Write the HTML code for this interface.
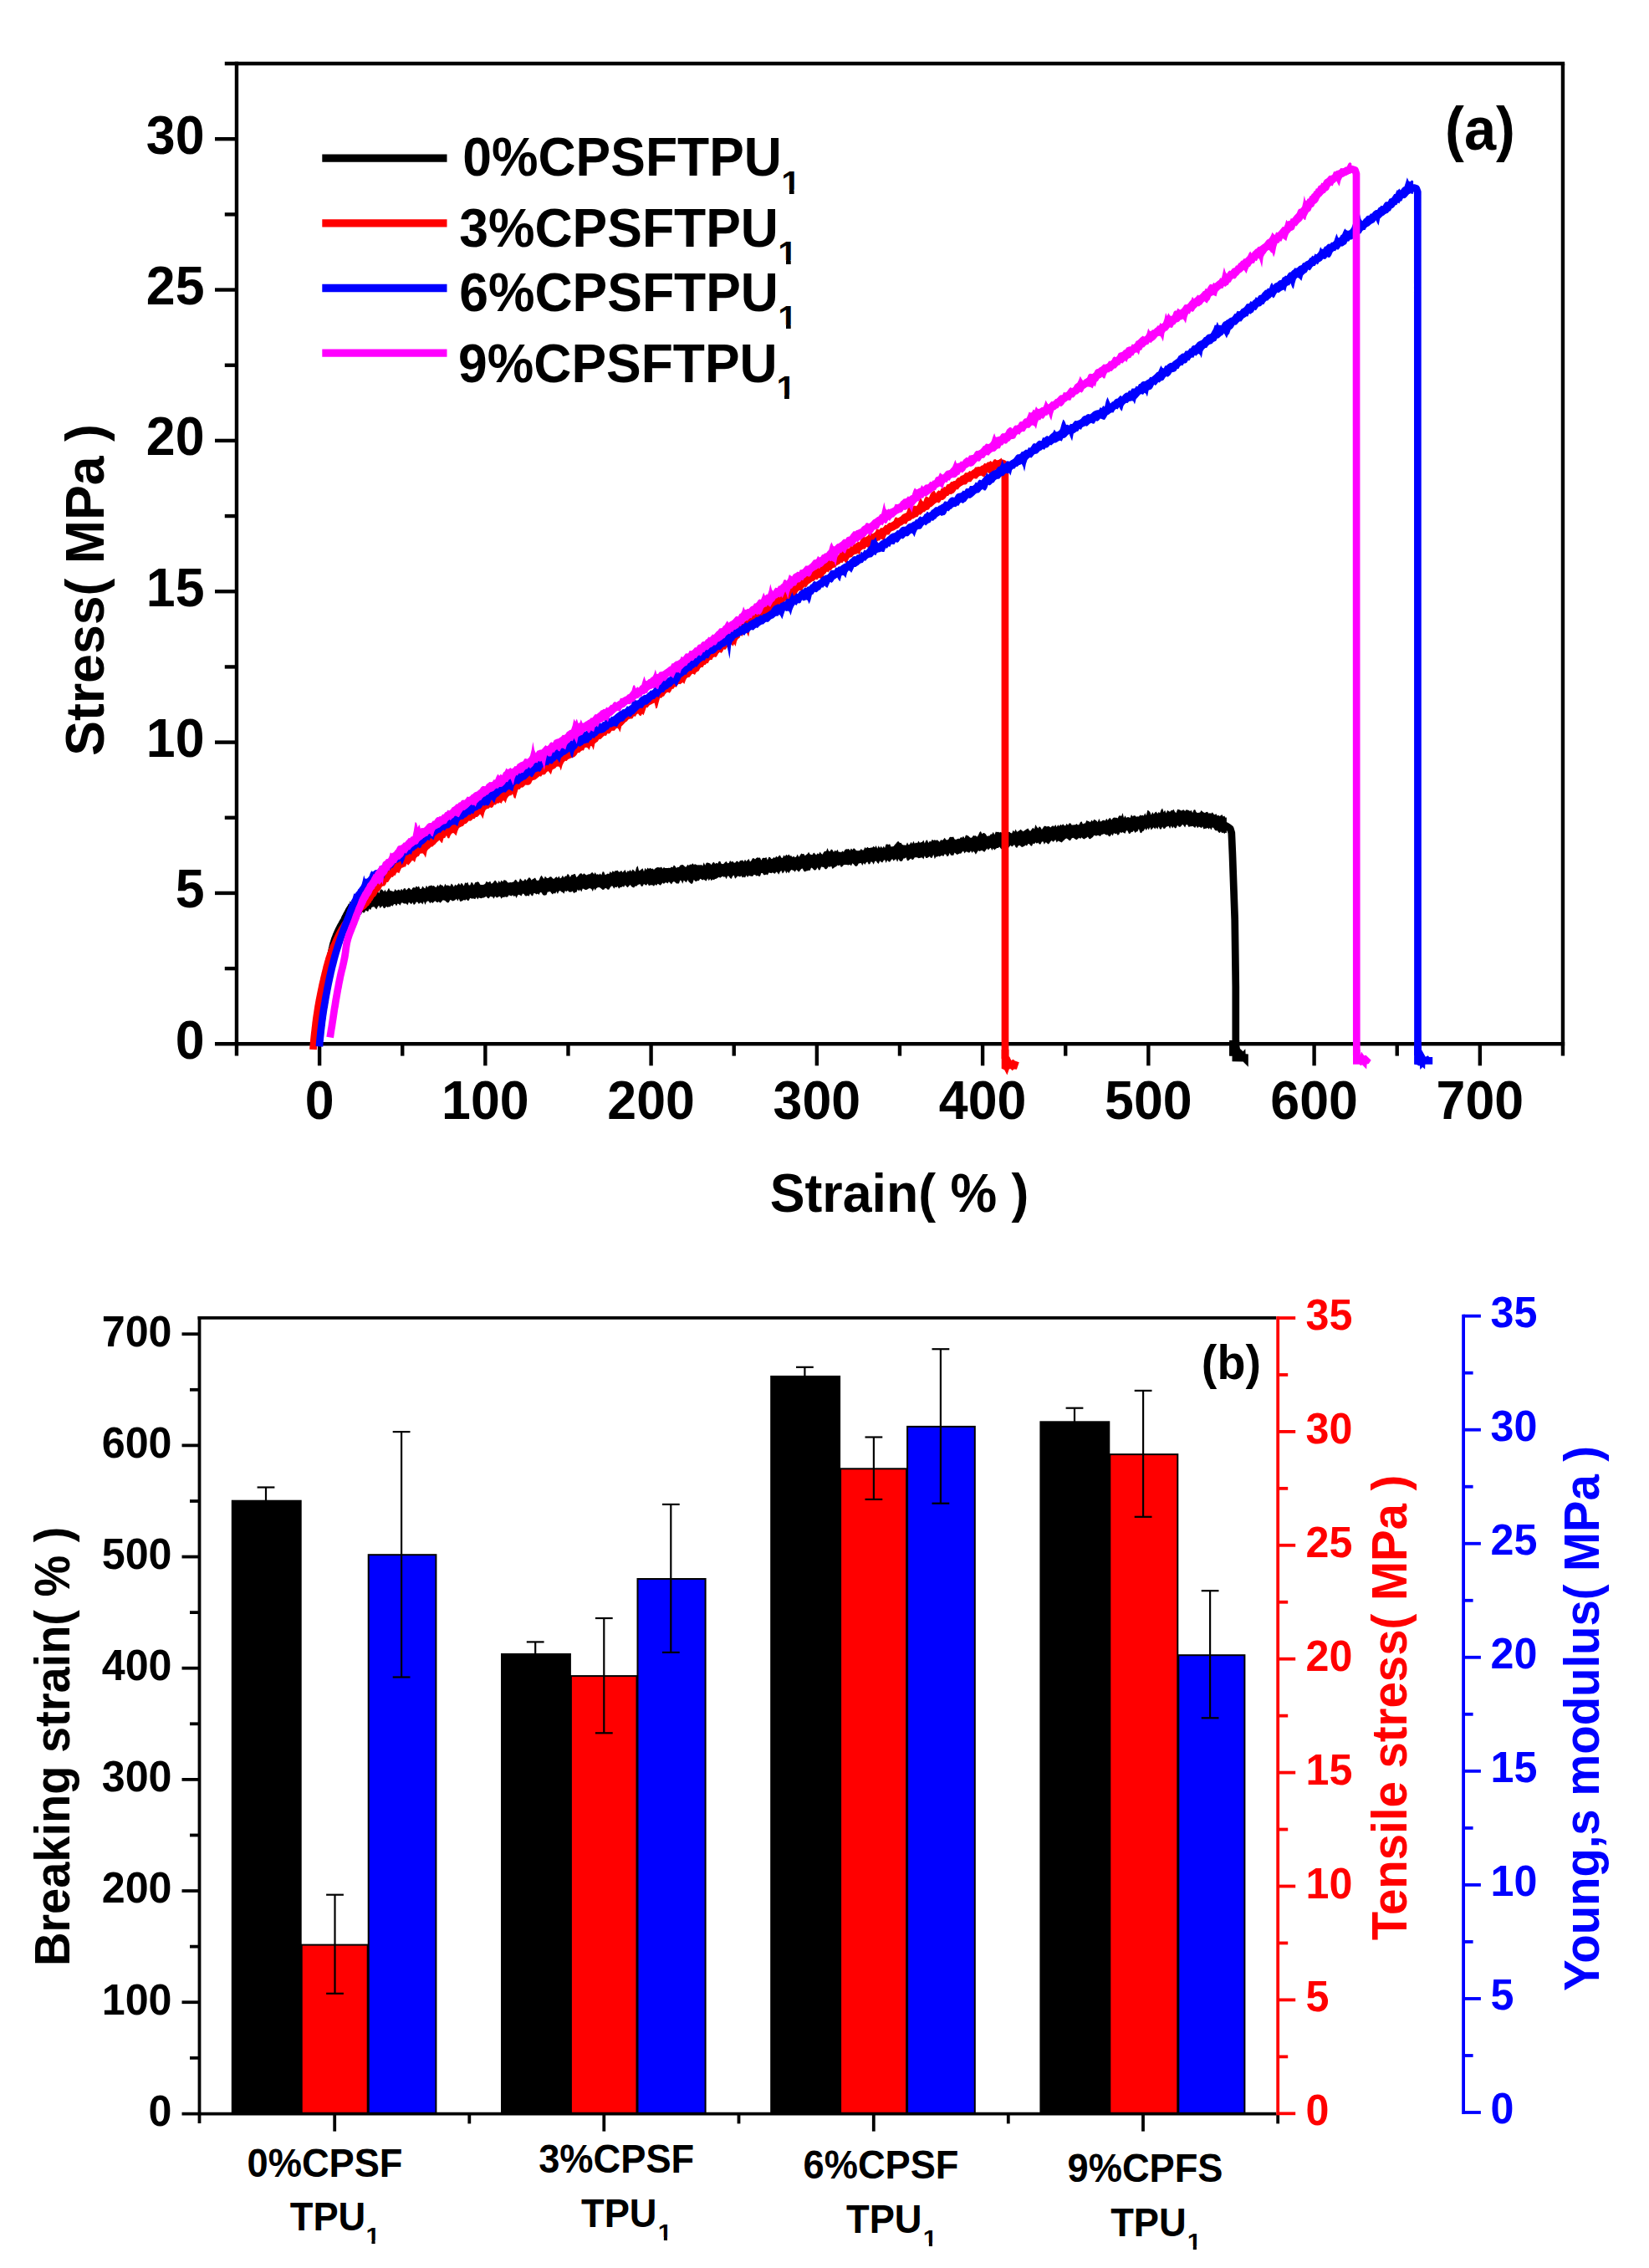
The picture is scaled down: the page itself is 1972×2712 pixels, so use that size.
<!DOCTYPE html>
<html lang="en"><head><meta charset="utf-8"><title>Mechanical properties of CPSF/TPU composites</title>
<style>html,body{margin:0;padding:0;background:#fff}svg{display:block}</style></head>
<body>
<svg width="1972" height="2712" viewBox="0 0 1972 2712" font-family="'Liberation Sans', Arial, Helvetica, sans-serif" font-weight="bold">
<rect width="1972" height="2712" fill="#fff"/>
<defs>
<clipPath id="c1"><path d="M-2,-39.20 L39.20,-39.20 L39.20,-4.90 L14.53,-4.90 L14.53,2 L9.15,2 L9.15,-4.90 L-2,-4.90 Z"/></clipPath>
<clipPath id="c2"><path d="M-2,-27.80 L27.80,-27.80 L27.80,-3.74 L10.30,-3.74 L10.30,2 L6.49,2 L6.49,-3.74 L-2,-3.74 Z"/></clipPath>
</defs>
<g id="axesA">
<line x1="282.98" y1="73.82" x2="282.98" y2="1262.60" stroke="#000" stroke-width="4.4" stroke-linecap="butt"/>
<line x1="256.98" y1="1248.30" x2="1871.17" y2="1248.30" stroke="#000" stroke-width="4.4" stroke-linecap="butt"/>
<line x1="268.78" y1="76.02" x2="1871.17" y2="76.02" stroke="#000" stroke-width="4.4" stroke-linecap="butt"/>
<line x1="1868.97" y1="76.02" x2="1868.97" y2="1262.60" stroke="#000" stroke-width="4.4" stroke-linecap="butt"/>
<line x1="256.98" y1="1067.95" x2="282.98" y2="1067.95" stroke="#000" stroke-width="4.4" stroke-linecap="butt"/>
<line x1="256.98" y1="887.60" x2="282.98" y2="887.60" stroke="#000" stroke-width="4.4" stroke-linecap="butt"/>
<line x1="256.98" y1="707.25" x2="282.98" y2="707.25" stroke="#000" stroke-width="4.4" stroke-linecap="butt"/>
<line x1="256.98" y1="526.90" x2="282.98" y2="526.90" stroke="#000" stroke-width="4.4" stroke-linecap="butt"/>
<line x1="256.98" y1="346.55" x2="282.98" y2="346.55" stroke="#000" stroke-width="4.4" stroke-linecap="butt"/>
<line x1="256.98" y1="166.20" x2="282.98" y2="166.20" stroke="#000" stroke-width="4.4" stroke-linecap="butt"/>
<line x1="268.78" y1="1158.12" x2="282.98" y2="1158.12" stroke="#000" stroke-width="4.4" stroke-linecap="butt"/>
<line x1="268.78" y1="977.77" x2="282.98" y2="977.77" stroke="#000" stroke-width="4.4" stroke-linecap="butt"/>
<line x1="268.78" y1="797.42" x2="282.98" y2="797.42" stroke="#000" stroke-width="4.4" stroke-linecap="butt"/>
<line x1="268.78" y1="617.07" x2="282.98" y2="617.07" stroke="#000" stroke-width="4.4" stroke-linecap="butt"/>
<line x1="268.78" y1="436.72" x2="282.98" y2="436.72" stroke="#000" stroke-width="4.4" stroke-linecap="butt"/>
<line x1="268.78" y1="256.38" x2="282.98" y2="256.38" stroke="#000" stroke-width="4.4" stroke-linecap="butt"/>
<line x1="382.10" y1="1248.30" x2="382.10" y2="1274.30" stroke="#000" stroke-width="4.4" stroke-linecap="butt"/>
<line x1="580.35" y1="1248.30" x2="580.35" y2="1274.30" stroke="#000" stroke-width="4.4" stroke-linecap="butt"/>
<line x1="778.60" y1="1248.30" x2="778.60" y2="1274.30" stroke="#000" stroke-width="4.4" stroke-linecap="butt"/>
<line x1="976.85" y1="1248.30" x2="976.85" y2="1274.30" stroke="#000" stroke-width="4.4" stroke-linecap="butt"/>
<line x1="1175.10" y1="1248.30" x2="1175.10" y2="1274.30" stroke="#000" stroke-width="4.4" stroke-linecap="butt"/>
<line x1="1373.35" y1="1248.30" x2="1373.35" y2="1274.30" stroke="#000" stroke-width="4.4" stroke-linecap="butt"/>
<line x1="1571.60" y1="1248.30" x2="1571.60" y2="1274.30" stroke="#000" stroke-width="4.4" stroke-linecap="butt"/>
<line x1="1769.85" y1="1248.30" x2="1769.85" y2="1274.30" stroke="#000" stroke-width="4.4" stroke-linecap="butt"/>
<line x1="481.23" y1="1248.30" x2="481.23" y2="1262.60" stroke="#000" stroke-width="4.4" stroke-linecap="butt"/>
<line x1="679.48" y1="1248.30" x2="679.48" y2="1262.60" stroke="#000" stroke-width="4.4" stroke-linecap="butt"/>
<line x1="877.73" y1="1248.30" x2="877.73" y2="1262.60" stroke="#000" stroke-width="4.4" stroke-linecap="butt"/>
<line x1="1075.97" y1="1248.30" x2="1075.97" y2="1262.60" stroke="#000" stroke-width="4.4" stroke-linecap="butt"/>
<line x1="1274.22" y1="1248.30" x2="1274.22" y2="1262.60" stroke="#000" stroke-width="4.4" stroke-linecap="butt"/>
<line x1="1472.47" y1="1248.30" x2="1472.47" y2="1262.60" stroke="#000" stroke-width="4.4" stroke-linecap="butt"/>
<line x1="1670.72" y1="1248.30" x2="1670.72" y2="1262.60" stroke="#000" stroke-width="4.4" stroke-linecap="butt"/>
</g>
<g id="curves">
<path d="M376.3,1250.0 L376.4,1248.5 L376.5,1247.0 L376.7,1245.5 L376.8,1244.0 L376.9,1242.5 L377.1,1241.0 L377.2,1239.5 L377.4,1238.0 L377.5,1236.5 L377.7,1235.1 L377.8,1233.6 L378.0,1232.1 L378.2,1230.6 L378.3,1229.1 L378.5,1227.6 L378.7,1226.1 L378.9,1224.6 L379.1,1223.1 L379.2,1221.6 L379.4,1220.2 L379.6,1218.7 L379.8,1217.2 L380.0,1215.7 L380.2,1214.2 L380.4,1212.7 L380.7,1211.3 L380.9,1209.8 L381.1,1208.3 L381.4,1206.8 L381.6,1205.3 L381.9,1203.8 L382.1,1202.4 L382.4,1200.9 L382.7,1199.4 L382.9,1197.9 L383.2,1196.5 L383.4,1195.0 L383.7,1193.5 L384.0,1192.0 L384.2,1190.6 L384.5,1189.1 L384.8,1187.6 L385.1,1186.1 L385.4,1184.7 L385.7,1183.2 L386.0,1181.7 L386.3,1180.2 L386.6,1178.8 L386.9,1177.3 L387.2,1175.8 L387.5,1174.4 L387.8,1172.9 L388.1,1171.4 L388.5,1170.0 L388.8,1168.5 L389.1,1167.1 L389.5,1165.6 L389.9,1164.2 L390.2,1162.7 L390.6,1161.2 L391.0,1159.8 L391.4,1158.3 L391.8,1156.9 L392.2,1155.4 L392.5,1154.0 L392.9,1152.5 L393.3,1151.1 L393.7,1149.6 L394.1,1148.2 L394.4,1146.7 L394.8,1145.3 L395.1,1143.8 L395.4,1142.3 L395.7,1140.9 L396.1,1139.4 L396.4,1137.9 L396.7,1136.5 L397.0,1135.0 L397.3,1133.5 L397.7,1132.1 L398.0,1130.6 L398.4,1129.2 L398.8,1127.7 L399.3,1126.3 L399.7,1124.9 L400.2,1123.5 L400.7,1122.0 L401.3,1120.6 L401.8,1119.2 L402.4,1117.8 L402.9,1116.5 L403.5,1115.1 L404.1,1113.7 L404.8,1112.4 L405.4,1111.0 L406.1,1109.7 L406.8,1108.4 L407.5,1107.0 L408.3,1105.7 L409.0,1104.4 L409.7,1103.1 L410.5,1101.8 L411.2,1100.5 L411.9,1099.1 L412.7,1097.8 L413.4,1096.5 L414.2,1095.3 L415.1,1094.0 L415.9,1092.8 L416.8,1091.6 L417.8,1090.3 L418.7,1089.1 L419.8,1087.9 L420.8,1086.9 L422.0,1086.1 L423.2,1085.4 L424.5,1084.9 L425.9,1084.3 L427.4,1083.9 L428.9,1083.4 L430.3,1083.0 L431.8,1082.5 L433.2,1082.0 L434.6,1081.4 L436.0,1080.9 L437.4,1080.3 L438.8,1079.8 L440.2,1079.3 L441.6,1078.8 L443.0,1078.3 L444.5,1077.8 L445.9,1077.3 L447.3,1076.9 L448.8,1076.5 L450.2,1076.0 L451.7,1075.7 L453.1,1075.3 L454.6,1075.1 L456.1,1074.8 L457.5,1074.6 L459.0,1074.4 L460.5,1074.3 L462.0,1074.1 L463.5,1074.0 L465.0,1073.8 L466.5,1073.7 L468.0,1073.5 L469.5,1073.4 L471.0,1073.3 L472.5,1073.1 L474.0,1073.0 L475.5,1072.8 L477.0,1072.7 L478.5,1072.6 L480.0,1072.4 L481.5,1072.3 L482.9,1072.2 L484.4,1072.0 L485.9,1071.9 L487.4,1071.8 L488.9,1071.7 L490.4,1071.5 L491.9,1071.4 L493.4,1071.3 L494.9,1071.2 L496.4,1071.0 L497.9,1070.9 L499.4,1070.8 L500.9,1070.7 L502.4,1070.6 L503.9,1070.4 L505.4,1070.3 L506.9,1070.2 L508.4,1070.1 L509.9,1070.0 L511.4,1069.9 L512.8,1069.7 L514.3,1069.6 L515.8,1069.5 L517.3,1069.4 L518.8,1069.3 L520.3,1069.2 L521.8,1069.1 L523.3,1069.0 L524.8,1068.8 L526.3,1068.7 L527.8,1068.6 L529.3,1068.5 L530.8,1068.4 L532.3,1068.3 L533.8,1068.2 L535.3,1068.1 L536.8,1068.0 L538.3,1067.9 L539.8,1067.8 L541.3,1067.6 L542.8,1067.5 L544.3,1067.4 L545.8,1067.3 L547.3,1067.2 L548.8,1067.1 L550.2,1067.0 L551.7,1066.9 L553.2,1066.8 L554.7,1066.7 L556.2,1066.6 L557.7,1066.4 L559.2,1066.3 L560.7,1066.2 L562.2,1066.1 L563.7,1066.0 L565.2,1065.9 L566.7,1065.8 L568.2,1065.7 L569.7,1065.6 L571.2,1065.5 L572.7,1065.3 L574.2,1065.2 L575.7,1065.1 L577.2,1065.0 L578.7,1064.9 L580.2,1064.8 L581.7,1064.7 L583.2,1064.6 L584.7,1064.4 L586.1,1064.3 L587.6,1064.2 L589.1,1064.1 L590.6,1064.0 L592.1,1063.9 L593.6,1063.8 L595.1,1063.7 L596.6,1063.5 L598.1,1063.4 L599.6,1063.3 L601.1,1063.2 L602.6,1063.1 L604.1,1063.0 L605.6,1062.9 L607.1,1062.7 L608.6,1062.6 L610.1,1062.5 L611.6,1062.4 L613.1,1062.3 L614.6,1062.2 L616.1,1062.0 L617.6,1061.9 L619.1,1061.8 L620.5,1061.7 L622.0,1061.6 L623.5,1061.5 L625.0,1061.3 L626.5,1061.2 L628.0,1061.1 L629.5,1061.0 L631.0,1060.9 L632.5,1060.8 L634.0,1060.6 L635.5,1060.5 L637.0,1060.4 L638.5,1060.3 L640.0,1060.2 L641.5,1060.0 L643.0,1059.9 L644.5,1059.8 L646.0,1059.7 L647.5,1059.6 L649.0,1059.4 L650.5,1059.3 L651.9,1059.2 L653.4,1059.1 L654.9,1059.0 L656.4,1058.8 L657.9,1058.7 L659.4,1058.6 L660.9,1058.5 L662.4,1058.4 L663.9,1058.2 L665.4,1058.1 L666.9,1058.0 L668.4,1057.9 L669.9,1057.8 L671.4,1057.6 L672.9,1057.5 L674.4,1057.4 L675.9,1057.3 L677.4,1057.1 L678.9,1057.0 L680.4,1056.9 L681.8,1056.8 L683.3,1056.7 L684.8,1056.5 L686.3,1056.4 L687.8,1056.3 L689.3,1056.2 L690.8,1056.0 L692.3,1055.9 L693.8,1055.8 L695.3,1055.7 L696.8,1055.5 L698.3,1055.4 L699.8,1055.3 L701.3,1055.2 L702.8,1055.0 L704.3,1054.9 L705.8,1054.8 L707.3,1054.7 L708.8,1054.5 L710.3,1054.4 L711.7,1054.3 L713.2,1054.2 L714.7,1054.0 L716.2,1053.9 L717.7,1053.8 L719.2,1053.7 L720.7,1053.5 L722.2,1053.4 L723.7,1053.3 L725.2,1053.1 L726.7,1053.0 L728.2,1052.9 L729.7,1052.8 L731.2,1052.6 L732.7,1052.5 L734.2,1052.4 L735.7,1052.2 L737.2,1052.1 L738.6,1052.0 L740.1,1051.9 L741.6,1051.7 L743.1,1051.6 L744.6,1051.5 L746.1,1051.3 L747.6,1051.2 L749.1,1051.1 L750.6,1051.0 L752.1,1050.8 L753.6,1050.7 L755.1,1050.6 L756.6,1050.4 L758.1,1050.3 L759.6,1050.2 L761.1,1050.0 L762.6,1049.9 L764.1,1049.8 L765.5,1049.7 L767.0,1049.5 L768.5,1049.4 L770.0,1049.3 L771.5,1049.1 L773.0,1049.0 L774.5,1048.9 L776.0,1048.7 L777.5,1048.6 L779.0,1048.5 L780.5,1048.3 L782.0,1048.2 L783.5,1048.1 L785.0,1047.9 L786.5,1047.8 L788.0,1047.7 L789.5,1047.5 L790.9,1047.4 L792.4,1047.3 L793.9,1047.1 L795.4,1047.0 L796.9,1046.9 L798.4,1046.7 L799.9,1046.6 L801.4,1046.5 L802.9,1046.3 L804.4,1046.2 L805.9,1046.1 L807.4,1045.9 L808.9,1045.8 L810.4,1045.7 L811.9,1045.5 L813.4,1045.4 L814.9,1045.2 L816.3,1045.1 L817.8,1045.0 L819.3,1044.8 L820.8,1044.7 L822.3,1044.6 L823.8,1044.4 L825.3,1044.3 L826.8,1044.2 L828.3,1044.0 L829.8,1043.9 L831.3,1043.7 L832.8,1043.6 L834.3,1043.5 L835.8,1043.3 L837.3,1043.2 L838.8,1043.1 L840.2,1042.9 L841.7,1042.8 L843.2,1042.6 L844.7,1042.5 L846.2,1042.4 L847.7,1042.2 L849.2,1042.1 L850.7,1041.9 L852.2,1041.8 L853.7,1041.7 L855.2,1041.5 L856.7,1041.4 L858.2,1041.2 L859.7,1041.1 L861.2,1041.0 L862.6,1040.8 L864.1,1040.7 L865.6,1040.5 L867.1,1040.4 L868.6,1040.3 L870.1,1040.1 L871.6,1040.0 L873.1,1039.8 L874.6,1039.7 L876.1,1039.5 L877.6,1039.4 L879.1,1039.3 L880.6,1039.1 L882.1,1039.0 L883.6,1038.8 L885.0,1038.7 L886.5,1038.5 L888.0,1038.4 L889.5,1038.3 L891.0,1038.1 L892.5,1038.0 L894.0,1037.8 L895.5,1037.7 L897.0,1037.5 L898.5,1037.4 L900.0,1037.3 L901.5,1037.1 L903.0,1037.0 L904.5,1036.8 L905.9,1036.7 L907.4,1036.5 L908.9,1036.4 L910.4,1036.2 L911.9,1036.1 L913.4,1035.9 L914.9,1035.8 L916.4,1035.7 L917.9,1035.5 L919.4,1035.4 L920.9,1035.2 L922.4,1035.1 L923.9,1034.9 L925.4,1034.8 L926.8,1034.6 L928.3,1034.5 L929.8,1034.3 L931.3,1034.2 L932.8,1034.0 L934.3,1033.9 L935.8,1033.7 L937.3,1033.6 L938.8,1033.4 L940.3,1033.3 L941.8,1033.1 L943.3,1033.0 L944.8,1032.8 L946.3,1032.7 L947.7,1032.5 L949.2,1032.4 L950.7,1032.2 L952.2,1032.1 L953.7,1031.9 L955.2,1031.8 L956.7,1031.6 L958.2,1031.5 L959.7,1031.3 L961.2,1031.2 L962.7,1031.0 L964.2,1030.9 L965.7,1030.7 L967.1,1030.6 L968.6,1030.4 L970.1,1030.3 L971.6,1030.1 L973.1,1030.0 L974.6,1029.8 L976.1,1029.7 L977.6,1029.5 L979.1,1029.4 L980.6,1029.2 L982.1,1029.1 L983.6,1028.9 L985.1,1028.7 L986.5,1028.6 L988.0,1028.4 L989.5,1028.3 L991.0,1028.1 L992.5,1028.0 L994.0,1027.8 L995.5,1027.7 L997.0,1027.5 L998.5,1027.4 L1000.0,1027.2 L1001.5,1027.0 L1003.0,1026.9 L1004.4,1026.7 L1005.9,1026.6 L1007.4,1026.4 L1008.9,1026.3 L1010.4,1026.1 L1011.9,1025.9 L1013.4,1025.8 L1014.9,1025.6 L1016.4,1025.5 L1017.9,1025.3 L1019.4,1025.2 L1020.9,1025.0 L1022.3,1024.8 L1023.8,1024.7 L1025.3,1024.5 L1026.8,1024.4 L1028.3,1024.2 L1029.8,1024.1 L1031.3,1023.9 L1032.8,1023.7 L1034.3,1023.6 L1035.8,1023.4 L1037.3,1023.3 L1038.8,1023.1 L1040.2,1022.9 L1041.7,1022.8 L1043.2,1022.6 L1044.7,1022.5 L1046.2,1022.3 L1047.7,1022.1 L1049.2,1022.0 L1050.7,1021.8 L1052.2,1021.6 L1053.7,1021.5 L1055.2,1021.3 L1056.7,1021.2 L1058.1,1021.0 L1059.6,1020.8 L1061.1,1020.7 L1062.6,1020.5 L1064.1,1020.3 L1065.6,1020.2 L1067.1,1020.0 L1068.6,1019.9 L1070.1,1019.7 L1071.6,1019.5 L1073.1,1019.4 L1074.5,1019.2 L1076.0,1019.0 L1077.5,1018.9 L1079.0,1018.7 L1080.5,1018.5 L1082.0,1018.4 L1083.5,1018.2 L1085.0,1018.0 L1086.5,1017.9 L1088.0,1017.7 L1089.5,1017.5 L1090.9,1017.4 L1092.4,1017.2 L1093.9,1017.1 L1095.4,1016.9 L1096.9,1016.7 L1098.4,1016.5 L1099.9,1016.4 L1101.4,1016.2 L1102.9,1016.0 L1104.4,1015.9 L1105.8,1015.7 L1107.3,1015.5 L1108.8,1015.4 L1110.3,1015.2 L1111.8,1015.0 L1113.3,1014.9 L1114.8,1014.7 L1116.3,1014.5 L1117.8,1014.4 L1119.3,1014.2 L1120.8,1014.0 L1122.2,1013.8 L1123.7,1013.7 L1125.2,1013.5 L1126.7,1013.3 L1128.2,1013.2 L1129.7,1013.0 L1131.2,1012.8 L1132.7,1012.7 L1134.2,1012.5 L1135.7,1012.3 L1137.1,1012.1 L1138.6,1012.0 L1140.1,1011.8 L1141.6,1011.6 L1143.1,1011.4 L1144.6,1011.3 L1146.1,1011.1 L1147.6,1010.9 L1149.1,1010.8 L1150.6,1010.6 L1152.0,1010.4 L1153.5,1010.2 L1155.0,1010.1 L1156.5,1009.9 L1158.0,1009.7 L1159.5,1009.5 L1161.0,1009.4 L1162.5,1009.2 L1164.0,1009.0 L1165.5,1008.8 L1166.9,1008.7 L1168.4,1008.5 L1169.9,1008.3 L1171.4,1008.1 L1172.9,1008.0 L1174.4,1007.8 L1175.9,1007.6 L1177.4,1007.4 L1178.9,1007.2 L1180.4,1007.1 L1181.8,1006.9 L1183.3,1006.7 L1184.8,1006.5 L1186.3,1006.4 L1187.8,1006.2 L1189.3,1006.0 L1190.8,1005.8 L1192.3,1005.6 L1193.8,1005.5 L1195.2,1005.3 L1196.7,1005.1 L1198.2,1004.9 L1199.7,1004.7 L1201.2,1004.6 L1202.7,1004.4 L1204.2,1004.2 L1205.7,1004.0 L1207.2,1003.8 L1208.6,1003.7 L1210.1,1003.5 L1211.6,1003.3 L1213.1,1003.1 L1214.6,1002.9 L1216.1,1002.8 L1217.6,1002.6 L1219.1,1002.4 L1220.6,1002.2 L1222.0,1002.0 L1223.5,1001.8 L1225.0,1001.7 L1226.5,1001.5 L1228.0,1001.3 L1229.5,1001.1 L1231.0,1000.9 L1232.5,1000.7 L1234.0,1000.6 L1235.4,1000.4 L1236.9,1000.2 L1238.4,1000.0 L1239.9,999.8 L1241.4,999.6 L1242.9,999.4 L1244.4,999.3 L1245.9,999.1 L1247.4,998.9 L1248.8,998.7 L1250.3,998.5 L1251.8,998.3 L1253.3,998.1 L1254.8,997.9 L1256.3,997.8 L1257.8,997.6 L1259.3,997.4 L1260.7,997.2 L1262.2,997.0 L1263.7,996.8 L1265.2,996.6 L1266.7,996.4 L1268.2,996.3 L1269.7,996.1 L1271.2,995.9 L1272.7,995.7 L1274.1,995.5 L1275.6,995.3 L1277.1,995.1 L1278.6,994.9 L1280.1,994.7 L1281.6,994.5 L1283.1,994.3 L1284.6,994.2 L1286.0,994.0 L1287.5,993.8 L1289.0,993.6 L1290.5,993.4 L1292.0,993.2 L1293.5,993.0 L1295.0,992.8 L1296.5,992.6 L1297.9,992.4 L1299.4,992.2 L1300.9,992.0 L1302.4,991.8 L1303.9,991.7 L1305.4,991.5 L1306.9,991.3 L1308.4,991.1 L1309.8,990.9 L1311.3,990.7 L1312.8,990.5 L1314.3,990.3 L1315.8,990.1 L1317.3,989.9 L1318.8,989.7 L1320.3,989.5 L1321.7,989.3 L1323.2,989.1 L1324.7,988.9 L1326.2,988.7 L1327.7,988.5 L1329.2,988.3 L1330.7,988.1 L1332.1,987.9 L1333.6,987.7 L1335.1,987.5 L1336.6,987.3 L1338.1,987.1 L1339.6,986.9 L1341.1,986.7 L1342.6,986.5 L1344.0,986.3 L1345.5,986.1 L1347.0,985.9 L1348.5,985.7 L1350.0,985.5 L1351.5,985.3 L1353.0,985.1 L1354.4,984.9 L1355.9,984.7 L1357.4,984.5 L1358.9,984.3 L1360.4,984.1 L1361.9,983.9 L1363.4,983.7 L1364.9,983.5 L1366.3,983.3 L1367.8,983.1 L1369.3,982.9 L1370.8,982.7 L1372.3,982.5 L1373.8,982.3 L1375.2,982.0 L1376.7,981.8 L1378.2,981.5 L1379.7,981.3 L1381.2,981.1 L1382.7,980.9 L1384.2,980.7 L1385.6,980.5 L1387.1,980.3 L1388.6,980.2 L1390.1,980.0 L1391.6,979.9 L1393.1,979.9 L1394.6,979.8 L1396.1,979.7 L1397.6,979.6 L1399.1,979.5 L1400.6,979.4 L1402.1,979.3 L1403.6,979.2 L1405.1,979.2 L1406.6,979.1 L1408.1,979.0 L1409.6,979.0 L1411.1,978.9 L1412.6,978.9 L1414.1,978.9 L1415.6,978.8 L1417.1,978.8 L1418.6,978.8 L1420.1,978.8 L1421.6,978.8 L1423.1,978.9 L1424.6,978.9 L1426.1,979.0 L1427.6,979.1 L1429.1,979.2 L1430.6,979.3 L1432.1,979.5 L1433.6,979.6 L1435.1,979.8 L1436.6,980.0 L1438.1,980.1 L1439.5,980.3 L1441.0,980.5 L1442.5,980.7 L1444.0,980.9 L1445.5,981.2 L1446.9,981.5 L1448.4,981.8 L1449.9,982.1 L1451.4,982.5 L1452.8,982.8 L1454.3,983.2 L1455.7,983.6 L1457.2,984.1 L1458.6,984.5 L1460.0,984.9 L1461.4,985.4 L1462.8,986.0 L1464.2,986.6 L1465.5,987.2 L1466.9,987.9 L1468.0,988.5 L1471.3,991.0 L1472.8,996.0 L1473.9,1021.0 L1476.7,1100.0 L1477.8,1180.0 L1477.8,1250.0" fill="none" stroke="#000" stroke-width="8.7" stroke-linejoin="round" stroke-linecap="butt"/>
<path d="M408.3,1096.7 L409.0,1095.1 L409.7,1093.8 L410.5,1092.1 L411.2,1090.7 L411.9,1089.4 L412.7,1088.0 L413.4,1086.6 L414.2,1085.3 L415.1,1083.8 L415.9,1082.8 L416.8,1080.5 L417.8,1080.7 L418.7,1077.2 L419.8,1079.4 L420.8,1076.0 L422.0,1076.4 L423.2,1075.4 L424.5,1076.9 L425.9,1075.6 L427.4,1071.5 L428.9,1071.5 L430.3,1074.4 L431.8,1072.1 L433.2,1069.7 L434.6,1067.7 L436.0,1072.6 L437.4,1072.9 L438.8,1071.7 L440.2,1068.0 L441.6,1071.1 L443.0,1069.2 L444.5,1066.2 L445.9,1067.7 L447.3,1066.6 L448.8,1067.9 L450.2,1065.8 L451.7,1064.8 L453.1,1068.2 L454.6,1064.6 L456.1,1063.3 L457.5,1064.2 L459.0,1066.2 L460.5,1063.7 L462.0,1066.7 L463.5,1064.5 L465.0,1061.8 L466.5,1065.1 L468.0,1065.3 L469.5,1065.8 L471.0,1066.2 L472.5,1063.0 L474.0,1065.0 L475.5,1064.6 L477.0,1063.5 L478.5,1065.3 L480.0,1062.8 L481.5,1064.7 L482.9,1062.5 L484.4,1061.9 L485.9,1064.5 L487.4,1062.9 L488.9,1061.5 L490.4,1062.7 L491.9,1064.2 L493.4,1061.8 L494.9,1061.1 L496.4,1061.7 L497.9,1059.6 L499.4,1061.1 L500.9,1059.6 L502.4,1063.0 L503.9,1062.8 L505.4,1059.6 L506.9,1061.4 L508.4,1062.4 L509.9,1058.7 L511.4,1061.3 L512.8,1059.3 L514.3,1059.3 L515.8,1058.5 L517.3,1059.6 L518.8,1058.9 L520.3,1060.6 L521.8,1060.9 L523.3,1057.9 L524.8,1059.9 L526.3,1057.3 L527.8,1058.6 L529.3,1058.7 L530.8,1060.8 L532.3,1056.8 L533.8,1059.1 L535.3,1058.5 L536.8,1059.1 L538.3,1059.8 L539.8,1056.6 L541.3,1058.0 L542.8,1060.6 L544.3,1057.6 L545.8,1058.9 L547.3,1057.8 L548.8,1056.1 L550.2,1058.4 L551.7,1055.7 L553.2,1056.9 L554.7,1059.6 L556.2,1055.3 L557.7,1056.3 L559.2,1054.8 L560.7,1058.5 L562.2,1058.5 L563.7,1054.8 L565.2,1055.7 L566.7,1058.5 L568.2,1055.2 L569.7,1055.1 L571.2,1054.2 L572.7,1055.1 L574.2,1057.7 L575.7,1058.1 L577.2,1057.9 L578.7,1057.8 L580.2,1056.7 L581.7,1053.8 L583.2,1055.1 L584.7,1054.9 L586.1,1053.5 L587.6,1056.7 L589.1,1055.9 L590.6,1054.3 L592.1,1052.5 L593.6,1054.2 L595.1,1056.6 L596.6,1052.9 L598.1,1055.4 L599.6,1052.6 L601.1,1054.5 L602.6,1052.2 L604.1,1052.6 L605.6,1053.3 L607.1,1055.2 L608.6,1055.4 L610.1,1055.0 L611.6,1055.2 L613.1,1054.8 L614.6,1054.2 L616.1,1051.8 L617.6,1052.4 L619.1,1054.8 L620.5,1054.4 L622.0,1050.2 L623.5,1051.9 L625.0,1053.4 L626.5,1053.1 L628.0,1050.7 L629.5,1053.1 L631.0,1051.2 L632.5,1049.3 L634.0,1049.8 L635.5,1052.5 L637.0,1051.2 L638.5,1050.5 L640.0,1049.4 L641.5,1052.4 L643.0,1052.9 L644.5,1052.5 L646.0,1049.1 L647.5,1046.7 L649.0,1049.1 L650.5,1050.9 L651.9,1047.7 L653.4,1049.5 L654.9,1050.3 L656.4,1049.4 L657.9,1048.3 L659.4,1048.6 L660.9,1050.3 L662.4,1051.1 L663.9,1049.6 L665.4,1048.3 L666.9,1050.1 L668.4,1047.5 L669.9,1050.5 L671.4,1049.5 L672.9,1046.8 L674.4,1049.5 L675.9,1047.4 L677.4,1047.8 L678.9,1044.7 L680.4,1046.2 L681.8,1048.9 L683.3,1046.3 L684.8,1046.0 L686.3,1045.3 L687.8,1045.0 L689.3,1049.1 L690.8,1048.0 L692.3,1046.1 L693.8,1044.5 L695.3,1044.3 L696.8,1046.0 L698.3,1044.2 L699.8,1045.4 L701.3,1046.4 L702.8,1045.8 L704.3,1045.2 L705.8,1045.3 L707.3,1043.4 L708.8,1043.3 L710.3,1045.6 L711.7,1042.9 L713.2,1045.8 L714.7,1045.2 L716.2,1046.0 L717.7,1044.5 L719.2,1046.6 L720.7,1042.2 L722.2,1042.6 L723.7,1046.2 L725.2,1045.4 L726.7,1044.5 L728.2,1045.3 L729.7,1042.1 L731.2,1044.1 L732.7,1041.2 L734.2,1042.7 L735.7,1041.2 L737.2,1041.2 L738.6,1040.7 L740.1,1042.7 L741.6,1042.3 L743.1,1041.0 L744.6,1043.2 L746.1,1041.5 L747.6,1040.1 L749.1,1043.7 L750.6,1041.3 L752.1,1041.9 L753.6,1040.0 L755.1,1042.2 L756.6,1039.4 L758.1,1040.7 L759.6,1042.4 L761.1,1037.2 L762.6,1035.2 L764.1,1041.3 L765.5,1040.8 L767.0,1039.4 L768.5,1038.2 L770.0,1042.3 L771.5,1037.7 L773.0,1040.3 L774.5,1037.4 L776.0,1039.0 L777.5,1037.8 L779.0,1038.9 L780.5,1038.5 L782.0,1039.9 L783.5,1038.4 L785.0,1037.5 L786.5,1036.9 L788.0,1037.2 L789.5,1037.4 L790.9,1036.5 L792.4,1038.8 L793.9,1037.1 L795.4,1038.0 L796.9,1038.1 L798.4,1037.9 L799.9,1037.8 L801.4,1038.0 L802.9,1036.5 L804.4,1037.2 L805.9,1034.6 L807.4,1035.8 L808.9,1037.9 L810.4,1036.7 L811.9,1037.0 L813.4,1034.7 L814.9,1034.2 L816.3,1034.0 L817.8,1035.0 L819.3,1036.6 L820.8,1036.6 L822.3,1033.7 L823.8,1035.0 L825.3,1033.6 L826.8,1033.9 L828.3,1032.2 L829.8,1034.1 L831.3,1033.2 L832.8,1034.0 L834.3,1034.4 L835.8,1034.2 L837.3,1034.6 L838.8,1034.0 L840.2,1035.6 L841.7,1031.3 L843.2,1034.8 L844.7,1031.8 L846.2,1031.4 L847.7,1032.1 L849.2,1032.5 L850.7,1034.2 L852.2,1031.7 L853.7,1030.8 L855.2,1033.0 L856.7,1031.7 L858.2,1032.8 L859.7,1029.9 L861.2,1029.8 L862.6,1032.7 L864.1,1033.2 L865.6,1032.7 L867.1,1031.1 L868.6,1029.9 L870.1,1032.2 L871.6,1031.9 L873.1,1028.9 L874.6,1030.8 L876.1,1029.7 L877.6,1031.4 L879.1,1031.8 L880.6,1029.8 L882.1,1029.8 L883.6,1031.2 L885.0,1028.9 L886.5,1029.1 L888.0,1028.4 L889.5,1030.6 L891.0,1027.7 L892.5,1030.0 L894.0,1028.5 L895.5,1027.1 L897.0,1030.5 L898.5,1028.9 L900.0,1026.3 L901.5,1026.3 L903.0,1027.5 L904.5,1025.9 L905.9,1025.3 L907.4,1025.8 L908.9,1025.5 L910.4,1028.8 L911.9,1026.1 L913.4,1025.7 L914.9,1026.0 L916.4,1025.0 L917.9,1028.4 L919.4,1024.8 L920.9,1024.9 L922.4,1026.9 L923.9,1026.8 L925.4,1024.9 L926.8,1026.1 L928.3,1023.8 L929.8,1025.3 L931.3,1023.6 L932.8,1022.5 L934.3,1025.5 L935.8,1026.1 L937.3,1022.5 L938.8,1024.0 L940.3,1021.8 L941.8,1023.2 L943.3,1021.4 L944.8,1023.4 L946.3,1023.3 L947.7,1024.9 L949.2,1023.8 L950.7,1025.2 L952.2,1024.4 L953.7,1021.5 L955.2,1024.7 L956.7,1023.0 L958.2,1020.6 L959.7,1021.2 L961.2,1021.0 L962.7,1023.2 L964.2,1021.9 L965.7,1021.1 L967.1,1018.7 L968.6,1021.6 L970.1,1021.9 L971.6,1021.9 L973.1,1019.6 L974.6,1020.7 L976.1,1022.4 L977.6,1020.2 L979.1,1021.4 L980.6,1018.6 L982.1,1020.7 L983.6,1021.8 L985.1,1019.0 L986.5,1017.7 L988.0,1017.9 L989.5,1013.9 L991.0,1017.8 L992.5,1018.1 L994.0,1015.5 L995.5,1016.2 L997.0,1019.1 L998.5,1016.8 L1000.0,1018.1 L1001.5,1015.7 L1003.0,1018.9 L1004.4,1018.5 L1005.9,1019.2 L1007.4,1017.5 L1008.9,1018.8 L1010.4,1016.2 L1011.9,1015.3 L1013.4,1015.6 L1014.9,1015.1 L1016.4,1016.9 L1017.9,1014.5 L1019.4,1016.2 L1020.9,1014.2 L1022.3,1015.0 L1023.8,1017.1 L1025.3,1017.2 L1026.8,1017.3 L1028.3,1016.9 L1029.8,1015.0 L1031.3,1016.4 L1032.8,1016.6 L1034.3,1013.1 L1035.8,1014.6 L1037.3,1012.8 L1038.8,1014.0 L1040.2,1013.9 L1041.7,1013.6 L1043.2,1013.5 L1044.7,1011.8 L1046.2,1013.5 L1047.7,1011.0 L1049.2,1014.8 L1050.7,1011.3 L1052.2,1014.1 L1053.7,1011.7 L1055.2,1014.3 L1056.7,1011.7 L1058.1,1014.0 L1059.6,1009.5 L1061.1,1009.5 L1062.6,1009.9 L1064.1,1009.2 L1065.6,1012.5 L1067.1,1012.3 L1068.6,1012.0 L1070.1,1009.9 L1071.6,1008.4 L1073.1,1006.6 L1074.5,1006.1 L1076.0,1008.0 L1077.5,1007.7 L1079.0,1009.9 L1080.5,1010.4 L1082.0,1010.6 L1083.5,1010.7 L1085.0,1007.3 L1086.5,1010.2 L1088.0,1009.5 L1089.5,1006.8 L1090.9,1009.0 L1092.4,1005.7 L1093.9,1008.8 L1095.4,1007.5 L1096.9,1008.3 L1098.4,1005.4 L1099.9,1007.7 L1101.4,1007.2 L1102.9,1006.7 L1104.4,1004.6 L1105.8,1008.6 L1107.3,1005.3 L1108.8,1004.3 L1110.3,1008.1 L1111.8,1005.7 L1113.3,1006.4 L1114.8,1003.8 L1116.3,1005.0 L1117.8,1004.2 L1119.3,1005.1 L1120.8,1004.2 L1122.2,1005.5 L1123.7,1006.7 L1125.2,1003.9 L1126.7,1004.9 L1128.2,1003.8 L1129.7,1001.8 L1131.2,1003.9 L1132.7,1004.5 L1134.2,1003.8 L1135.7,1001.0 L1137.1,1000.8 L1138.6,1001.1 L1140.1,1000.6 L1141.6,1003.6 L1143.1,1004.1 L1144.6,1003.3 L1146.1,1002.7 L1147.6,1003.1 L1149.1,1001.0 L1150.6,1001.7 L1152.0,999.7 L1153.5,1002.4 L1155.0,998.6 L1156.5,999.1 L1158.0,999.4 L1159.5,1001.0 L1161.0,1002.1 L1162.5,1001.2 L1164.0,999.0 L1165.5,999.6 L1166.9,999.3 L1168.4,1000.7 L1169.9,998.7 L1171.4,995.2 L1172.9,994.1 L1174.4,997.3 L1175.9,996.1 L1177.4,996.3 L1178.9,997.5 L1180.4,999.9 L1181.8,999.5 L1183.3,999.4 L1184.8,997.5 L1186.3,997.6 L1187.8,994.7 L1189.3,998.2 L1190.8,994.4 L1192.3,995.1 L1193.8,994.7 L1195.2,995.4 L1196.7,995.0 L1198.2,995.7 L1199.7,997.7 L1201.2,996.0 L1202.7,995.1 L1204.2,993.9 L1205.7,994.9 L1207.2,994.8 L1208.6,996.0 L1210.1,996.4 L1211.6,992.8 L1213.1,994.7 L1214.6,991.4 L1216.1,994.8 L1217.6,994.0 L1219.1,993.0 L1220.6,991.7 L1222.0,992.9 L1223.5,994.3 L1225.0,993.2 L1226.5,992.2 L1228.0,991.2 L1229.5,990.6 L1231.0,993.3 L1232.5,993.6 L1234.0,991.2 L1235.4,989.7 L1236.9,991.4 L1238.4,986.1 L1239.9,988.7 L1241.4,990.6 L1242.9,988.2 L1244.4,989.3 L1245.9,992.1 L1247.4,989.7 L1248.8,987.8 L1250.3,987.7 L1251.8,988.4 L1253.3,988.1 L1254.8,988.3 L1256.3,989.5 L1257.8,988.0 L1259.3,987.3 L1260.7,988.6 L1262.2,986.1 L1263.7,988.9 L1265.2,986.2 L1266.7,988.1 L1268.2,985.7 L1269.7,987.1 L1271.2,985.2 L1272.7,987.1 L1274.1,987.5 L1275.6,984.8 L1277.1,986.7 L1278.6,984.6 L1280.1,984.3 L1281.6,986.5 L1283.1,986.4 L1284.6,986.3 L1286.0,986.3 L1287.5,985.1 L1289.0,986.5 L1290.5,985.9 L1292.0,983.1 L1293.5,982.3 L1295.0,985.5 L1296.5,984.6 L1297.9,984.5 L1299.4,981.0 L1300.9,981.8 L1302.4,982.3 L1303.9,983.3 L1305.4,980.6 L1306.9,982.3 L1308.4,979.8 L1309.8,980.6 L1311.3,981.5 L1312.8,982.9 L1314.3,978.8 L1315.8,982.4 L1317.3,982.0 L1318.8,980.7 L1320.3,980.7 L1321.7,981.6 L1323.2,978.8 L1324.7,981.1 L1326.2,978.8 L1327.7,978.1 L1329.2,980.4 L1330.7,978.4 L1332.1,977.5 L1333.6,977.8 L1335.1,977.8 L1336.6,978.4 L1338.1,975.4 L1339.6,975.2 L1341.1,976.0 L1342.6,971.9 L1344.0,978.1 L1345.5,975.3 L1347.0,978.1 L1348.5,976.9 L1350.0,977.2 L1351.5,978.0 L1353.0,974.0 L1354.4,976.2 L1355.9,975.3 L1357.4,975.3 L1358.9,976.7 L1360.4,976.2 L1361.9,976.6 L1363.4,974.4 L1364.9,975.3 L1366.3,974.7 L1367.8,975.6 L1369.3,972.3 L1370.8,975.2 L1372.3,968.7 L1373.8,969.4 L1375.2,971.1 L1376.7,974.6 L1378.2,970.9 L1379.7,973.4 L1381.2,971.6 L1382.7,970.5 L1384.2,973.0 L1385.6,971.0 L1387.1,972.3 L1388.6,968.2 L1390.1,966.4 L1391.6,971.3 L1393.1,968.8 L1394.6,972.4 L1396.1,968.7 L1397.6,970.0 L1399.1,970.7 L1400.6,969.0 L1402.1,969.1 L1403.6,967.7 L1405.1,970.9 L1406.6,972.1 L1408.1,967.8 L1409.6,968.1 L1411.1,968.6 L1412.6,969.6 L1414.1,968.7 L1415.6,968.3 L1417.1,970.1 L1418.6,968.3 L1420.1,968.4 L1421.6,969.0 L1423.1,970.1 L1424.6,968.8 L1426.1,972.0 L1427.6,968.6 L1429.1,968.1 L1430.6,971.3 L1432.1,972.0 L1433.6,971.7 L1435.1,971.4 L1436.6,968.9 L1438.1,970.4 L1439.5,971.4 L1441.0,972.1 L1442.5,971.0 L1444.0,970.8 L1445.5,972.7 L1446.9,972.3 L1448.4,972.7 L1449.9,971.3 L1451.4,973.4 L1452.8,974.2 L1454.3,973.0 L1455.7,975.5 L1457.2,974.8 L1458.6,975.9 L1460.0,974.9 L1461.4,974.1 L1462.8,976.6 L1464.2,975.6 L1465.5,977.7 L1466.9,977.4 L1466.9,995.9 L1465.5,995.7 L1464.2,997.0 L1462.8,995.6 L1461.4,996.2 L1460.0,994.3 L1458.6,996.1 L1457.2,995.2 L1455.7,993.0 L1454.3,993.6 L1452.8,992.5 L1451.4,990.3 L1449.9,989.2 L1448.4,992.6 L1446.9,989.7 L1445.5,991.6 L1444.0,989.8 L1442.5,990.8 L1441.0,990.7 L1439.5,991.5 L1438.1,988.3 L1436.6,990.3 L1435.1,989.1 L1433.6,988.5 L1432.1,990.3 L1430.6,987.6 L1429.1,990.1 L1427.6,988.8 L1426.1,987.7 L1424.6,988.2 L1423.1,988.2 L1421.6,989.0 L1420.1,986.2 L1418.6,986.0 L1417.1,989.6 L1415.6,987.3 L1414.1,985.8 L1412.6,987.7 L1411.1,989.0 L1409.6,988.6 L1408.1,986.7 L1406.6,989.9 L1405.1,990.4 L1403.6,988.2 L1402.1,990.5 L1400.6,987.5 L1399.1,991.0 L1397.6,987.8 L1396.1,988.3 L1394.6,988.7 L1393.1,990.7 L1391.6,990.9 L1390.1,988.4 L1388.6,991.6 L1387.1,991.6 L1385.6,988.3 L1384.2,991.7 L1382.7,989.3 L1381.2,991.4 L1379.7,989.2 L1378.2,990.8 L1376.7,992.4 L1375.2,989.0 L1373.8,992.5 L1372.3,989.9 L1370.8,993.0 L1369.3,990.6 L1367.8,993.5 L1366.3,994.0 L1364.9,996.2 L1363.4,995.6 L1361.9,991.0 L1360.4,994.2 L1358.9,994.4 L1357.4,995.9 L1355.9,993.0 L1354.4,994.9 L1353.0,994.7 L1351.5,996.7 L1350.0,997.0 L1348.5,993.6 L1347.0,993.1 L1345.5,996.8 L1344.0,996.0 L1342.6,995.1 L1341.1,996.1 L1339.6,994.9 L1338.1,998.0 L1336.6,998.8 L1335.1,996.6 L1333.6,997.2 L1332.1,995.9 L1330.7,999.6 L1329.2,997.3 L1327.7,1000.0 L1326.2,1000.3 L1324.7,998.2 L1323.2,998.4 L1321.7,997.7 L1320.3,997.0 L1318.8,997.8 L1317.3,997.9 L1315.8,999.9 L1314.3,999.3 L1312.8,998.8 L1311.3,999.4 L1309.8,999.3 L1308.4,998.7 L1306.9,1000.9 L1305.4,1002.0 L1303.9,1003.2 L1302.4,1002.9 L1300.9,1000.4 L1299.4,1001.8 L1297.9,1002.4 L1296.5,1003.5 L1295.0,1002.8 L1293.5,1001.2 L1292.0,1003.1 L1290.5,1001.7 L1289.0,1003.0 L1287.5,1004.2 L1286.0,1003.5 L1284.6,1002.5 L1283.1,1001.7 L1281.6,1002.5 L1280.1,1004.9 L1278.6,1004.9 L1277.1,1003.6 L1275.6,1002.6 L1274.1,1003.0 L1272.7,1004.4 L1271.2,1005.8 L1269.7,1007.4 L1268.2,1006.7 L1266.7,1006.1 L1265.2,1005.4 L1263.7,1007.4 L1262.2,1004.1 L1260.7,1005.7 L1259.3,1006.8 L1257.8,1005.0 L1256.3,1006.2 L1254.8,1008.4 L1253.3,1009.5 L1251.8,1007.8 L1250.3,1007.3 L1248.8,1009.8 L1247.4,1006.2 L1245.9,1006.6 L1244.4,1009.5 L1242.9,1009.4 L1241.4,1007.6 L1239.9,1008.8 L1238.4,1007.2 L1236.9,1009.2 L1235.4,1008.5 L1234.0,1011.8 L1232.5,1011.3 L1231.0,1009.2 L1229.5,1009.1 L1228.0,1011.4 L1226.5,1010.4 L1225.0,1011.8 L1223.5,1012.5 L1222.0,1012.9 L1220.6,1011.7 L1219.1,1010.8 L1217.6,1011.4 L1216.1,1014.1 L1214.6,1013.1 L1213.1,1010.1 L1211.6,1011.3 L1210.1,1012.4 L1208.6,1010.8 L1207.2,1012.3 L1205.7,1014.2 L1204.2,1014.2 L1202.7,1013.8 L1201.2,1012.0 L1199.7,1012.1 L1198.2,1015.7 L1196.7,1014.5 L1195.2,1012.5 L1193.8,1013.9 L1192.3,1014.1 L1190.8,1015.0 L1189.3,1016.6 L1187.8,1014.4 L1186.3,1017.0 L1184.8,1013.7 L1183.3,1014.8 L1181.8,1016.5 L1180.4,1014.5 L1178.9,1016.4 L1177.4,1018.7 L1175.9,1017.9 L1174.4,1016.8 L1172.9,1017.2 L1171.4,1018.0 L1169.9,1017.1 L1168.4,1019.2 L1166.9,1021.8 L1165.5,1019.3 L1164.0,1017.7 L1162.5,1020.0 L1161.0,1017.3 L1159.5,1019.5 L1158.0,1019.5 L1156.5,1018.6 L1155.0,1018.5 L1153.5,1020.6 L1152.0,1017.5 L1150.6,1018.7 L1149.1,1020.7 L1147.6,1020.6 L1146.1,1021.2 L1144.6,1022.1 L1143.1,1020.7 L1141.6,1019.6 L1140.1,1023.0 L1138.6,1022.7 L1137.1,1022.8 L1135.7,1020.0 L1134.2,1023.5 L1132.7,1024.2 L1131.2,1021.8 L1129.7,1021.3 L1128.2,1024.0 L1126.7,1023.1 L1125.2,1023.3 L1123.7,1024.5 L1122.2,1023.5 L1120.8,1024.5 L1119.3,1024.6 L1117.8,1027.3 L1116.3,1021.7 L1114.8,1025.5 L1113.3,1026.0 L1111.8,1024.1 L1110.3,1024.9 L1108.8,1026.0 L1107.3,1026.0 L1105.8,1023.3 L1104.4,1027.4 L1102.9,1025.4 L1101.4,1025.5 L1099.9,1025.9 L1098.4,1026.2 L1096.9,1025.3 L1095.4,1025.2 L1093.9,1025.2 L1092.4,1027.6 L1090.9,1028.2 L1089.5,1026.4 L1088.0,1027.4 L1086.5,1028.9 L1085.0,1029.3 L1083.5,1025.3 L1082.0,1026.4 L1080.5,1026.4 L1079.0,1029.6 L1077.5,1029.9 L1076.0,1029.4 L1074.5,1026.9 L1073.1,1030.8 L1071.6,1027.2 L1070.1,1028.1 L1068.6,1029.5 L1067.1,1027.0 L1065.6,1028.5 L1064.1,1030.7 L1062.6,1030.3 L1061.1,1028.5 L1059.6,1031.9 L1058.1,1028.0 L1056.7,1028.9 L1055.2,1031.4 L1053.7,1030.8 L1052.2,1029.2 L1050.7,1033.1 L1049.2,1031.7 L1047.7,1029.5 L1046.2,1030.0 L1044.7,1033.8 L1043.2,1031.1 L1041.7,1030.2 L1040.2,1033.3 L1038.8,1033.4 L1037.3,1030.4 L1035.8,1031.6 L1034.3,1034.0 L1032.8,1031.8 L1031.3,1034.9 L1029.8,1031.9 L1028.3,1032.3 L1026.8,1032.5 L1025.3,1035.2 L1023.8,1036.0 L1022.3,1035.2 L1020.9,1033.5 L1019.4,1032.3 L1017.9,1035.4 L1016.4,1033.8 L1014.9,1034.4 L1013.4,1034.2 L1011.9,1034.1 L1010.4,1034.1 L1008.9,1034.3 L1007.4,1035.9 L1005.9,1037.1 L1004.4,1034.3 L1003.0,1035.3 L1001.5,1034.5 L1000.0,1036.3 L998.5,1036.7 L997.0,1038.0 L995.5,1038.9 L994.0,1035.4 L992.5,1036.9 L991.0,1036.0 L989.5,1037.9 L988.0,1039.4 L986.5,1039.0 L985.1,1037.0 L983.6,1036.8 L982.1,1036.4 L980.6,1040.3 L979.1,1040.6 L977.6,1037.3 L976.1,1039.7 L974.6,1040.8 L973.1,1040.1 L971.6,1038.3 L970.1,1037.4 L968.6,1041.1 L967.1,1040.7 L965.7,1041.2 L964.2,1041.5 L962.7,1042.5 L961.2,1041.4 L959.7,1038.4 L958.2,1038.9 L956.7,1041.1 L955.2,1042.8 L953.7,1040.9 L952.2,1039.9 L950.7,1042.7 L949.2,1041.0 L947.7,1040.6 L946.3,1040.0 L944.8,1041.7 L943.3,1044.2 L941.8,1042.0 L940.3,1044.4 L938.8,1040.7 L937.3,1042.9 L935.8,1044.5 L934.3,1041.0 L932.8,1042.5 L931.3,1045.7 L929.8,1043.5 L928.3,1042.5 L926.8,1044.7 L925.4,1044.3 L923.9,1043.3 L922.4,1044.3 L920.9,1043.7 L919.4,1043.5 L917.9,1046.5 L916.4,1045.4 L914.9,1046.2 L913.4,1046.2 L911.9,1044.1 L910.4,1044.0 L908.9,1047.9 L907.4,1047.8 L905.9,1046.9 L904.5,1047.5 L903.0,1046.0 L901.5,1045.9 L900.0,1047.9 L898.5,1047.8 L897.0,1047.5 L895.5,1046.9 L894.0,1049.1 L892.5,1046.6 L891.0,1049.5 L889.5,1048.6 L888.0,1049.4 L886.5,1047.2 L885.0,1048.4 L883.6,1048.0 L882.1,1047.4 L880.6,1049.2 L879.1,1050.7 L877.6,1046.5 L876.1,1047.7 L874.6,1050.9 L873.1,1050.0 L871.6,1047.8 L870.1,1047.5 L868.6,1051.3 L867.1,1048.2 L865.6,1048.8 L864.1,1047.8 L862.6,1048.8 L861.2,1049.7 L859.7,1048.7 L858.2,1049.7 L856.7,1050.8 L855.2,1050.9 L853.7,1052.3 L852.2,1051.6 L850.7,1053.2 L849.2,1050.8 L847.7,1053.3 L846.2,1050.2 L844.7,1053.4 L843.2,1052.7 L841.7,1051.6 L840.2,1052.6 L838.8,1051.4 L837.3,1050.7 L835.8,1053.2 L834.3,1053.0 L832.8,1054.0 L831.3,1053.7 L829.8,1051.7 L828.3,1056.3 L826.8,1057.1 L825.3,1055.8 L823.8,1054.4 L822.3,1052.1 L820.8,1055.3 L819.3,1054.1 L817.8,1052.5 L816.3,1056.7 L814.9,1053.4 L813.4,1052.4 L811.9,1056.5 L810.4,1056.6 L808.9,1056.6 L807.4,1055.0 L805.9,1053.9 L804.4,1054.9 L802.9,1057.6 L801.4,1055.7 L799.9,1054.3 L798.4,1056.5 L796.9,1055.3 L795.4,1055.6 L793.9,1057.0 L792.4,1055.6 L790.9,1057.4 L789.5,1058.8 L788.0,1057.6 L786.5,1056.7 L785.0,1058.9 L783.5,1057.6 L782.0,1059.7 L780.5,1058.5 L779.0,1058.3 L777.5,1058.4 L776.0,1059.3 L774.5,1056.4 L773.0,1058.7 L771.5,1058.0 L770.0,1057.1 L768.5,1059.7 L767.0,1059.9 L765.5,1057.2 L764.1,1057.4 L762.6,1058.2 L761.1,1059.7 L759.6,1059.4 L758.1,1061.6 L756.6,1061.0 L755.1,1059.9 L753.6,1058.1 L752.1,1059.5 L750.6,1061.2 L749.1,1060.1 L747.6,1058.2 L746.1,1060.7 L744.6,1059.8 L743.1,1061.0 L741.6,1061.0 L740.1,1062.7 L738.6,1059.8 L737.2,1061.3 L735.7,1060.5 L734.2,1062.7 L732.7,1059.7 L731.2,1059.6 L729.7,1061.2 L728.2,1063.7 L726.7,1063.7 L725.2,1062.3 L723.7,1061.9 L722.2,1063.7 L720.7,1064.0 L719.2,1062.7 L717.7,1061.4 L716.2,1060.9 L714.7,1061.2 L713.2,1062.3 L711.7,1064.7 L710.3,1062.3 L708.8,1065.9 L707.3,1063.1 L705.8,1062.3 L704.3,1062.3 L702.8,1063.3 L701.3,1064.0 L699.8,1064.0 L698.3,1062.9 L696.8,1062.6 L695.3,1066.6 L693.8,1063.7 L692.3,1065.5 L690.8,1063.6 L689.3,1067.1 L687.8,1067.1 L686.3,1068.3 L684.8,1065.4 L683.3,1066.4 L681.8,1066.8 L680.4,1066.4 L678.9,1064.7 L677.4,1066.3 L675.9,1065.1 L674.4,1068.8 L672.9,1067.0 L671.4,1066.5 L669.9,1065.0 L668.4,1065.7 L666.9,1068.9 L665.4,1066.0 L663.9,1068.8 L662.4,1067.8 L660.9,1069.5 L659.4,1068.1 L657.9,1066.0 L656.4,1066.5 L654.9,1066.5 L653.4,1070.2 L651.9,1070.4 L650.5,1070.8 L649.0,1069.7 L647.5,1067.3 L646.0,1066.9 L644.5,1069.9 L643.0,1068.5 L641.5,1069.5 L640.0,1068.3 L638.5,1067.9 L637.0,1071.6 L635.5,1070.7 L634.0,1068.4 L632.5,1071.8 L631.0,1070.7 L629.5,1071.4 L628.0,1071.3 L626.5,1069.0 L625.0,1068.6 L623.5,1071.6 L622.0,1070.4 L620.5,1069.7 L619.1,1070.6 L617.6,1074.0 L616.1,1070.9 L614.6,1071.9 L613.1,1070.3 L611.6,1071.5 L610.1,1071.0 L608.6,1070.3 L607.1,1072.5 L605.6,1072.8 L604.1,1072.2 L602.6,1073.1 L601.1,1072.7 L599.6,1074.7 L598.1,1072.0 L596.6,1072.1 L595.1,1073.2 L593.6,1073.3 L592.1,1071.6 L590.6,1074.8 L589.1,1072.4 L587.6,1072.2 L586.1,1072.0 L584.7,1074.2 L583.2,1074.1 L581.7,1072.0 L580.2,1072.6 L578.7,1073.6 L577.2,1073.6 L575.7,1074.2 L574.2,1074.1 L572.7,1073.2 L571.2,1075.5 L569.7,1072.7 L568.2,1075.2 L566.7,1074.4 L565.2,1074.4 L563.7,1074.4 L562.2,1073.8 L560.7,1076.8 L559.2,1077.0 L557.7,1075.2 L556.2,1076.7 L554.7,1075.9 L553.2,1077.0 L551.7,1077.8 L550.2,1077.9 L548.8,1074.5 L547.3,1077.4 L545.8,1074.7 L544.3,1076.2 L542.8,1077.0 L541.3,1077.4 L539.8,1076.6 L538.3,1076.0 L536.8,1078.9 L535.3,1079.4 L533.8,1078.6 L532.3,1077.0 L530.8,1076.4 L529.3,1076.6 L527.8,1078.6 L526.3,1079.7 L524.8,1077.9 L523.3,1079.3 L521.8,1078.4 L520.3,1077.3 L518.8,1078.6 L517.3,1080.1 L515.8,1078.6 L514.3,1080.3 L512.8,1077.7 L511.4,1077.6 L509.9,1078.6 L508.4,1082.1 L506.9,1077.8 L505.4,1081.4 L503.9,1079.6 L502.4,1079.4 L500.9,1081.1 L499.4,1078.7 L497.9,1078.4 L496.4,1081.0 L494.9,1082.1 L493.4,1078.9 L491.9,1081.3 L490.4,1080.1 L488.9,1078.8 L487.4,1082.5 L485.9,1080.5 L484.4,1080.6 L482.9,1080.5 L481.5,1079.4 L480.0,1079.5 L478.5,1082.7 L477.0,1080.9 L475.5,1080.5 L474.0,1083.4 L472.5,1081.0 L471.0,1081.2 L469.5,1083.8 L468.0,1082.4 L466.5,1084.5 L465.0,1084.3 L463.5,1085.0 L462.0,1083.7 L460.5,1085.7 L459.0,1086.2 L457.5,1083.2 L456.1,1084.2 L454.6,1086.0 L453.1,1082.7 L451.7,1084.6 L450.2,1087.4 L448.8,1085.8 L447.3,1084.3 L445.9,1084.6 L444.5,1085.1 L443.0,1088.3 L441.6,1086.4 L440.2,1090.1 L438.8,1089.4 L437.4,1088.5 L436.0,1091.2 L434.6,1091.6 L433.2,1090.5 L431.8,1094.0 L430.3,1092.2 L428.9,1092.4 L427.4,1091.2 L425.9,1093.3 L424.5,1094.9 L423.2,1097.4 L422.0,1093.9 L420.8,1096.1 L419.8,1096.8 L418.7,1099.3 L417.8,1100.1 L416.8,1100.9 L415.9,1103.4 L415.1,1103.1 L414.2,1105.5 L413.4,1106.2 L412.7,1107.4 L411.9,1108.9 L411.2,1110.7 L410.5,1111.6 L409.7,1112.5 L409.0,1113.7 L408.3,1114.8 Z" fill="#000" stroke="none"/>
<path d="M1470.1,1244.0 L1470.1,1262.6 L1473.5,1262.6 L1473.5,1269.3 L1486.6,1269.6 L1492.8,1275.8 L1492.8,1260.4 L1489.6,1260.2 L1489.3,1254.2 L1486.5,1257.3 L1483.0,1254.0 L1482.2,1250.0 L1482.2,1244.0 Z" fill="#000"/>
<path d="M374.5,1255.0 L374.6,1253.0 L374.8,1251.0 L375.0,1249.0 L375.1,1247.0 L375.3,1245.0 L375.5,1243.0 L375.7,1241.0 L375.9,1239.0 L376.1,1237.1 L376.3,1235.1 L376.6,1233.1 L376.8,1231.1 L377.0,1229.1 L377.3,1227.1 L377.5,1225.1 L377.7,1223.2 L378.0,1221.2 L378.2,1219.2 L378.5,1217.2 L378.8,1215.2 L379.1,1213.3 L379.4,1211.3 L379.7,1209.3 L380.0,1207.3 L380.3,1205.3 L380.6,1203.4 L381.0,1201.4 L381.3,1199.4 L381.7,1197.5 L382.0,1195.5 L382.4,1193.5 L382.8,1191.6 L383.2,1189.6 L383.6,1187.6 L384.0,1185.7 L384.4,1183.7 L384.8,1181.8 L385.2,1179.8 L385.6,1177.9 L386.1,1175.9 L386.5,1174.0 L387.0,1172.0 L387.4,1170.1 L387.9,1168.1 L388.4,1166.2 L388.8,1164.2 L389.3,1162.3 L389.8,1160.3 L390.3,1158.4 L390.7,1156.4 L391.3,1154.5 L391.8,1152.6 L392.3,1150.6 L392.9,1148.7 L393.4,1146.8 L394.0,1144.9 L394.7,1143.0 L395.3,1141.1 L396.0,1139.3 L396.7,1137.4 L397.5,1135.5 L398.3,1133.7 L399.0,1131.8 L399.9,1130.0 L400.7,1128.2 L401.5,1126.4 L402.3,1124.5 L403.2,1122.7 L404.0,1120.9 L404.9,1119.1 L405.8,1117.3 L406.7,1115.5 L407.7,1113.7 L408.7,1112.0 L409.7,1110.3 L410.7,1108.6 L411.7,1106.9 L412.8,1105.2 L414.0,1103.6 L415.2,1102.1 L416.5,1100.5 L417.8,1098.9 L419.1,1097.4 L420.4,1095.9 L421.8,1094.4 L423.1,1092.9 L424.5,1091.5 L425.9,1090.1 L427.3,1088.7 L428.8,1087.3 L430.3,1086.0 L431.8,1084.6 L433.3,1083.3 L434.7,1081.9 L436.1,1080.5 L437.5,1079.0 L438.7,1077.5 L439.9,1075.9 L441.1,1074.3 L442.2,1072.6 L443.3,1070.9 L444.4,1069.2 L445.5,1067.5 L446.6,1065.8 L447.7,1064.2 L448.9,1062.6 L450.1,1061.0 L451.4,1059.5 L452.7,1058.0 L454.0,1056.5 L455.4,1055.0 L456.8,1053.6 L458.2,1052.2 L459.6,1050.8 L461.1,1049.4 L462.5,1048.0 L464.0,1046.6 L465.4,1045.2 L466.8,1043.8 L468.3,1042.4 L469.8,1041.1 L471.2,1039.7 L472.7,1038.4 L474.2,1037.1 L475.7,1035.8 L477.3,1034.4 L478.8,1033.1 L480.3,1031.9 L481.8,1030.6 L483.4,1029.3 L485.0,1028.1 L486.5,1026.8 L488.1,1025.6 L489.7,1024.4 L491.3,1023.1 L492.8,1021.9 L494.4,1020.7 L496.0,1019.5 L497.7,1018.3 L499.3,1017.2 L500.9,1016.0 L502.5,1014.8 L504.1,1013.7 L505.8,1012.5 L507.4,1011.3 L509.0,1010.2 L510.7,1009.1 L512.3,1007.9 L514.0,1006.8 L515.6,1005.7 L517.3,1004.5 L518.9,1003.4 L520.6,1002.3 L522.2,1001.2 L523.9,1000.0 L525.6,998.9 L527.2,997.8 L528.9,996.7 L530.5,995.6 L532.2,994.5 L533.9,993.3 L535.5,992.2 L537.2,991.1 L538.9,990.0 L540.5,988.9 L542.2,987.8 L543.9,986.7 L545.5,985.6 L547.2,984.5 L548.9,983.4 L550.6,982.3 L552.2,981.2 L553.9,980.2 L555.6,979.1 L557.3,978.0 L559.0,976.9 L560.6,975.8 L562.3,974.7 L564.0,973.6 L565.7,972.6 L567.4,971.5 L569.0,970.4 L570.7,969.3 L572.4,968.2 L574.1,967.2 L575.8,966.1 L577.5,965.0 L579.2,964.0 L580.9,962.9 L582.5,961.8 L584.2,960.7 L585.9,959.7 L587.6,958.6 L589.3,957.5 L591.0,956.5 L592.7,955.4 L594.4,954.3 L596.1,953.3 L597.8,952.2 L599.5,951.2 L601.2,950.1 L602.9,949.0 L604.6,948.0 L606.3,946.9 L608.0,945.9 L609.7,944.8 L611.3,943.7 L613.0,942.7 L614.7,941.6 L616.4,940.6 L618.1,939.5 L619.8,938.5 L621.5,937.4 L623.2,936.4 L624.9,935.3 L626.6,934.2 L628.3,933.2 L630.0,932.1 L631.7,931.1 L633.4,930.0 L635.1,929.0 L636.8,927.9 L638.5,926.9 L640.2,925.8 L641.9,924.8 L643.6,923.7 L645.3,922.7 L647.0,921.6 L648.7,920.5 L650.4,919.5 L652.1,918.4 L653.8,917.4 L655.5,916.3 L657.2,915.3 L658.9,914.2 L660.6,913.2 L662.3,912.1 L664.0,911.0 L665.7,910.0 L667.4,908.9 L669.1,907.9 L670.8,906.8 L672.5,905.7 L674.2,904.7 L675.9,903.6 L677.6,902.6 L679.3,901.5 L681.0,900.4 L682.7,899.4 L684.4,898.3 L686.1,897.2 L687.8,896.2 L689.4,895.1 L691.1,894.0 L692.8,893.0 L694.5,891.9 L696.2,890.8 L697.9,889.8 L699.6,888.7 L701.3,887.6 L703.0,886.5 L704.6,885.5 L706.3,884.4 L708.0,883.3 L709.7,882.2 L711.4,881.1 L713.1,880.1 L714.7,879.0 L716.4,877.9 L718.1,876.8 L719.8,875.7 L721.4,874.6 L723.1,873.5 L724.8,872.4 L726.5,871.3 L728.1,870.2 L729.8,869.2 L731.5,868.1 L733.2,867.0 L734.8,865.8 L736.5,864.7 L738.2,863.6 L739.8,862.5 L741.5,861.4 L743.2,860.3 L744.8,859.2 L746.5,858.1 L748.1,857.0 L749.8,855.9 L751.5,854.7 L753.1,853.6 L754.8,852.5 L756.4,851.4 L758.1,850.3 L759.7,849.1 L761.4,848.0 L763.0,846.9 L764.7,845.7 L766.3,844.6 L768.0,843.5 L769.6,842.3 L771.3,841.2 L772.9,840.0 L774.5,838.9 L776.2,837.7 L777.8,836.6 L779.5,835.4 L781.1,834.3 L782.7,833.1 L784.4,832.0 L786.0,830.8 L787.6,829.7 L789.2,828.5 L790.9,827.3 L792.5,826.2 L794.1,825.0 L795.7,823.8 L797.4,822.7 L799.0,821.5 L800.6,820.3 L802.2,819.1 L803.8,817.9 L805.4,816.8 L807.0,815.6 L808.7,814.4 L810.3,813.2 L811.9,812.0 L813.5,810.8 L815.1,809.6 L816.7,808.4 L818.3,807.2 L819.9,806.0 L821.5,804.8 L823.1,803.6 L824.6,802.4 L826.2,801.2 L827.8,800.0 L829.4,798.7 L831.0,797.5 L832.6,796.3 L834.2,795.1 L835.7,793.8 L837.3,792.6 L838.9,791.4 L840.5,790.2 L842.1,788.9 L843.6,787.7 L845.2,786.5 L846.8,785.2 L848.3,784.0 L849.9,782.7 L851.5,781.5 L853.0,780.2 L854.6,779.0 L856.2,777.8 L857.7,776.5 L859.3,775.3 L860.9,774.0 L862.4,772.8 L864.0,771.5 L865.5,770.3 L867.1,769.0 L868.7,767.8 L870.2,766.5 L871.8,765.3 L873.3,764.0 L874.9,762.8 L876.5,761.5 L878.0,760.3 L879.6,759.0 L881.1,757.7 L882.7,756.5 L884.3,755.2 L885.8,754.0 L887.4,752.7 L888.9,751.5 L890.5,750.2 L892.1,749.0 L893.6,747.7 L895.2,746.5 L896.8,745.3 L898.3,744.0 L899.9,742.8 L901.5,741.5 L903.0,740.3 L904.6,739.0 L906.2,737.8 L907.7,736.6 L909.3,735.3 L910.9,734.1 L912.5,732.9 L914.0,731.6 L915.6,730.4 L917.2,729.2 L918.8,727.9 L920.3,726.7 L921.9,725.5 L923.5,724.3 L925.1,723.1 L926.7,721.9 L928.3,720.6 L929.9,719.4 L931.5,718.2 L933.1,717.0 L934.7,715.8 L936.3,714.6 L937.9,713.4 L939.5,712.2 L941.1,711.0 L942.7,709.9 L944.3,708.7 L945.9,707.5 L947.6,706.3 L949.2,705.2 L950.8,704.0 L952.4,702.8 L954.1,701.7 L955.7,700.5 L957.3,699.4 L959.0,698.2 L960.6,697.1 L962.3,695.9 L963.9,694.8 L965.6,693.7 L967.2,692.5 L968.9,691.4 L970.5,690.3 L972.2,689.2 L973.8,688.1 L975.5,687.0 L977.2,685.8 L978.8,684.7 L980.5,683.6 L982.2,682.5 L983.8,681.4 L985.5,680.3 L987.2,679.2 L988.9,678.2 L990.5,677.1 L992.2,676.0 L993.9,674.9 L995.6,673.8 L997.3,672.7 L999.0,671.7 L1000.6,670.6 L1002.3,669.5 L1004.0,668.5 L1005.7,667.4 L1007.4,666.3 L1009.1,665.3 L1010.8,664.2 L1012.5,663.1 L1014.2,662.1 L1015.9,661.0 L1017.6,660.0 L1019.3,658.9 L1021.0,657.9 L1022.7,656.8 L1024.4,655.8 L1026.1,654.7 L1027.8,653.7 L1029.5,652.6 L1031.2,651.6 L1032.9,650.5 L1034.6,649.5 L1036.3,648.4 L1038.0,647.4 L1039.7,646.3 L1041.4,645.3 L1043.1,644.3 L1044.8,643.2 L1046.5,642.2 L1048.3,641.1 L1050.0,640.1 L1051.7,639.0 L1053.4,638.0 L1055.1,636.9 L1056.8,635.9 L1058.5,634.9 L1060.2,633.8 L1061.9,632.8 L1063.6,631.7 L1065.3,630.7 L1067.0,629.6 L1068.7,628.6 L1070.4,627.5 L1072.1,626.4 L1073.8,625.4 L1075.5,624.3 L1077.2,623.3 L1078.9,622.2 L1080.6,621.2 L1082.3,620.1 L1084.0,619.0 L1085.7,618.0 L1087.4,616.9 L1089.0,615.8 L1090.7,614.7 L1092.4,613.7 L1094.1,612.6 L1095.8,611.5 L1097.5,610.4 L1099.1,609.3 L1100.8,608.3 L1102.5,607.2 L1104.2,606.1 L1105.8,605.0 L1107.5,603.9 L1109.2,602.8 L1110.9,601.7 L1112.5,600.6 L1114.2,599.5 L1115.8,598.3 L1117.5,597.2 L1119.2,596.1 L1120.8,595.0 L1122.5,593.9 L1124.1,592.7 L1125.8,591.6 L1127.4,590.5 L1129.1,589.3 L1130.7,588.2 L1132.4,587.1 L1134.0,585.9 L1135.7,584.8 L1137.3,583.7 L1139.0,582.6 L1140.7,581.5 L1142.3,580.4 L1144.0,579.3 L1145.7,578.2 L1147.4,577.1 L1149.0,576.0 L1150.7,575.0 L1152.4,573.9 L1154.2,572.9 L1155.9,571.8 L1157.6,570.8 L1159.3,569.8 L1161.1,568.8 L1162.8,567.9 L1164.6,567.0 L1166.4,566.1 L1168.2,565.2 L1170.0,564.3 L1171.8,563.5 L1173.6,562.6 L1175.5,561.8 L1177.3,561.1 L1179.1,560.3 L1181.0,559.6 L1182.8,558.8 L1184.7,558.1 L1186.6,557.4 L1188.5,556.7 L1190.3,556.0 L1192.2,555.4 L1194.1,554.7 L1196.0,554.1 L1198.0,553.5 L1198.0,553.5 L1200.6,554.5 L1201.9,558.5 L1202.0,1266.0" fill="none" stroke="#f00" stroke-width="8.7" stroke-linejoin="round" stroke-linecap="butt"/>
<path d="M428.8,1081.4 L430.3,1080.1 L431.8,1078.5 L433.3,1077.1 L434.7,1075.5 L436.1,1073.9 L437.5,1072.2 L438.7,1069.8 L439.9,1068.2 L441.1,1066.3 L442.2,1063.8 L443.3,1062.0 L444.4,1060.9 L445.5,1058.6 L446.6,1057.7 L447.7,1055.0 L448.9,1053.4 L450.1,1053.0 L451.4,1050.7 L452.7,1048.8 L454.0,1043.0 L455.4,1047.2 L456.8,1046.3 L458.2,1045.9 L459.6,1043.0 L461.1,1038.6 L462.5,1040.6 L464.0,1040.3 L465.4,1038.6 L466.8,1036.9 L468.3,1035.3 L469.8,1034.7 L471.2,1032.2 L472.7,1031.3 L474.2,1030.0 L475.7,1029.0 L477.3,1026.6 L478.8,1025.9 L480.3,1025.8 L481.8,1023.1 L483.4,1021.1 L485.0,1021.2 L486.5,1017.8 L488.1,1016.7 L489.7,1016.7 L491.3,1016.6 L492.8,1015.3 L494.4,1013.2 L496.0,1012.7 L497.7,1010.4 L499.3,1010.4 L500.9,1010.5 L502.5,1008.5 L504.1,1005.3 L505.8,1004.4 L507.4,1005.6 L509.0,1004.3 L510.7,999.9 L512.3,991.6 L514.0,996.8 L515.6,998.2 L517.3,997.7 L518.9,996.1 L520.6,996.6 L522.2,995.2 L523.9,993.4 L525.6,992.8 L527.2,992.5 L528.9,988.8 L530.5,988.1 L532.2,985.4 L533.9,986.7 L535.5,986.4 L537.2,984.9 L538.9,982.6 L540.5,981.7 L542.2,981.7 L543.9,981.6 L545.5,978.3 L547.2,978.7 L548.9,976.7 L550.6,974.6 L552.2,968.6 L553.9,972.6 L555.6,972.6 L557.3,971.7 L559.0,970.8 L560.6,969.2 L562.3,966.9 L564.0,968.3 L565.7,966.6 L567.4,966.3 L569.0,963.3 L570.7,962.4 L572.4,962.6 L574.1,960.9 L575.8,959.2 L577.5,958.1 L579.2,958.4 L580.9,955.4 L582.5,954.6 L584.2,955.3 L585.9,952.2 L587.6,951.5 L589.3,950.3 L591.0,949.9 L592.7,949.8 L594.4,946.7 L596.1,944.0 L597.8,940.6 L599.5,943.6 L601.2,941.6 L602.9,942.6 L604.6,941.4 L606.3,940.2 L608.0,938.5 L609.7,938.0 L611.3,938.2 L613.0,936.0 L614.7,935.2 L616.4,934.0 L618.1,932.5 L619.8,932.8 L621.5,931.9 L623.2,931.0 L624.9,929.5 L626.6,929.2 L628.3,926.4 L630.0,926.3 L631.7,925.5 L633.4,924.7 L635.1,923.2 L636.8,922.3 L638.5,921.0 L640.2,919.1 L641.9,917.4 L643.6,916.1 L645.3,914.9 L647.0,916.4 L648.7,914.9 L650.4,912.7 L652.1,913.0 L653.8,909.9 L655.5,910.7 L657.2,908.2 L658.9,907.4 L660.6,905.9 L662.3,907.0 L664.0,905.4 L665.7,903.0 L667.4,900.9 L669.1,896.7 L670.8,899.3 L672.5,899.1 L674.2,899.5 L675.9,898.4 L677.6,897.4 L679.3,895.4 L681.0,893.5 L682.7,893.2 L684.4,889.4 L686.1,890.6 L687.8,889.4 L689.4,889.3 L691.1,887.3 L692.8,885.3 L694.5,885.6 L696.2,885.2 L697.9,883.5 L699.6,882.4 L701.3,881.1 L703.0,880.0 L704.6,880.3 L706.3,878.9 L708.0,877.0 L709.7,875.2 L711.4,873.9 L713.1,872.8 L714.7,872.5 L716.4,870.1 L718.1,870.8 L719.8,869.3 L721.4,867.4 L723.1,866.0 L724.8,866.2 L726.5,863.9 L728.1,863.9 L729.8,862.0 L731.5,862.9 L733.2,861.8 L734.8,858.1 L736.5,859.3 L738.2,856.7 L739.8,856.6 L741.5,855.7 L743.2,854.1 L744.8,851.5 L746.5,851.4 L748.1,849.3 L749.8,848.7 L751.5,848.2 L753.1,847.1 L754.8,846.7 L756.4,846.2 L758.1,843.9 L759.7,842.4 L761.4,840.4 L763.0,839.8 L764.7,838.2 L766.3,836.8 L768.0,835.6 L769.6,834.8 L771.3,835.6 L772.9,833.9 L774.5,833.1 L776.2,830.1 L777.8,829.2 L779.5,829.3 L781.1,827.5 L782.7,825.7 L784.4,824.4 L786.0,825.0 L787.6,822.4 L789.2,821.0 L790.9,822.0 L792.5,820.6 L794.1,818.5 L795.7,816.5 L797.4,811.2 L799.0,812.1 L800.6,812.7 L802.2,811.7 L803.8,810.9 L805.4,809.0 L807.0,808.1 L808.7,806.1 L810.3,801.2 L811.9,803.9 L813.5,804.4 L815.1,801.9 L816.7,802.0 L818.3,801.4 L819.9,798.5 L821.5,798.1 L823.1,797.5 L824.6,795.1 L826.2,793.1 L827.8,793.9 L829.4,791.0 L831.0,789.8 L832.6,790.5 L834.2,787.3 L835.7,787.1 L837.3,786.9 L838.9,784.5 L840.5,782.0 L842.1,778.9 L843.6,780.9 L845.2,780.3 L846.8,778.5 L848.3,776.7 L849.9,777.0 L851.5,774.0 L853.0,774.5 L854.6,773.1 L856.2,770.3 L857.7,768.6 L859.3,767.0 L860.9,766.7 L862.4,766.0 L864.0,765.8 L865.5,763.2 L867.1,763.0 L868.7,760.8 L870.2,759.3 L871.8,757.5 L873.3,757.6 L874.9,754.5 L876.5,753.2 L878.0,752.5 L879.6,751.6 L881.1,750.2 L882.7,748.6 L884.3,747.1 L885.8,746.1 L887.4,745.5 L888.9,745.8 L890.5,743.0 L892.1,742.1 L893.6,740.9 L895.2,736.9 L896.8,734.0 L898.3,735.3 L899.9,735.8 L901.5,734.7 L903.0,734.1 L904.6,732.5 L906.2,731.1 L907.7,731.1 L909.3,727.4 L910.9,728.6 L912.5,726.4 L914.0,725.9 L915.6,724.4 L917.2,721.1 L918.8,721.5 L920.3,719.3 L921.9,719.8 L923.5,718.2 L925.1,715.2 L926.7,714.0 L928.3,714.5 L929.9,711.4 L931.5,711.0 L933.1,710.3 L934.7,709.4 L936.3,708.3 L937.9,705.4 L939.5,705.0 L941.1,704.3 L942.7,704.5 L944.3,702.7 L945.9,699.6 L947.6,697.5 L949.2,694.4 L950.8,697.6 L952.4,696.9 L954.1,695.7 L955.7,694.8 L957.3,693.2 L959.0,692.5 L960.6,691.7 L962.3,690.5 L963.9,688.2 L965.6,688.3 L967.2,684.8 L968.9,685.7 L970.5,683.8 L972.2,682.8 L973.8,682.1 L975.5,680.9 L977.2,680.1 L978.8,678.8 L980.5,676.2 L982.2,671.1 L983.8,673.4 L985.5,674.4 L987.2,671.7 L988.9,672.0 L990.5,670.3 L992.2,669.4 L993.9,667.5 L995.6,663.1 L997.3,664.5 L999.0,664.3 L1000.6,662.9 L1002.3,664.5 L1004.0,662.0 L1005.7,656.1 L1007.4,652.9 L1009.1,657.5 L1010.8,657.8 L1012.5,656.2 L1014.2,656.1 L1015.9,655.2 L1017.6,652.8 L1019.3,653.8 L1021.0,650.7 L1022.7,650.6 L1024.4,649.0 L1026.1,647.7 L1027.8,648.4 L1029.5,645.1 L1031.2,642.8 L1032.9,641.3 L1034.6,642.4 L1036.3,641.6 L1038.0,640.2 L1039.7,637.3 L1041.4,637.5 L1043.1,638.3 L1044.8,637.6 L1046.5,636.3 L1048.3,632.7 L1050.0,633.1 L1051.7,633.2 L1053.4,631.0 L1055.1,631.6 L1056.8,630.1 L1058.5,627.6 L1060.2,628.0 L1061.9,626.1 L1063.6,625.1 L1065.3,624.9 L1067.0,623.9 L1068.7,622.7 L1070.4,618.8 L1072.1,618.6 L1073.8,619.4 L1075.5,618.4 L1077.2,617.6 L1078.9,615.6 L1080.6,614.6 L1082.3,613.7 L1084.0,613.1 L1085.7,608.1 L1087.4,602.0 L1089.0,606.6 L1090.7,608.2 L1092.4,605.1 L1094.1,604.6 L1095.8,605.3 L1097.5,603.3 L1099.1,599.0 L1100.8,593.1 L1102.5,598.2 L1104.2,599.9 L1105.8,595.5 L1107.5,593.6 L1109.2,594.3 L1110.9,594.9 L1112.5,590.9 L1114.2,588.5 L1115.8,587.6 L1117.5,586.5 L1119.2,589.9 L1120.8,587.8 L1122.5,586.3 L1124.1,587.3 L1125.8,583.7 L1127.4,583.7 L1129.1,582.1 L1130.7,582.4 L1132.4,579.3 L1134.0,579.0 L1135.7,578.2 L1137.3,575.9 L1139.0,575.9 L1140.7,574.9 L1142.3,575.1 L1144.0,572.6 L1145.7,571.0 L1147.4,571.0 L1149.0,569.1 L1150.7,568.4 L1152.4,567.8 L1154.2,565.2 L1155.9,565.3 L1157.6,564.9 L1159.3,563.1 L1161.1,563.8 L1162.8,562.0 L1164.6,561.0 L1166.4,558.6 L1168.2,558.5 L1170.0,557.9 L1171.8,558.3 L1173.6,556.8 L1175.5,556.2 L1177.3,553.8 L1179.1,554.4 L1181.0,552.6 L1182.8,552.4 L1184.7,551.1 L1186.6,552.8 L1188.5,549.6 L1190.3,548.9 L1192.2,550.4 L1194.1,550.1 L1196.0,548.8 L1198.0,547.4 L1198.0,559.0 L1196.0,558.8 L1194.1,559.5 L1192.2,560.7 L1190.3,562.0 L1188.5,563.5 L1186.6,564.1 L1184.7,566.4 L1182.8,566.2 L1181.0,564.8 L1179.1,567.4 L1177.3,570.4 L1175.5,570.0 L1173.6,568.7 L1171.8,569.1 L1170.0,570.2 L1168.2,572.5 L1166.4,572.4 L1164.6,571.9 L1162.8,574.0 L1161.1,576.2 L1159.3,576.3 L1157.6,576.5 L1155.9,579.1 L1154.2,579.5 L1152.4,579.6 L1150.7,580.4 L1149.0,581.4 L1147.4,582.8 L1145.7,585.5 L1144.0,585.0 L1142.3,587.6 L1140.7,589.4 L1139.0,590.3 L1137.3,591.3 L1135.7,590.7 L1134.0,593.0 L1132.4,592.9 L1130.7,595.5 L1129.1,597.1 L1127.4,598.1 L1125.8,597.7 L1124.1,600.4 L1122.5,601.5 L1120.8,600.4 L1119.2,601.5 L1117.5,602.7 L1115.8,604.6 L1114.2,605.9 L1112.5,606.6 L1110.9,609.2 L1109.2,609.8 L1107.5,610.2 L1105.8,612.3 L1104.2,612.3 L1102.5,614.1 L1100.8,615.8 L1099.1,615.2 L1097.5,617.9 L1095.8,618.3 L1094.1,618.9 L1092.4,620.2 L1090.7,620.6 L1089.0,622.5 L1087.4,622.7 L1085.7,623.4 L1084.0,626.7 L1082.3,626.2 L1080.6,626.5 L1078.9,628.2 L1077.2,628.6 L1075.5,630.5 L1073.8,631.7 L1072.1,632.6 L1070.4,633.4 L1068.7,634.5 L1067.0,634.8 L1065.3,635.7 L1063.6,639.3 L1061.9,639.5 L1060.2,639.6 L1058.5,643.3 L1056.8,647.3 L1055.1,645.3 L1053.4,644.4 L1051.7,646.6 L1050.0,646.6 L1048.3,648.6 L1046.5,648.1 L1044.8,649.0 L1043.1,650.3 L1041.4,652.1 L1039.7,653.9 L1038.0,654.9 L1036.3,653.7 L1034.6,656.4 L1032.9,656.4 L1031.2,657.0 L1029.5,658.4 L1027.8,663.9 L1026.1,661.6 L1024.4,662.4 L1022.7,662.8 L1021.0,663.4 L1019.3,665.8 L1017.6,666.4 L1015.9,666.8 L1014.2,669.8 L1012.5,674.3 L1010.8,672.6 L1009.1,670.6 L1007.4,673.3 L1005.7,672.5 L1004.0,674.5 L1002.3,675.2 L1000.6,676.3 L999.0,678.5 L997.3,678.7 L995.6,679.4 L993.9,682.0 L992.2,682.0 L990.5,684.4 L988.9,683.3 L987.2,685.9 L985.5,687.3 L983.8,693.3 L982.2,692.8 L980.5,691.2 L978.8,691.2 L977.2,693.6 L975.5,692.5 L973.8,694.4 L972.2,695.0 L970.5,695.6 L968.9,697.3 L967.2,697.7 L965.6,700.1 L963.9,702.4 L962.3,701.4 L960.6,703.2 L959.0,706.5 L957.3,706.2 L955.7,706.0 L954.1,707.5 L952.4,710.9 L950.8,713.4 L949.2,712.8 L947.6,713.7 L945.9,716.3 L944.3,719.7 L942.7,717.8 L941.1,718.1 L939.5,717.9 L937.9,719.5 L936.3,720.6 L934.7,724.7 L933.1,731.6 L931.5,728.8 L929.9,726.3 L928.3,727.3 L926.7,727.7 L925.1,731.1 L923.5,730.7 L921.9,733.5 L920.3,733.1 L918.8,735.2 L917.2,735.5 L915.6,737.0 L914.0,740.1 L912.5,739.4 L910.9,740.5 L909.3,741.7 L907.7,742.4 L906.2,744.7 L904.6,745.1 L903.0,748.8 L901.5,753.0 L899.9,753.1 L898.3,750.3 L896.8,752.7 L895.2,761.5 L893.6,758.2 L892.1,754.9 L890.5,757.0 L888.9,758.4 L887.4,760.9 L885.8,759.6 L884.3,763.0 L882.7,763.8 L881.1,766.6 L879.6,772.9 L878.0,769.9 L876.5,772.8 L874.9,770.8 L873.3,769.9 L871.8,771.4 L870.2,773.1 L868.7,775.3 L867.1,776.9 L865.5,776.2 L864.0,779.6 L862.4,780.9 L860.9,779.7 L859.3,781.0 L857.7,783.9 L856.2,785.9 L854.6,785.5 L853.0,785.8 L851.5,789.1 L849.9,789.1 L848.3,789.4 L846.8,793.3 L845.2,793.0 L843.6,795.0 L842.1,795.0 L840.5,798.0 L838.9,797.8 L837.3,799.0 L835.7,802.2 L834.2,803.0 L832.6,804.1 L831.0,807.0 L829.4,806.1 L827.8,805.6 L826.2,807.8 L824.6,809.7 L823.1,810.1 L821.5,810.6 L819.9,813.6 L818.3,818.1 L816.7,816.0 L815.1,817.0 L813.5,818.3 L811.9,817.8 L810.3,818.8 L808.7,822.0 L807.0,821.0 L805.4,823.7 L803.8,823.7 L802.2,827.0 L800.6,828.7 L799.0,827.8 L797.4,828.0 L795.7,829.7 L794.1,832.6 L792.5,833.0 L790.9,834.7 L789.2,834.6 L787.6,839.9 L786.0,846.2 L784.4,847.4 L782.7,840.5 L781.1,840.9 L779.5,841.9 L777.8,842.7 L776.2,843.7 L774.5,846.3 L772.9,845.7 L771.3,850.4 L769.6,855.2 L768.0,853.4 L766.3,856.3 L764.7,855.5 L763.0,853.3 L761.4,854.2 L759.7,857.1 L758.1,856.3 L756.4,859.3 L754.8,859.6 L753.1,859.5 L751.5,860.2 L749.8,862.6 L748.1,863.6 L746.5,865.2 L744.8,867.0 L743.2,868.6 L741.5,875.8 L739.8,872.1 L738.2,870.4 L736.5,871.6 L734.8,873.8 L733.2,873.8 L731.5,873.7 L729.8,876.4 L728.1,877.6 L726.5,877.0 L724.8,880.1 L723.1,879.4 L721.4,880.8 L719.8,882.5 L718.1,884.0 L716.4,884.0 L714.7,886.7 L713.1,887.8 L711.4,889.3 L709.7,897.0 L708.0,892.6 L706.3,892.0 L704.6,897.0 L703.0,894.6 L701.3,893.8 L699.6,893.8 L697.9,897.4 L696.2,897.2 L694.5,898.4 L692.8,900.3 L691.1,900.1 L689.4,902.8 L687.8,904.4 L686.1,905.4 L684.4,906.1 L682.7,906.5 L681.0,907.2 L679.3,907.9 L677.6,909.9 L675.9,909.7 L674.2,911.8 L672.5,915.3 L670.8,921.5 L669.1,917.0 L667.4,916.5 L665.7,916.8 L664.0,918.8 L662.3,919.5 L660.6,920.4 L658.9,926.2 L657.2,924.0 L655.5,921.9 L653.8,923.2 L652.1,925.8 L650.4,926.4 L648.7,926.3 L647.0,928.8 L645.3,928.1 L643.6,929.6 L641.9,931.0 L640.2,932.2 L638.5,932.8 L636.8,933.1 L635.1,936.7 L633.4,938.2 L631.7,938.7 L630.0,938.8 L628.3,938.6 L626.6,940.6 L624.9,941.8 L623.2,941.4 L621.5,943.9 L619.8,943.5 L618.1,948.8 L616.4,954.9 L614.7,953.9 L613.0,949.3 L611.3,951.2 L609.7,951.3 L608.0,952.5 L606.3,954.9 L604.6,960.5 L602.9,957.6 L601.2,957.5 L599.5,961.0 L597.8,959.5 L596.1,960.7 L594.4,960.4 L592.7,962.5 L591.0,962.3 L589.3,965.3 L587.6,966.0 L585.9,965.2 L584.2,966.9 L582.5,966.9 L580.9,968.1 L579.2,972.0 L577.5,979.3 L575.8,975.7 L574.1,973.4 L572.4,975.4 L570.7,976.9 L569.0,977.0 L567.4,979.2 L565.7,978.9 L564.0,981.1 L562.3,981.7 L560.6,981.4 L559.0,983.6 L557.3,985.0 L555.6,985.2 L553.9,987.8 L552.2,988.2 L550.6,988.9 L548.9,989.9 L547.2,993.8 L545.5,999.5 L543.9,997.5 L542.2,995.9 L540.5,996.6 L538.9,998.4 L537.2,1002.4 L535.5,1002.3 L533.9,998.9 L532.2,1002.0 L530.5,1002.3 L528.9,1008.2 L527.2,1006.9 L525.6,1004.5 L523.9,1006.1 L522.2,1007.6 L520.6,1009.6 L518.9,1010.8 L517.3,1012.5 L515.6,1012.6 L514.0,1014.3 L512.3,1015.5 L510.7,1017.4 L509.0,1025.8 L507.4,1022.5 L505.8,1020.5 L504.1,1020.4 L502.5,1020.7 L500.9,1023.7 L499.3,1024.3 L497.7,1025.8 L496.0,1031.2 L494.4,1029.2 L492.8,1029.1 L491.3,1030.9 L489.7,1033.1 L488.1,1034.7 L486.5,1032.7 L485.0,1036.5 L483.4,1036.4 L481.8,1037.6 L480.3,1037.5 L478.8,1040.8 L477.3,1044.3 L475.7,1043.2 L474.2,1043.5 L472.7,1046.9 L471.2,1046.7 L469.8,1049.0 L468.3,1048.4 L466.8,1050.5 L465.4,1052.8 L464.0,1054.9 L462.5,1054.8 L461.1,1058.1 L459.6,1059.4 L458.2,1059.5 L456.8,1060.1 L455.4,1063.2 L454.0,1065.0 L452.7,1066.3 L451.4,1067.6 L450.1,1070.2 L448.9,1072.0 L447.7,1072.5 L446.6,1074.2 L445.5,1076.6 L444.4,1077.4 L443.3,1080.1 L442.2,1080.6 L441.1,1083.0 L439.9,1083.3 L438.7,1084.9 L437.5,1086.3 L436.1,1087.3 L434.7,1088.1 L433.3,1089.7 L431.8,1090.8 L430.3,1091.9 L428.8,1093.2 Z" fill="#f00" stroke="none"/>
<path d="M1197.7,1255.0 L1197.7,1277.7 L1201.1,1279.2 L1204.4,1285.5 L1206.9,1278.2 L1208.8,1278.2 L1210.5,1280.2 L1212.7,1278.5 L1215.9,1278.7 L1218.8,1270.2 L1213.7,1268.5 L1211.7,1266.8 L1209.3,1268.0 L1207.4,1263.7 L1206.4,1263.2 L1206.4,1255.0 Z" fill="#f00"/>
<path d="M381.9,1251.4 L382.1,1249.4 L382.2,1247.4 L382.4,1245.4 L382.6,1243.4 L382.8,1241.4 L383.0,1239.4 L383.2,1237.5 L383.4,1235.5 L383.6,1233.5 L383.8,1231.5 L384.1,1229.5 L384.3,1227.5 L384.6,1225.5 L384.8,1223.5 L385.0,1221.6 L385.3,1219.6 L385.6,1217.6 L385.8,1215.6 L386.1,1213.6 L386.4,1211.7 L386.7,1209.7 L387.0,1207.7 L387.3,1205.7 L387.7,1203.8 L388.0,1201.8 L388.3,1199.8 L388.7,1197.8 L389.0,1195.9 L389.3,1193.9 L389.7,1191.9 L390.0,1190.0 L390.4,1188.0 L390.8,1186.0 L391.1,1184.1 L391.5,1182.1 L391.9,1180.1 L392.3,1178.2 L392.7,1176.2 L393.1,1174.2 L393.5,1172.3 L393.9,1170.3 L394.3,1168.4 L394.8,1166.4 L395.2,1164.5 L395.6,1162.5 L396.1,1160.6 L396.5,1158.6 L397.0,1156.7 L397.5,1154.7 L398.0,1152.8 L398.5,1150.9 L399.0,1148.9 L399.5,1147.0 L400.0,1145.1 L400.5,1143.1 L401.1,1141.2 L401.6,1139.3 L402.2,1137.4 L402.8,1135.5 L403.4,1133.5 L404.0,1131.6 L404.6,1129.7 L405.2,1127.8 L405.9,1125.9 L406.5,1124.0 L407.1,1122.2 L407.8,1120.3 L408.5,1118.4 L409.1,1116.5 L409.8,1114.6 L410.5,1112.7 L411.2,1110.9 L411.9,1109.0 L412.6,1107.1 L413.3,1105.2 L414.1,1103.4 L414.8,1101.5 L415.5,1099.7 L416.3,1097.8 L417.0,1095.9 L417.7,1094.0 L418.5,1092.2 L419.2,1090.3 L420.0,1088.4 L420.8,1086.6 L421.6,1084.8 L422.4,1083.0 L423.3,1081.2 L424.2,1079.4 L425.1,1077.7 L426.1,1076.0 L427.1,1074.3 L428.2,1072.6 L429.3,1070.9 L430.4,1069.2 L431.5,1067.5 L432.7,1065.9 L433.9,1064.3 L435.2,1062.6 L436.4,1061.1 L437.7,1059.5 L439.0,1058.0 L440.3,1056.5 L441.6,1055.0 L442.9,1053.5 L444.3,1052.1 L445.8,1050.8 L447.3,1049.5 L448.8,1048.2 L450.4,1046.9 L451.9,1045.6 L453.4,1044.3 L454.9,1042.9 L456.4,1041.6 L457.9,1040.2 L459.4,1038.9 L460.8,1037.5 L462.3,1036.1 L463.8,1034.8 L465.2,1033.4 L466.7,1032.1 L468.2,1030.8 L469.7,1029.5 L471.2,1028.2 L472.8,1026.9 L474.3,1025.6 L475.9,1024.3 L477.4,1023.1 L479.0,1021.8 L480.6,1020.6 L482.1,1019.4 L483.7,1018.2 L485.3,1016.9 L486.9,1015.7 L488.5,1014.6 L490.1,1013.4 L491.8,1012.2 L493.4,1011.0 L495.0,1009.9 L496.7,1008.7 L498.3,1007.6 L499.9,1006.5 L501.6,1005.3 L503.3,1004.2 L504.9,1003.1 L506.6,1002.0 L508.3,1000.9 L509.9,999.8 L511.6,998.7 L513.3,997.6 L515.0,996.5 L516.7,995.5 L518.4,994.4 L520.0,993.3 L521.7,992.3 L523.4,991.2 L525.1,990.2 L526.8,989.1 L528.5,988.0 L530.2,987.0 L531.9,985.9 L533.6,984.9 L535.3,983.8 L537.0,982.8 L538.7,981.7 L540.4,980.7 L542.1,979.6 L543.8,978.6 L545.5,977.5 L547.2,976.5 L548.9,975.4 L550.6,974.3 L552.3,973.3 L554.0,972.2 L555.7,971.2 L557.4,970.1 L559.1,969.0 L560.8,968.0 L562.5,966.9 L564.2,965.8 L565.9,964.7 L567.5,963.7 L569.2,962.6 L570.9,961.5 L572.6,960.5 L574.3,959.4 L576.0,958.3 L577.7,957.2 L579.4,956.2 L581.0,955.1 L582.7,954.0 L584.4,952.9 L586.1,951.9 L587.8,950.8 L589.5,949.7 L591.2,948.6 L592.9,947.6 L594.5,946.5 L596.2,945.4 L597.9,944.3 L599.6,943.3 L601.3,942.2 L603.0,941.1 L604.7,940.0 L606.3,939.0 L608.0,937.9 L609.7,936.8 L611.4,935.7 L613.1,934.7 L614.8,933.6 L616.5,932.5 L618.2,931.5 L619.8,930.4 L621.5,929.3 L623.2,928.2 L624.9,927.2 L626.6,926.1 L628.3,925.0 L630.0,924.0 L631.7,922.9 L633.4,921.8 L635.1,920.8 L636.8,919.7 L638.5,918.7 L640.2,917.6 L641.9,916.5 L643.6,915.5 L645.3,914.4 L647.0,913.4 L648.7,912.3 L650.4,911.3 L652.1,910.2 L653.8,909.2 L655.5,908.1 L657.2,907.1 L658.9,906.0 L660.6,905.0 L662.3,904.0 L664.0,902.9 L665.7,901.9 L667.4,900.9 L669.1,899.8 L670.9,898.8 L672.6,897.8 L674.3,896.7 L676.0,895.7 L677.7,894.7 L679.4,893.7 L681.2,892.7 L682.9,891.6 L684.6,890.6 L686.3,889.6 L688.1,888.6 L689.8,887.6 L691.5,886.6 L693.3,885.6 L695.0,884.6 L696.7,883.6 L698.4,882.6 L700.2,881.6 L701.9,880.6 L703.6,879.6 L705.4,878.5 L707.1,877.5 L708.8,876.5 L710.5,875.5 L712.3,874.5 L714.0,873.5 L715.7,872.5 L717.4,871.5 L719.2,870.5 L720.9,869.4 L722.6,868.4 L724.3,867.4 L726.0,866.4 L727.7,865.3 L729.5,864.3 L731.2,863.3 L732.9,862.2 L734.6,861.2 L736.3,860.1 L738.0,859.1 L739.7,858.0 L741.4,857.0 L743.1,855.9 L744.8,854.9 L746.5,853.8 L748.2,852.7 L749.8,851.6 L751.5,850.6 L753.2,849.5 L754.9,848.4 L756.6,847.3 L758.2,846.2 L759.9,845.1 L761.5,844.0 L763.2,842.8 L764.9,841.7 L766.5,840.6 L768.2,839.4 L769.8,838.3 L771.4,837.2 L773.1,836.0 L774.7,834.8 L776.3,833.7 L778.0,832.5 L779.6,831.3 L781.2,830.2 L782.8,829.0 L784.4,827.8 L786.0,826.6 L787.6,825.4 L789.2,824.1 L790.8,822.9 L792.4,821.7 L793.9,820.5 L795.5,819.3 L797.1,818.0 L798.7,816.8 L800.2,815.6 L801.8,814.3 L803.4,813.1 L805.0,811.9 L806.5,810.6 L808.1,809.4 L809.7,808.1 L811.2,806.9 L812.8,805.6 L814.4,804.4 L815.9,803.2 L817.5,801.9 L819.1,800.7 L820.6,799.4 L822.2,798.2 L823.8,796.9 L825.3,795.7 L826.9,794.5 L828.5,793.2 L830.1,792.0 L831.6,790.8 L833.2,789.6 L834.8,788.3 L836.4,787.1 L838.0,785.9 L839.6,784.7 L841.2,783.5 L842.8,782.3 L844.4,781.1 L846.0,779.9 L847.6,778.7 L849.2,777.6 L850.8,776.4 L852.5,775.2 L854.1,774.1 L855.7,772.9 L857.4,771.8 L859.0,770.6 L860.7,769.5 L862.4,768.4 L864.0,767.3 L865.7,766.2 L867.4,765.2 L869.1,764.1 L870.8,763.1 L872.5,762.0 L874.2,761.0 L875.9,760.0 L877.7,759.0 L879.4,758.1 L881.2,757.1 L883.0,756.2 L884.7,755.2 L886.5,754.3 L888.3,753.4 L890.1,752.4 L891.8,751.5 L893.6,750.6 L895.4,749.7 L897.2,748.8 L899.0,747.9 L900.7,747.0 L902.5,746.0 L904.3,745.1 L906.0,744.1 L907.8,743.2 L909.5,742.2 L911.3,741.2 L913.0,740.2 L914.8,739.3 L916.5,738.3 L918.2,737.3 L920.0,736.3 L921.7,735.3 L923.4,734.2 L925.1,733.2 L926.9,732.2 L928.6,731.2 L930.3,730.2 L932.0,729.1 L933.7,728.1 L935.4,727.0 L937.1,726.0 L938.8,724.9 L940.5,723.9 L942.2,722.8 L943.9,721.8 L945.6,720.7 L947.3,719.7 L949.0,718.6 L950.7,717.5 L952.4,716.5 L954.1,715.4 L955.8,714.3 L957.4,713.2 L959.1,712.2 L960.8,711.1 L962.5,710.0 L964.2,708.9 L965.9,707.8 L967.5,706.8 L969.2,705.7 L970.9,704.6 L972.6,703.5 L974.3,702.4 L976.0,701.3 L977.6,700.3 L979.3,699.2 L981.0,698.1 L982.7,697.0 L984.4,695.9 L986.0,694.8 L987.7,693.8 L989.4,692.7 L991.1,691.6 L992.8,690.5 L994.5,689.4 L996.1,688.4 L997.8,687.3 L999.5,686.2 L1001.2,685.1 L1002.9,684.1 L1004.6,683.0 L1006.3,681.9 L1008.0,680.9 L1009.7,679.8 L1011.4,678.7 L1013.1,677.7 L1014.7,676.6 L1016.4,675.6 L1018.1,674.5 L1019.8,673.5 L1021.5,672.4 L1023.3,671.4 L1025.0,670.3 L1026.7,669.3 L1028.4,668.2 L1030.1,667.2 L1031.8,666.1 L1033.5,665.1 L1035.2,664.0 L1036.9,663.0 L1038.6,662.0 L1040.3,660.9 L1042.0,659.9 L1043.7,658.9 L1045.4,657.8 L1047.2,656.8 L1048.9,655.8 L1050.6,654.7 L1052.3,653.7 L1054.0,652.7 L1055.7,651.6 L1057.4,650.6 L1059.2,649.6 L1060.9,648.5 L1062.6,647.5 L1064.3,646.5 L1066.0,645.5 L1067.7,644.4 L1069.5,643.4 L1071.2,642.4 L1072.9,641.4 L1074.6,640.3 L1076.3,639.3 L1078.0,638.3 L1079.8,637.3 L1081.5,636.2 L1083.2,635.2 L1084.9,634.2 L1086.6,633.1 L1088.3,632.1 L1090.1,631.1 L1091.8,630.1 L1093.5,629.0 L1095.2,628.0 L1096.9,627.0 L1098.6,626.0 L1100.4,624.9 L1102.1,623.9 L1103.8,622.9 L1105.5,621.8 L1107.2,620.8 L1108.9,619.8 L1110.6,618.8 L1112.4,617.7 L1114.1,616.7 L1115.8,615.7 L1117.5,614.6 L1119.2,613.6 L1120.9,612.6 L1122.6,611.5 L1124.3,610.5 L1126.0,609.4 L1127.7,608.4 L1129.5,607.4 L1131.2,606.3 L1132.9,605.3 L1134.6,604.2 L1136.3,603.2 L1138.0,602.1 L1139.7,601.1 L1141.4,600.0 L1143.1,599.0 L1144.8,597.9 L1146.5,596.9 L1148.2,595.8 L1149.9,594.7 L1151.6,593.7 L1153.3,592.6 L1155.0,591.6 L1156.7,590.5 L1158.3,589.4 L1160.0,588.4 L1161.7,587.3 L1163.4,586.2 L1165.1,585.1 L1166.8,584.1 L1168.5,583.0 L1170.1,581.9 L1171.8,580.8 L1173.5,579.7 L1175.2,578.7 L1176.9,577.6 L1178.5,576.5 L1180.2,575.4 L1181.9,574.3 L1183.6,573.2 L1185.2,572.1 L1186.9,571.0 L1188.6,569.9 L1190.2,568.8 L1191.9,567.7 L1193.6,566.5 L1195.2,565.4 L1196.9,564.3 L1198.5,563.2 L1200.2,562.1 L1201.9,561.0 L1203.5,559.9 L1205.2,558.7 L1206.8,557.6 L1208.5,556.5 L1210.2,555.4 L1211.8,554.3 L1213.5,553.2 L1215.1,552.1 L1216.8,550.9 L1218.5,549.8 L1220.1,548.7 L1221.8,547.6 L1223.5,546.5 L1225.1,545.4 L1226.8,544.3 L1228.5,543.2 L1230.2,542.1 L1231.8,541.0 L1233.5,540.0 L1235.2,538.9 L1236.9,537.8 L1238.6,536.7 L1240.3,535.7 L1242.0,534.6 L1243.7,533.6 L1245.4,532.5 L1247.1,531.5 L1248.8,530.4 L1250.5,529.4 L1252.2,528.4 L1254.0,527.4 L1255.7,526.4 L1257.4,525.4 L1259.2,524.4 L1260.9,523.4 L1262.7,522.4 L1264.4,521.5 L1266.2,520.5 L1267.9,519.5 L1269.7,518.6 L1271.4,517.7 L1273.2,516.7 L1275.0,515.8 L1276.7,514.9 L1278.5,513.9 L1280.3,513.0 L1282.1,512.1 L1283.8,511.2 L1285.6,510.3 L1287.4,509.4 L1289.2,508.4 L1291.0,507.5 L1292.8,506.6 L1294.5,505.7 L1296.3,504.8 L1298.1,503.9 L1299.9,503.0 L1301.6,502.0 L1303.4,501.1 L1305.2,500.2 L1307.0,499.3 L1308.7,498.3 L1310.5,497.4 L1312.3,496.5 L1314.0,495.5 L1315.8,494.6 L1317.5,493.6 L1319.3,492.6 L1321.0,491.7 L1322.8,490.7 L1324.5,489.7 L1326.3,488.7 L1328.0,487.7 L1329.7,486.7 L1331.4,485.7 L1333.2,484.7 L1334.9,483.6 L1336.6,482.6 L1338.3,481.6 L1340.0,480.6 L1341.7,479.5 L1343.4,478.5 L1345.1,477.4 L1346.8,476.3 L1348.5,475.3 L1350.2,474.2 L1351.9,473.1 L1353.6,472.1 L1355.3,471.0 L1357.0,469.9 L1358.6,468.8 L1360.3,467.7 L1362.0,466.6 L1363.7,465.5 L1365.3,464.4 L1367.0,463.3 L1368.6,462.2 L1370.3,461.1 L1372.0,460.0 L1373.6,458.8 L1375.3,457.7 L1376.9,456.6 L1378.6,455.4 L1380.2,454.3 L1381.9,453.2 L1383.5,452.0 L1385.1,450.9 L1386.8,449.7 L1388.4,448.6 L1390.0,447.4 L1391.7,446.3 L1393.3,445.1 L1394.9,444.0 L1396.6,442.8 L1398.2,441.6 L1399.8,440.5 L1401.4,439.3 L1403.0,438.1 L1404.7,436.9 L1406.3,435.8 L1407.9,434.6 L1409.5,433.4 L1411.1,432.2 L1412.7,431.0 L1414.3,429.8 L1415.9,428.6 L1417.6,427.5 L1419.2,426.3 L1420.8,425.1 L1422.4,423.9 L1424.0,422.7 L1425.6,421.5 L1427.2,420.3 L1428.8,419.1 L1430.4,417.9 L1432.0,416.7 L1433.6,415.5 L1435.2,414.3 L1436.8,413.1 L1438.3,411.8 L1439.9,410.6 L1441.5,409.4 L1443.1,408.2 L1444.7,407.0 L1446.3,405.8 L1447.9,404.6 L1449.5,403.4 L1451.1,402.1 L1452.7,400.9 L1454.2,399.7 L1455.8,398.5 L1457.4,397.3 L1459.0,396.1 L1460.6,394.8 L1462.2,393.6 L1463.8,392.4 L1465.4,391.2 L1466.9,390.0 L1468.5,388.8 L1470.1,387.5 L1471.7,386.3 L1473.3,385.1 L1474.9,383.9 L1476.5,382.7 L1478.0,381.4 L1479.6,380.2 L1481.2,379.0 L1482.8,377.8 L1484.4,376.6 L1486.0,375.4 L1487.6,374.1 L1489.1,372.9 L1490.7,371.7 L1492.3,370.5 L1493.9,369.3 L1495.5,368.1 L1497.1,366.8 L1498.7,365.6 L1500.3,364.4 L1501.9,363.2 L1503.5,362.0 L1505.1,360.8 L1506.7,359.6 L1508.2,358.4 L1509.8,357.2 L1511.4,356.0 L1513.0,354.8 L1514.6,353.6 L1516.2,352.4 L1517.8,351.2 L1519.4,350.0 L1521.0,348.8 L1522.6,347.6 L1524.2,346.4 L1525.8,345.2 L1527.5,344.0 L1529.1,342.8 L1530.7,341.6 L1532.3,340.4 L1533.9,339.2 L1535.5,338.0 L1537.1,336.9 L1538.7,335.7 L1540.3,334.5 L1541.9,333.3 L1543.5,332.1 L1545.2,330.9 L1546.8,329.7 L1548.4,328.6 L1550.0,327.4 L1551.6,326.2 L1553.2,325.0 L1554.8,323.8 L1556.4,322.7 L1558.1,321.5 L1559.7,320.3 L1561.3,319.1 L1562.9,317.9 L1564.5,316.8 L1566.1,315.6 L1567.8,314.4 L1569.4,313.2 L1571.0,312.1 L1572.6,310.9 L1574.2,309.7 L1575.9,308.5 L1577.5,307.4 L1579.1,306.2 L1580.7,305.0 L1582.3,303.8 L1584.0,302.7 L1585.6,301.5 L1587.2,300.3 L1588.8,299.1 L1590.4,298.0 L1592.1,296.8 L1593.7,295.6 L1595.3,294.5 L1596.9,293.3 L1598.5,292.1 L1600.1,290.9 L1601.8,289.8 L1603.4,288.6 L1605.0,287.4 L1606.6,286.2 L1608.2,285.1 L1609.9,283.9 L1611.5,282.7 L1613.1,281.5 L1614.7,280.4 L1616.3,279.2 L1618.0,278.0 L1619.6,276.8 L1621.2,275.7 L1622.8,274.5 L1624.4,273.3 L1626.0,272.1 L1627.6,270.9 L1629.3,269.8 L1630.9,268.6 L1632.5,267.4 L1634.1,266.2 L1635.7,265.0 L1637.3,263.8 L1638.9,262.7 L1640.5,261.5 L1642.2,260.3 L1643.8,259.1 L1645.4,257.9 L1647.0,256.7 L1648.6,255.6 L1650.2,254.4 L1651.8,253.2 L1653.5,252.0 L1655.1,250.8 L1656.7,249.6 L1658.2,248.4 L1659.8,247.2 L1661.3,245.9 L1662.9,244.5 L1664.4,243.2 L1665.8,241.8 L1667.3,240.4 L1668.8,239.0 L1670.3,237.6 L1671.8,236.3 L1673.3,234.9 L1674.8,233.6 L1676.3,232.4 L1677.9,231.2 L1679.5,230.0 L1681.1,229.0 L1682.8,228.0 L1684.6,227.1 L1686.4,226.2 L1688.3,225.4 L1690.1,224.7 L1690.6,224.5 L1693.8,225.5 L1695.3,229.5 L1695.5,1262.0" fill="none" stroke="#00f" stroke-width="8.7" stroke-linejoin="round" stroke-linecap="butt"/>
<path d="M414.1,1091.5 L414.8,1089.4 L415.5,1087.5 L416.3,1085.6 L417.0,1083.2 L417.7,1080.7 L418.5,1080.1 L419.2,1078.7 L420.0,1077.3 L420.8,1075.4 L421.6,1074.3 L422.4,1071.4 L423.3,1068.2 L424.2,1069.1 L425.1,1067.9 L426.1,1066.6 L427.1,1065.9 L428.2,1063.6 L429.3,1062.5 L430.4,1060.8 L431.5,1059.5 L432.7,1057.1 L433.9,1052.4 L435.2,1046.4 L436.4,1050.5 L437.7,1050.7 L439.0,1050.5 L440.3,1049.3 L441.6,1047.5 L442.9,1043.7 L444.3,1041.2 L445.8,1042.6 L447.3,1041.3 L448.8,1040.2 L450.4,1040.2 L451.9,1039.7 L453.4,1036.8 L454.9,1035.6 L456.4,1034.8 L457.9,1033.8 L459.4,1031.9 L460.8,1030.3 L462.3,1029.5 L463.8,1028.1 L465.2,1026.4 L466.7,1023.9 L468.2,1023.4 L469.7,1023.0 L471.2,1021.8 L472.8,1020.0 L474.3,1019.5 L475.9,1018.3 L477.4,1016.2 L479.0,1016.1 L480.6,1013.8 L482.1,1013.0 L483.7,1010.8 L485.3,1009.5 L486.9,1008.5 L488.5,1007.3 L490.1,1007.0 L491.8,1005.1 L493.4,1004.8 L495.0,1003.1 L496.7,1002.6 L498.3,1000.0 L499.9,998.5 L501.6,998.8 L503.3,996.4 L504.9,997.3 L506.6,994.9 L508.3,993.3 L509.9,991.2 L511.6,991.9 L513.3,990.9 L515.0,991.3 L516.7,990.2 L518.4,988.8 L520.0,987.9 L521.7,983.4 L523.4,976.9 L525.1,979.5 L526.8,983.0 L528.5,980.4 L530.2,980.1 L531.9,979.4 L533.6,977.9 L535.3,978.1 L537.0,975.2 L538.7,974.4 L540.4,973.6 L542.1,973.3 L543.8,971.2 L545.5,970.4 L547.2,969.6 L548.9,967.8 L550.6,967.5 L552.3,967.2 L554.0,965.6 L555.7,965.6 L557.4,964.5 L559.1,961.9 L560.8,960.7 L562.5,959.1 L564.2,958.4 L565.9,958.2 L567.5,958.4 L569.2,956.2 L570.9,953.9 L572.6,953.2 L574.3,953.0 L576.0,952.0 L577.7,951.6 L579.4,950.6 L581.0,949.8 L582.7,946.5 L584.4,946.1 L586.1,946.4 L587.8,944.6 L589.5,944.5 L591.2,943.0 L592.9,940.5 L594.5,939.6 L596.2,939.0 L597.9,938.5 L599.6,936.4 L601.3,934.5 L603.0,934.8 L604.7,934.8 L606.3,933.7 L608.0,932.6 L609.7,929.1 L611.4,929.2 L613.1,927.3 L614.8,928.1 L616.5,926.7 L618.2,924.5 L619.8,922.8 L621.5,923.3 L623.2,923.0 L624.9,917.6 L626.6,915.5 L628.3,916.7 L630.0,918.5 L631.7,915.9 L633.4,914.5 L635.1,912.0 L636.8,909.9 L638.5,910.6 L640.2,912.2 L641.9,910.6 L643.6,909.3 L645.3,907.0 L647.0,907.9 L648.7,904.8 L650.4,904.0 L652.1,902.5 L653.8,903.1 L655.5,902.2 L657.2,900.7 L658.9,898.6 L660.6,897.3 L662.3,897.0 L664.0,896.6 L665.7,896.1 L667.4,893.5 L669.1,892.4 L670.9,893.6 L672.6,892.2 L674.3,889.4 L676.0,888.4 L677.7,888.9 L679.4,887.9 L681.2,886.5 L682.9,885.2 L684.6,885.4 L686.3,882.3 L688.1,882.2 L689.8,880.5 L691.5,881.0 L693.3,877.9 L695.0,877.5 L696.7,877.7 L698.4,875.0 L700.2,874.7 L701.9,873.3 L703.6,874.5 L705.4,873.5 L707.1,870.5 L708.8,870.7 L710.5,869.1 L712.3,869.1 L714.0,865.8 L715.7,866.1 L717.4,864.2 L719.2,865.3 L720.9,863.1 L722.6,863.3 L724.3,856.5 L726.0,852.5 L727.7,858.2 L729.5,859.1 L731.2,856.8 L732.9,857.0 L734.6,855.7 L736.3,853.9 L738.0,852.7 L739.7,851.4 L741.4,850.2 L743.1,849.8 L744.8,848.1 L746.5,848.3 L748.2,846.9 L749.8,844.3 L751.5,845.0 L753.2,843.8 L754.9,842.6 L756.6,836.0 L758.2,830.4 L759.9,837.2 L761.5,837.5 L763.2,837.2 L764.9,834.6 L766.5,833.2 L768.2,832.6 L769.8,831.2 L771.4,830.9 L773.1,830.6 L774.7,828.4 L776.3,827.4 L778.0,825.6 L779.6,825.7 L781.2,824.2 L782.8,821.4 L784.4,821.4 L786.0,819.4 L787.6,815.9 L789.2,815.0 L790.8,816.4 L792.4,814.4 L793.9,813.5 L795.5,812.1 L797.1,812.5 L798.7,810.2 L800.2,810.1 L801.8,808.2 L803.4,805.7 L805.0,806.2 L806.5,804.4 L808.1,801.2 L809.7,800.0 L811.2,800.1 L812.8,798.1 L814.4,797.2 L815.9,796.4 L817.5,792.8 L819.1,792.0 L820.6,791.0 L822.2,792.6 L823.8,789.1 L825.3,788.4 L826.9,787.8 L828.5,785.9 L830.1,785.3 L831.6,783.2 L833.2,782.5 L834.8,778.6 L836.4,778.6 L838.0,777.9 L839.6,778.7 L841.2,777.4 L842.8,774.4 L844.4,774.8 L846.0,774.5 L847.6,771.4 L849.2,771.1 L850.8,769.1 L852.5,768.6 L854.1,767.4 L855.7,766.5 L857.4,765.8 L859.0,763.0 L860.7,762.5 L862.4,761.1 L864.0,759.7 L865.7,760.5 L867.4,757.5 L869.1,756.7 L870.8,756.6 L872.5,755.5 L874.2,755.7 L875.9,753.0 L877.7,752.2 L879.4,748.5 L881.2,751.1 L883.0,751.1 L884.7,748.7 L886.5,748.1 L888.3,746.7 L890.1,745.4 L891.8,744.0 L893.6,745.6 L895.4,743.2 L897.2,742.4 L899.0,741.3 L900.7,740.6 L902.5,739.6 L904.3,737.8 L906.0,738.0 L907.8,736.8 L909.5,735.4 L911.3,736.1 L913.0,734.1 L914.8,734.1 L916.5,733.0 L918.2,732.3 L920.0,730.8 L921.7,729.7 L923.4,727.1 L925.1,725.0 L926.9,723.8 L928.6,723.2 L930.3,722.3 L932.0,723.0 L933.7,721.0 L935.4,720.5 L937.1,719.2 L938.8,719.2 L940.5,716.3 L942.2,715.7 L943.9,716.3 L945.6,712.4 L947.3,707.9 L949.0,712.4 L950.7,711.6 L952.4,709.3 L954.1,710.2 L955.8,707.2 L957.4,706.6 L959.1,705.1 L960.8,704.5 L962.5,702.3 L964.2,702.9 L965.9,701.2 L967.5,701.5 L969.2,699.1 L970.9,698.3 L972.6,695.7 L974.3,694.7 L976.0,695.9 L977.6,695.1 L979.3,693.8 L981.0,692.5 L982.7,689.9 L984.4,689.3 L986.0,688.3 L987.7,687.4 L989.4,687.6 L991.1,685.4 L992.8,682.6 L994.5,682.1 L996.1,681.7 L997.8,681.7 L999.5,678.6 L1001.2,678.9 L1002.9,677.3 L1004.6,677.4 L1006.3,676.0 L1008.0,674.9 L1009.7,673.7 L1011.4,673.7 L1013.1,670.8 L1014.7,671.1 L1016.4,668.9 L1018.1,667.8 L1019.8,665.8 L1021.5,665.0 L1023.3,665.2 L1025.0,663.2 L1026.7,663.2 L1028.4,662.8 L1030.1,659.6 L1031.8,661.1 L1033.5,657.6 L1035.2,658.2 L1036.9,656.8 L1038.6,653.9 L1040.3,652.6 L1042.0,645.6 L1043.7,645.5 L1045.4,645.3 L1047.2,642.0 L1048.9,647.5 L1050.6,649.5 L1052.3,647.7 L1054.0,646.3 L1055.7,645.9 L1057.4,644.1 L1059.2,644.0 L1060.9,642.2 L1062.6,640.9 L1064.3,639.3 L1066.0,638.3 L1067.7,637.4 L1069.5,637.3 L1071.2,636.1 L1072.9,633.9 L1074.6,634.3 L1076.3,632.3 L1078.0,630.5 L1079.8,629.7 L1081.5,629.7 L1083.2,629.4 L1084.9,627.5 L1086.6,626.3 L1088.3,625.7 L1090.1,625.2 L1091.8,623.8 L1093.5,623.4 L1095.2,621.1 L1096.9,621.3 L1098.6,619.1 L1100.4,617.3 L1102.1,618.5 L1103.8,617.8 L1105.5,614.8 L1107.2,614.0 L1108.9,611.5 L1110.6,613.1 L1112.4,612.2 L1114.1,609.8 L1115.8,609.0 L1117.5,607.2 L1119.2,605.9 L1120.9,606.6 L1122.6,604.8 L1124.3,604.2 L1126.0,603.0 L1127.7,602.3 L1129.5,599.6 L1131.2,599.6 L1132.9,599.9 L1134.6,597.3 L1136.3,595.5 L1138.0,594.6 L1139.7,594.5 L1141.4,595.0 L1143.1,591.7 L1144.8,590.3 L1146.5,589.8 L1148.2,589.6 L1149.9,588.7 L1151.6,586.6 L1153.3,587.3 L1155.0,584.3 L1156.7,584.1 L1158.3,584.2 L1160.0,581.0 L1161.7,581.1 L1163.4,580.9 L1165.1,579.6 L1166.8,576.6 L1168.5,577.4 L1170.1,574.6 L1171.8,573.5 L1173.5,574.4 L1175.2,572.3 L1176.9,570.3 L1178.5,568.7 L1180.2,565.0 L1181.9,567.4 L1183.6,565.5 L1185.2,564.6 L1186.9,563.1 L1188.6,562.4 L1190.2,562.1 L1191.9,560.6 L1193.6,558.1 L1195.2,558.0 L1196.9,555.6 L1198.5,549.5 L1200.2,554.3 L1201.9,554.2 L1203.5,552.3 L1205.2,550.9 L1206.8,552.0 L1208.5,550.7 L1210.2,549.8 L1211.8,549.1 L1213.5,546.8 L1215.1,544.6 L1216.8,543.3 L1218.5,543.3 L1220.1,542.4 L1221.8,540.1 L1223.5,539.9 L1225.1,538.8 L1226.8,537.4 L1228.5,537.9 L1230.2,534.7 L1231.8,535.7 L1233.5,533.4 L1235.2,530.7 L1236.9,530.0 L1238.6,530.4 L1240.3,528.6 L1242.0,527.1 L1243.7,526.8 L1245.4,527.4 L1247.1,523.1 L1248.8,523.4 L1250.5,522.0 L1252.2,520.9 L1254.0,522.0 L1255.7,520.0 L1257.4,518.5 L1259.2,517.1 L1260.9,513.6 L1262.7,516.3 L1264.4,516.2 L1266.2,515.3 L1267.9,512.9 L1269.7,506.5 L1271.4,501.5 L1273.2,503.5 L1275.0,508.0 L1276.7,507.8 L1278.5,508.7 L1280.3,506.7 L1282.1,507.2 L1283.8,505.0 L1285.6,503.1 L1287.4,503.2 L1289.2,502.8 L1291.0,502.0 L1292.8,500.7 L1294.5,498.4 L1296.3,497.3 L1298.1,497.0 L1299.9,495.4 L1301.6,495.1 L1303.4,495.5 L1305.2,494.2 L1307.0,492.4 L1308.7,491.5 L1310.5,490.7 L1312.3,490.3 L1314.0,490.3 L1315.8,487.0 L1317.5,488.1 L1319.3,485.0 L1321.0,486.4 L1322.8,479.0 L1324.5,474.8 L1326.3,479.3 L1328.0,482.8 L1329.7,480.5 L1331.4,480.0 L1333.2,477.8 L1334.9,476.8 L1336.6,476.4 L1338.3,474.6 L1340.0,472.8 L1341.7,474.2 L1343.4,471.9 L1345.1,470.5 L1346.8,469.5 L1348.5,469.5 L1350.2,466.7 L1351.9,467.4 L1353.6,464.6 L1355.3,464.6 L1357.0,464.4 L1358.6,461.4 L1360.3,462.4 L1362.0,459.3 L1363.7,458.7 L1365.3,456.8 L1367.0,455.9 L1368.6,455.9 L1370.3,455.6 L1372.0,454.1 L1373.6,453.7 L1375.3,450.7 L1376.9,451.2 L1378.6,449.8 L1380.2,448.4 L1381.9,446.8 L1383.5,444.9 L1385.1,444.4 L1386.8,440.4 L1388.4,437.0 L1390.0,439.7 L1391.7,440.5 L1393.3,437.2 L1394.9,437.2 L1396.6,435.5 L1398.2,434.4 L1399.8,433.8 L1401.4,433.9 L1403.0,432.1 L1404.7,431.0 L1406.3,429.7 L1407.9,428.6 L1409.5,425.4 L1411.1,424.7 L1412.7,423.2 L1414.3,422.5 L1415.9,422.4 L1417.6,419.5 L1419.2,419.6 L1420.8,419.2 L1422.4,416.5 L1424.0,416.6 L1425.6,413.8 L1427.2,412.9 L1428.8,412.9 L1430.4,411.2 L1432.0,409.3 L1433.6,408.2 L1435.2,407.4 L1436.8,407.1 L1438.3,405.6 L1439.9,403.3 L1441.5,402.8 L1443.1,400.8 L1444.7,399.7 L1446.3,399.4 L1447.9,398.9 L1449.5,396.1 L1451.1,393.3 L1452.7,388.6 L1454.2,389.0 L1455.8,384.7 L1457.4,388.7 L1459.0,388.8 L1460.6,389.1 L1462.2,386.1 L1463.8,384.6 L1465.4,383.9 L1466.9,382.5 L1468.5,382.1 L1470.1,380.5 L1471.7,379.7 L1473.3,379.4 L1474.9,377.3 L1476.5,375.1 L1478.0,374.9 L1479.6,371.7 L1481.2,372.2 L1482.8,372.0 L1484.4,369.4 L1486.0,368.7 L1487.6,367.8 L1489.1,366.1 L1490.7,363.6 L1492.3,363.0 L1493.9,363.1 L1495.5,360.1 L1497.1,361.0 L1498.7,359.1 L1500.3,358.0 L1501.9,355.1 L1503.5,356.6 L1505.1,353.6 L1506.7,352.8 L1508.2,352.6 L1509.8,350.0 L1511.4,348.4 L1513.0,346.7 L1514.6,346.6 L1516.2,344.5 L1517.8,344.9 L1519.4,340.4 L1521.0,337.8 L1522.6,341.0 L1524.2,339.0 L1525.8,338.3 L1527.5,337.4 L1529.1,335.7 L1530.7,335.1 L1532.3,335.0 L1533.9,331.4 L1535.5,331.3 L1537.1,329.4 L1538.7,329.9 L1540.3,327.2 L1541.9,325.4 L1543.5,325.5 L1545.2,323.4 L1546.8,322.6 L1548.4,320.2 L1550.0,320.8 L1551.6,320.1 L1553.2,318.2 L1554.8,317.6 L1556.4,317.2 L1558.1,314.3 L1559.7,314.2 L1561.3,312.7 L1562.9,312.1 L1564.5,311.4 L1566.1,308.5 L1567.8,308.0 L1569.4,305.4 L1571.0,306.7 L1572.6,303.3 L1574.2,304.4 L1575.9,302.8 L1577.5,300.2 L1579.1,295.3 L1580.7,297.7 L1582.3,297.7 L1584.0,294.7 L1585.6,294.6 L1587.2,292.5 L1588.8,291.4 L1590.4,291.8 L1592.1,289.7 L1593.7,289.8 L1595.3,288.2 L1596.9,283.4 L1598.5,279.3 L1600.1,283.9 L1601.8,284.3 L1603.4,281.2 L1605.0,280.2 L1606.6,276.5 L1608.2,273.3 L1609.9,275.0 L1611.5,275.8 L1613.1,275.8 L1614.7,274.6 L1616.3,272.2 L1618.0,267.4 L1619.6,264.1 L1621.2,268.1 L1622.8,267.2 L1624.4,263.4 L1626.0,256.0 L1627.6,262.2 L1629.3,264.4 L1630.9,261.8 L1632.5,260.7 L1634.1,258.4 L1635.7,257.7 L1637.3,257.7 L1638.9,255.6 L1640.5,255.5 L1642.2,253.2 L1643.8,252.1 L1645.4,250.9 L1647.0,251.0 L1648.6,248.3 L1650.2,247.6 L1651.8,245.8 L1653.5,246.6 L1655.1,243.4 L1656.7,241.6 L1658.2,241.3 L1659.8,241.3 L1661.3,237.7 L1662.9,237.3 L1664.4,236.6 L1665.8,234.2 L1667.3,232.1 L1668.8,231.7 L1670.3,227.6 L1671.8,227.5 L1673.3,225.4 L1674.8,227.6 L1676.3,225.5 L1677.9,223.8 L1679.5,223.0 L1681.1,217.9 L1682.8,212.2 L1684.6,216.5 L1686.4,217.2 L1688.3,215.6 L1690.1,216.5 L1690.1,231.7 L1688.3,231.8 L1686.4,231.3 L1684.6,232.5 L1682.8,234.7 L1681.1,236.4 L1679.5,237.3 L1677.9,236.9 L1676.3,240.6 L1674.8,240.5 L1673.3,243.4 L1671.8,242.2 L1670.3,245.2 L1668.8,245.0 L1667.3,247.5 L1665.8,248.7 L1664.4,249.2 L1662.9,252.3 L1661.3,252.7 L1659.8,254.8 L1658.2,255.2 L1656.7,256.0 L1655.1,257.4 L1653.5,258.3 L1651.8,259.9 L1650.2,261.6 L1648.6,269.8 L1647.0,266.8 L1645.4,263.3 L1643.8,265.7 L1642.2,266.8 L1640.5,267.6 L1638.9,268.7 L1637.3,270.2 L1635.7,271.0 L1634.1,272.0 L1632.5,275.0 L1630.9,275.0 L1629.3,276.1 L1627.6,279.0 L1626.0,279.7 L1624.4,284.0 L1622.8,282.3 L1621.2,281.8 L1619.6,282.3 L1618.0,285.5 L1616.3,286.5 L1614.7,286.5 L1613.1,288.8 L1611.5,288.4 L1609.9,291.9 L1608.2,292.8 L1606.6,294.1 L1605.0,294.8 L1603.4,294.6 L1601.8,297.0 L1600.1,298.8 L1598.5,298.1 L1596.9,300.2 L1595.3,300.1 L1593.7,301.4 L1592.1,305.3 L1590.4,307.7 L1588.8,307.9 L1587.2,307.3 L1585.6,309.5 L1584.0,309.9 L1582.3,309.4 L1580.7,311.8 L1579.1,312.8 L1577.5,313.6 L1575.9,316.6 L1574.2,315.3 L1572.6,318.1 L1571.0,317.9 L1569.4,319.2 L1567.8,321.9 L1566.1,323.4 L1564.5,322.2 L1562.9,325.5 L1561.3,326.6 L1559.7,327.8 L1558.1,329.5 L1556.4,336.0 L1554.8,333.9 L1553.2,332.4 L1551.6,332.1 L1550.0,333.5 L1548.4,338.7 L1546.8,345.8 L1545.2,343.6 L1543.5,338.8 L1541.9,341.3 L1540.3,341.2 L1538.7,342.7 L1537.1,348.9 L1535.5,346.4 L1533.9,347.0 L1532.3,347.8 L1530.7,349.1 L1529.1,350.3 L1527.5,349.5 L1525.8,352.1 L1524.2,355.3 L1522.6,356.4 L1521.0,354.6 L1519.4,356.4 L1517.8,357.4 L1516.2,359.4 L1514.6,359.5 L1513.0,361.3 L1511.4,364.1 L1509.8,363.9 L1508.2,365.8 L1506.7,366.6 L1505.1,366.4 L1503.5,369.0 L1501.9,371.2 L1500.3,370.4 L1498.7,373.6 L1497.1,374.3 L1495.5,375.7 L1493.9,374.7 L1492.3,378.5 L1490.7,378.2 L1489.1,379.6 L1487.6,380.3 L1486.0,382.2 L1484.4,384.5 L1482.8,384.3 L1481.2,385.6 L1479.6,387.5 L1478.0,388.7 L1476.5,388.6 L1474.9,391.4 L1473.3,393.2 L1471.7,394.3 L1470.1,399.0 L1468.5,400.7 L1466.9,404.6 L1465.4,401.5 L1463.8,398.5 L1462.2,400.8 L1460.6,401.5 L1459.0,403.0 L1457.4,404.6 L1455.8,404.6 L1454.2,407.8 L1452.7,408.2 L1451.1,408.9 L1449.5,411.0 L1447.9,411.5 L1446.3,412.1 L1444.7,413.5 L1443.1,416.0 L1441.5,416.1 L1439.9,417.5 L1438.3,420.1 L1436.8,428.3 L1435.2,424.4 L1433.6,422.9 L1432.0,423.7 L1430.4,425.7 L1428.8,424.5 L1427.2,428.1 L1425.6,427.3 L1424.0,428.5 L1422.4,431.3 L1420.8,431.0 L1419.2,433.7 L1417.6,434.4 L1415.9,434.6 L1414.3,437.2 L1412.7,436.7 L1411.1,437.8 L1409.5,440.9 L1407.9,441.0 L1406.3,443.7 L1404.7,444.5 L1403.0,445.1 L1401.4,445.2 L1399.8,448.1 L1398.2,449.5 L1396.6,450.8 L1394.9,450.1 L1393.3,451.4 L1391.7,454.3 L1390.0,455.3 L1388.4,455.4 L1386.8,457.5 L1385.1,457.1 L1383.5,459.2 L1381.9,461.1 L1380.2,459.7 L1378.6,463.2 L1376.9,465.5 L1375.3,465.9 L1373.6,466.8 L1372.0,474.6 L1370.3,470.7 L1368.6,469.7 L1367.0,472.0 L1365.3,471.3 L1363.7,471.4 L1362.0,473.4 L1360.3,475.5 L1358.6,477.3 L1357.0,483.4 L1355.3,479.7 L1353.6,479.3 L1351.9,479.7 L1350.2,480.1 L1348.5,482.0 L1346.8,481.8 L1345.1,483.1 L1343.4,485.6 L1341.7,491.8 L1340.0,489.9 L1338.3,486.7 L1336.6,489.4 L1334.9,488.7 L1333.2,490.2 L1331.4,493.4 L1329.7,493.3 L1328.0,494.0 L1326.3,495.4 L1324.5,496.3 L1322.8,499.2 L1321.0,501.9 L1319.3,501.8 L1317.5,500.9 L1315.8,500.6 L1314.0,502.7 L1312.3,503.7 L1310.5,503.2 L1308.7,506.6 L1307.0,506.8 L1305.2,505.7 L1303.4,506.5 L1301.6,508.3 L1299.9,509.7 L1298.1,509.3 L1296.3,509.9 L1294.5,510.7 L1292.8,513.9 L1291.0,512.8 L1289.2,515.7 L1287.4,516.1 L1285.6,517.4 L1283.8,518.6 L1282.1,527.6 L1280.3,523.3 L1278.5,518.8 L1276.7,520.4 L1275.0,522.6 L1273.2,523.8 L1271.4,524.0 L1269.7,527.8 L1267.9,526.8 L1266.2,527.3 L1264.4,528.6 L1262.7,529.6 L1260.9,529.4 L1259.2,530.7 L1257.4,532.5 L1255.7,532.1 L1254.0,534.3 L1252.2,535.5 L1250.5,535.6 L1248.8,538.0 L1247.1,536.8 L1245.4,538.5 L1243.7,538.9 L1242.0,541.1 L1240.3,542.4 L1238.6,542.7 L1236.9,543.3 L1235.2,545.6 L1233.5,547.5 L1231.8,546.9 L1230.2,548.1 L1228.5,550.0 L1226.8,555.0 L1225.1,564.1 L1223.5,557.9 L1221.8,554.8 L1220.1,555.7 L1218.5,556.3 L1216.8,558.0 L1215.1,558.0 L1213.5,560.5 L1211.8,560.4 L1210.2,562.1 L1208.5,568.7 L1206.8,565.4 L1205.2,566.6 L1203.5,565.8 L1201.9,566.8 L1200.2,569.1 L1198.5,569.1 L1196.9,570.3 L1195.2,572.5 L1193.6,572.8 L1191.9,572.8 L1190.2,574.6 L1188.6,576.9 L1186.9,577.5 L1185.2,579.2 L1183.6,580.5 L1181.9,579.6 L1180.2,584.0 L1178.5,586.5 L1176.9,586.6 L1175.2,585.1 L1173.5,586.1 L1171.8,588.3 L1170.1,589.5 L1168.5,589.5 L1166.8,590.5 L1165.1,592.3 L1163.4,593.8 L1161.7,595.0 L1160.0,595.9 L1158.3,595.5 L1156.7,597.3 L1155.0,599.8 L1153.3,600.5 L1151.6,602.1 L1149.9,601.1 L1148.2,601.6 L1146.5,604.7 L1144.8,604.5 L1143.1,606.3 L1141.4,606.0 L1139.7,606.5 L1138.0,608.4 L1136.3,609.3 L1134.6,611.6 L1132.9,610.6 L1131.2,614.3 L1129.5,615.9 L1127.7,616.2 L1126.0,616.9 L1124.3,615.8 L1122.6,617.0 L1120.9,618.1 L1119.2,620.3 L1117.5,621.2 L1115.8,623.1 L1114.1,622.3 L1112.4,624.9 L1110.6,625.4 L1108.9,626.7 L1107.2,628.5 L1105.5,627.0 L1103.8,629.0 L1102.1,631.7 L1100.4,632.7 L1098.6,632.7 L1096.9,633.5 L1095.2,637.2 L1093.5,642.2 L1091.8,638.8 L1090.1,637.4 L1088.3,638.8 L1086.6,640.8 L1084.9,641.4 L1083.2,640.9 L1081.5,642.9 L1079.8,644.4 L1078.0,643.8 L1076.3,645.5 L1074.6,648.1 L1072.9,649.1 L1071.2,648.0 L1069.5,651.0 L1067.7,651.1 L1066.0,650.6 L1064.3,653.9 L1062.6,653.2 L1060.9,655.8 L1059.2,655.3 L1057.4,660.0 L1055.7,659.9 L1054.0,659.6 L1052.3,660.2 L1050.6,660.5 L1048.9,660.9 L1047.2,664.3 L1045.4,662.9 L1043.7,665.2 L1042.0,666.5 L1040.3,666.4 L1038.6,667.1 L1036.9,668.3 L1035.2,670.8 L1033.5,670.3 L1031.8,672.9 L1030.1,673.2 L1028.4,673.9 L1026.7,675.8 L1025.0,676.8 L1023.3,678.1 L1021.5,678.0 L1019.8,681.7 L1018.1,684.9 L1016.4,682.7 L1014.7,682.2 L1013.1,684.7 L1011.4,691.3 L1009.7,688.7 L1008.0,687.7 L1006.3,688.5 L1004.6,695.3 L1002.9,693.6 L1001.2,690.4 L999.5,691.8 L997.8,692.8 L996.1,695.4 L994.5,697.0 L992.8,695.7 L991.1,699.2 L989.4,703.1 L987.7,702.1 L986.0,700.2 L984.4,702.8 L982.7,702.3 L981.0,705.3 L979.3,705.8 L977.6,707.5 L976.0,708.5 L974.3,707.5 L972.6,710.5 L970.9,711.2 L969.2,718.6 L967.5,722.2 L965.9,718.1 L964.2,717.3 L962.5,718.0 L960.8,718.5 L959.1,717.3 L957.4,721.0 L955.8,721.6 L954.1,721.3 L952.4,724.0 L950.7,722.8 L949.0,725.5 L947.3,729.5 L945.6,735.9 L943.9,731.6 L942.2,730.6 L940.5,731.0 L938.8,730.0 L937.1,734.9 L935.4,740.6 L933.7,737.0 L932.0,734.8 L930.3,736.8 L928.6,736.6 L926.9,737.2 L925.1,739.2 L923.4,739.7 L921.7,740.7 L920.0,742.8 L918.2,743.9 L916.5,743.5 L914.8,744.6 L913.0,746.5 L911.3,746.4 L909.5,747.4 L907.8,748.9 L906.0,751.1 L904.3,750.4 L902.5,752.1 L900.7,753.8 L899.0,753.0 L897.2,753.7 L895.4,756.6 L893.6,756.8 L891.8,757.4 L890.1,759.9 L888.3,758.5 L886.5,759.7 L884.7,760.6 L883.0,761.6 L881.2,762.2 L879.4,762.9 L877.7,765.8 L875.9,767.2 L874.2,771.9 L872.5,788.1 L870.8,779.0 L869.1,770.8 L867.4,773.0 L865.7,773.2 L864.0,774.2 L862.4,776.2 L860.7,777.4 L859.0,776.8 L857.4,778.5 L855.7,780.3 L854.1,781.2 L852.5,781.9 L850.8,781.7 L849.2,783.5 L847.6,786.7 L846.0,787.6 L844.4,786.7 L842.8,790.1 L841.2,789.6 L839.6,790.5 L838.0,791.8 L836.4,793.3 L834.8,795.3 L833.2,797.7 L831.6,796.9 L830.1,798.8 L828.5,799.6 L826.9,802.1 L825.3,802.1 L823.8,802.6 L822.2,804.3 L820.6,806.9 L819.1,806.4 L817.5,807.9 L815.9,808.9 L814.4,810.2 L812.8,813.9 L811.2,815.9 L809.7,820.4 L808.1,820.0 L806.5,817.3 L805.0,818.4 L803.4,820.4 L801.8,821.6 L800.2,822.0 L798.7,823.7 L797.1,824.3 L795.5,825.2 L793.9,827.9 L792.4,827.8 L790.8,828.6 L789.2,830.8 L787.6,833.9 L786.0,833.1 L784.4,834.1 L782.8,835.9 L781.2,835.9 L779.6,836.9 L778.0,839.2 L776.3,840.2 L774.7,842.0 L773.1,842.7 L771.4,842.6 L769.8,844.8 L768.2,846.9 L766.5,846.4 L764.9,847.1 L763.2,848.7 L761.5,850.5 L759.9,852.1 L758.2,853.9 L756.6,854.6 L754.9,856.8 L753.2,857.6 L751.5,856.2 L749.8,858.0 L748.2,859.0 L746.5,861.4 L744.8,862.7 L743.1,862.7 L741.4,864.1 L739.7,866.1 L738.0,869.1 L736.3,868.8 L734.6,868.2 L732.9,868.7 L731.2,869.8 L729.5,869.4 L727.7,872.3 L726.0,872.8 L724.3,874.6 L722.6,875.6 L720.9,876.2 L719.2,876.7 L717.4,876.7 L715.7,877.5 L714.0,880.0 L712.3,880.6 L710.5,882.9 L708.8,882.1 L707.1,884.7 L705.4,885.5 L703.6,888.4 L701.9,888.3 L700.2,888.9 L698.4,889.2 L696.7,890.9 L695.0,891.8 L693.3,893.0 L691.5,891.8 L689.8,894.7 L688.1,895.9 L686.3,899.1 L684.6,906.8 L682.9,904.2 L681.2,898.4 L679.4,900.1 L677.7,901.2 L676.0,902.6 L674.3,903.0 L672.6,904.7 L670.9,905.9 L669.1,912.4 L667.4,909.2 L665.7,907.4 L664.0,910.1 L662.3,910.7 L660.6,913.3 L658.9,913.5 L657.2,912.7 L655.5,915.6 L653.8,914.6 L652.1,915.7 L650.4,916.5 L648.7,917.6 L647.0,921.4 L645.3,922.9 L643.6,922.2 L641.9,923.1 L640.2,923.6 L638.5,926.2 L636.8,928.9 L635.1,929.2 L633.4,927.3 L631.7,928.9 L630.0,930.8 L628.3,932.3 L626.6,932.4 L624.9,934.0 L623.2,934.7 L621.5,936.8 L619.8,938.1 L618.2,937.0 L616.5,938.1 L614.8,940.0 L613.1,946.4 L611.4,945.2 L609.7,944.2 L608.0,944.1 L606.3,945.8 L604.7,947.7 L603.0,947.3 L601.3,947.4 L599.6,948.5 L597.9,950.2 L596.2,952.3 L594.5,953.1 L592.9,955.1 L591.2,960.5 L589.5,958.2 L587.8,955.9 L586.1,960.3 L584.4,963.0 L582.7,963.6 L581.0,962.4 L579.4,963.7 L577.7,962.7 L576.0,965.4 L574.3,967.2 L572.6,967.2 L570.9,968.7 L569.2,969.2 L567.5,970.2 L565.9,973.4 L564.2,972.2 L562.5,974.6 L560.8,973.9 L559.1,975.8 L557.4,977.2 L555.7,977.8 L554.0,979.7 L552.3,979.7 L550.6,980.3 L548.9,982.6 L547.2,988.2 L545.5,986.7 L543.8,985.9 L542.1,986.3 L540.4,986.7 L538.7,988.8 L537.0,990.3 L535.3,990.6 L533.6,990.7 L531.9,993.6 L530.2,992.2 L528.5,993.8 L526.8,995.9 L525.1,995.5 L523.4,996.7 L521.7,998.2 L520.0,999.8 L518.4,1004.6 L516.7,1003.0 L515.0,1001.9 L513.3,1005.5 L511.6,1004.0 L509.9,1006.2 L508.3,1007.8 L506.6,1009.3 L504.9,1010.1 L503.3,1013.5 L501.6,1014.2 L499.9,1013.1 L498.3,1014.7 L496.7,1015.4 L495.0,1017.5 L493.4,1017.5 L491.8,1022.1 L490.1,1020.8 L488.5,1021.9 L486.9,1022.7 L485.3,1022.8 L483.7,1027.6 L482.1,1031.2 L480.6,1034.3 L479.0,1029.3 L477.4,1030.8 L475.9,1031.4 L474.3,1031.7 L472.8,1032.7 L471.2,1035.2 L469.7,1037.9 L468.2,1037.4 L466.7,1040.2 L465.2,1040.6 L463.8,1042.3 L462.3,1043.5 L460.8,1045.9 L459.4,1050.4 L457.9,1049.5 L456.4,1050.1 L454.9,1051.0 L453.4,1050.7 L451.9,1053.4 L450.4,1054.7 L448.8,1054.3 L447.3,1057.8 L445.8,1058.0 L444.3,1060.1 L442.9,1060.7 L441.6,1062.5 L440.3,1065.1 L439.0,1067.3 L437.7,1068.7 L436.4,1073.5 L435.2,1073.9 L433.9,1071.9 L432.7,1074.8 L431.5,1076.5 L430.4,1077.9 L429.3,1079.3 L428.2,1083.1 L427.1,1083.1 L426.1,1085.9 L425.1,1087.2 L424.2,1089.1 L423.3,1090.9 L422.4,1093.1 L421.6,1095.7 L420.8,1097.7 L420.0,1099.9 L419.2,1101.9 L418.5,1103.9 L417.7,1105.9 L417.0,1108.0 L416.3,1109.8 L415.5,1111.7 L414.8,1113.5 L414.1,1115.3 Z" fill="#00f" stroke="none"/>
<path d="M1691.1,1250.0 L1691.1,1272.8 L1694.6,1273.2 L1696.8,1274.6 L1697.9,1274.2 L1698.3,1279.0 L1701.2,1276.0 L1704.1,1278.6 L1704.4,1272.8 L1713.2,1272.8 L1713.2,1264.0 L1709.2,1264.0 L1707.7,1262.2 L1704.8,1263.7 L1699.9,1254.9 L1699.9,1250.0 Z" fill="#00f"/>
<path d="M394.7,1240.5 L395.0,1238.5 L395.3,1236.5 L395.6,1234.6 L395.9,1232.6 L396.2,1230.6 L396.6,1228.6 L396.9,1226.7 L397.2,1224.7 L397.5,1222.7 L397.8,1220.7 L398.1,1218.8 L398.4,1216.8 L398.7,1214.8 L399.0,1212.8 L399.3,1210.9 L399.6,1208.9 L399.9,1206.9 L400.2,1204.9 L400.6,1203.0 L400.9,1201.0 L401.2,1199.0 L401.5,1197.0 L401.8,1195.1 L402.2,1193.1 L402.5,1191.1 L402.9,1189.1 L403.2,1187.2 L403.6,1185.2 L403.9,1183.2 L404.3,1181.3 L404.7,1179.3 L405.0,1177.3 L405.4,1175.4 L405.8,1173.4 L406.2,1171.5 L406.6,1169.5 L407.0,1167.5 L407.4,1165.6 L407.9,1163.6 L408.3,1161.7 L408.8,1159.7 L409.3,1157.8 L409.8,1155.9 L410.2,1153.9 L410.7,1152.0 L411.1,1150.0 L411.5,1148.1 L411.9,1146.1 L412.3,1144.1 L412.6,1142.2 L412.9,1140.2 L413.2,1138.2 L413.4,1136.2 L413.7,1134.2 L414.0,1132.2 L414.3,1130.2 L414.6,1128.3 L415.0,1126.4 L415.5,1124.4 L416.0,1122.5 L416.6,1120.6 L417.2,1118.7 L417.9,1116.8 L418.6,1114.9 L419.4,1113.1 L420.1,1111.2 L420.8,1109.3 L421.6,1107.5 L422.3,1105.6 L423.1,1103.7 L423.8,1101.8 L424.5,1100.0 L425.2,1098.1 L425.8,1096.2 L426.5,1094.3 L427.3,1092.4 L428.0,1090.6 L428.7,1088.7 L429.4,1086.8 L430.2,1085.0 L431.0,1083.2 L431.8,1081.3 L432.6,1079.5 L433.5,1077.7 L434.4,1075.9 L435.3,1074.2 L436.2,1072.4 L437.2,1070.6 L438.1,1068.9 L439.1,1067.2 L440.2,1065.4 L441.2,1063.7 L442.3,1062.0 L443.3,1060.3 L444.4,1058.6 L445.5,1056.9 L446.6,1055.3 L447.8,1053.6 L448.9,1052.0 L450.1,1050.4 L451.3,1048.8 L452.6,1047.3 L453.8,1045.7 L455.1,1044.2 L456.4,1042.6 L457.7,1041.1 L459.0,1039.6 L460.3,1038.0 L461.6,1036.5 L462.9,1035.0 L464.2,1033.5 L465.6,1032.0 L466.9,1030.5 L468.3,1029.1 L469.6,1027.6 L471.0,1026.2 L472.4,1024.8 L473.8,1023.4 L475.3,1022.0 L476.7,1020.6 L478.2,1019.2 L479.7,1017.9 L481.1,1016.5 L482.6,1015.2 L484.1,1013.9 L485.6,1012.5 L487.2,1011.3 L488.7,1010.0 L490.2,1008.7 L491.8,1007.4 L493.4,1006.2 L494.9,1005.0 L496.5,1003.7 L498.1,1002.5 L499.7,1001.3 L501.3,1000.1 L502.9,998.9 L504.5,997.7 L506.1,996.6 L507.8,995.4 L509.4,994.2 L511.0,993.1 L512.7,991.9 L514.3,990.8 L515.9,989.6 L517.6,988.4 L519.2,987.3 L520.8,986.2 L522.5,985.0 L524.1,983.9 L525.8,982.7 L527.4,981.6 L529.1,980.5 L530.7,979.3 L532.3,978.2 L534.0,977.0 L535.6,975.9 L537.3,974.8 L538.9,973.6 L540.6,972.5 L542.2,971.4 L543.9,970.3 L545.5,969.1 L547.2,968.0 L548.8,966.9 L550.5,965.7 L552.1,964.6 L553.8,963.5 L555.5,962.4 L557.1,961.3 L558.8,960.1 L560.4,959.0 L562.1,957.9 L563.7,956.8 L565.4,955.7 L567.1,954.6 L568.7,953.4 L570.4,952.3 L572.0,951.2 L573.7,950.1 L575.4,949.0 L577.0,947.9 L578.7,946.8 L580.4,945.7 L582.0,944.6 L583.7,943.5 L585.4,942.4 L587.0,941.3 L588.7,940.2 L590.4,939.1 L592.1,938.0 L593.7,936.9 L595.4,935.8 L597.1,934.7 L598.7,933.6 L600.4,932.5 L602.1,931.4 L603.8,930.3 L605.4,929.2 L607.1,928.1 L608.8,927.0 L610.5,925.9 L612.1,924.8 L613.8,923.7 L615.5,922.6 L617.2,921.6 L618.9,920.5 L620.5,919.4 L622.2,918.3 L623.9,917.2 L625.6,916.1 L627.3,915.0 L628.9,914.0 L630.6,912.9 L632.3,911.8 L634.0,910.7 L635.7,909.6 L637.4,908.6 L639.0,907.5 L640.7,906.4 L642.4,905.3 L644.1,904.3 L645.8,903.2 L647.5,902.1 L649.2,901.0 L650.9,900.0 L652.5,898.9 L654.2,897.8 L655.9,896.8 L657.6,895.7 L659.3,894.6 L661.0,893.6 L662.7,892.5 L664.4,891.4 L666.1,890.3 L667.8,889.3 L669.4,888.2 L671.1,887.2 L672.8,886.1 L674.5,885.0 L676.2,884.0 L677.9,882.9 L679.6,881.8 L681.3,880.8 L683.0,879.7 L684.7,878.6 L686.4,877.6 L688.1,876.5 L689.8,875.4 L691.5,874.4 L693.2,873.3 L694.8,872.3 L696.5,871.2 L698.2,870.1 L699.9,869.1 L701.6,868.0 L703.3,866.9 L705.0,865.9 L706.7,864.8 L708.4,863.7 L710.1,862.7 L711.8,861.6 L713.5,860.5 L715.1,859.5 L716.8,858.4 L718.5,857.3 L720.2,856.2 L721.9,855.2 L723.6,854.1 L725.3,853.0 L727.0,851.9 L728.6,850.9 L730.3,849.8 L732.0,848.7 L733.7,847.6 L735.4,846.6 L737.1,845.5 L738.7,844.4 L740.4,843.3 L742.1,842.2 L743.8,841.1 L745.5,840.0 L747.1,838.9 L748.8,837.9 L750.5,836.8 L752.2,835.7 L753.8,834.6 L755.5,833.5 L757.2,832.4 L758.9,831.3 L760.5,830.2 L762.2,829.1 L763.9,828.0 L765.5,826.9 L767.2,825.7 L768.8,824.6 L770.5,823.5 L772.2,822.4 L773.8,821.3 L775.5,820.2 L777.1,819.1 L778.8,817.9 L780.5,816.8 L782.1,815.7 L783.8,814.5 L785.4,813.4 L787.1,812.3 L788.7,811.1 L790.3,810.0 L792.0,808.9 L793.6,807.7 L795.3,806.6 L796.9,805.4 L798.6,804.3 L800.2,803.1 L801.8,802.0 L803.5,800.8 L805.1,799.7 L806.7,798.5 L808.4,797.4 L810.0,796.2 L811.6,795.1 L813.3,793.9 L814.9,792.8 L816.5,791.6 L818.1,790.4 L819.8,789.3 L821.4,788.1 L823.0,786.9 L824.6,785.8 L826.3,784.6 L827.9,783.4 L829.5,782.2 L831.1,781.1 L832.7,779.9 L834.4,778.7 L836.0,777.5 L837.6,776.4 L839.2,775.2 L840.8,774.0 L842.4,772.8 L844.1,771.7 L845.7,770.5 L847.3,769.3 L848.9,768.1 L850.5,766.9 L852.1,765.7 L853.7,764.6 L855.3,763.4 L857.0,762.2 L858.6,761.0 L860.2,759.8 L861.8,758.6 L863.4,757.4 L865.0,756.3 L866.6,755.1 L868.2,753.9 L869.8,752.7 L871.4,751.5 L873.0,750.3 L874.7,749.1 L876.3,747.9 L877.9,746.7 L879.5,745.6 L881.1,744.4 L882.7,743.2 L884.3,742.0 L885.9,740.8 L887.5,739.6 L889.1,738.4 L890.7,737.2 L892.3,736.0 L893.9,734.8 L895.5,733.7 L897.2,732.5 L898.8,731.3 L900.4,730.1 L902.0,728.9 L903.6,727.7 L905.2,726.5 L906.8,725.3 L908.4,724.1 L910.0,723.0 L911.6,721.8 L913.2,720.6 L914.9,719.4 L916.5,718.2 L918.1,717.0 L919.7,715.8 L921.3,714.7 L922.9,713.5 L924.5,712.3 L926.1,711.1 L927.7,709.9 L929.4,708.7 L931.0,707.6 L932.6,706.4 L934.2,705.2 L935.8,704.0 L937.4,702.9 L939.1,701.7 L940.7,700.5 L942.3,699.3 L943.9,698.2 L945.5,697.0 L947.2,695.8 L948.8,694.6 L950.4,693.5 L952.0,692.3 L953.7,691.1 L955.3,690.0 L956.9,688.8 L958.5,687.7 L960.2,686.5 L961.8,685.3 L963.4,684.2 L965.1,683.0 L966.7,681.9 L968.3,680.7 L969.9,679.5 L971.6,678.4 L973.2,677.2 L974.9,676.1 L976.5,674.9 L978.1,673.8 L979.8,672.6 L981.4,671.5 L983.0,670.3 L984.7,669.2 L986.3,668.0 L988.0,666.9 L989.6,665.8 L991.2,664.6 L992.9,663.5 L994.5,662.3 L996.2,661.2 L997.8,660.0 L999.4,658.9 L1001.1,657.8 L1002.7,656.6 L1004.4,655.5 L1006.0,654.4 L1007.7,653.2 L1009.3,652.1 L1011.0,651.0 L1012.6,649.8 L1014.3,648.7 L1015.9,647.6 L1017.6,646.4 L1019.2,645.3 L1020.9,644.2 L1022.5,643.1 L1024.2,641.9 L1025.8,640.8 L1027.5,639.7 L1029.1,638.6 L1030.8,637.4 L1032.5,636.3 L1034.1,635.2 L1035.8,634.1 L1037.4,632.9 L1039.1,631.8 L1040.7,630.7 L1042.4,629.6 L1044.1,628.5 L1045.7,627.3 L1047.4,626.2 L1049.0,625.1 L1050.7,624.0 L1052.3,622.9 L1054.0,621.8 L1055.7,620.7 L1057.3,619.5 L1059.0,618.4 L1060.7,617.3 L1062.3,616.2 L1064.0,615.1 L1065.6,614.0 L1067.3,612.9 L1069.0,611.8 L1070.6,610.6 L1072.3,609.5 L1074.0,608.4 L1075.6,607.3 L1077.3,606.2 L1079.0,605.1 L1080.6,604.0 L1082.3,602.9 L1084.0,601.8 L1085.6,600.7 L1087.3,599.6 L1089.0,598.5 L1090.6,597.4 L1092.3,596.3 L1094.0,595.2 L1095.6,594.1 L1097.3,592.9 L1099.0,591.8 L1100.6,590.7 L1102.3,589.6 L1104.0,588.5 L1105.6,587.4 L1107.3,586.3 L1109.0,585.2 L1110.6,584.1 L1112.3,583.0 L1114.0,581.9 L1115.6,580.8 L1117.3,579.7 L1119.0,578.6 L1120.7,577.5 L1122.3,576.4 L1124.0,575.3 L1125.7,574.2 L1127.3,573.1 L1129.0,572.0 L1130.7,570.9 L1132.3,569.8 L1134.0,568.7 L1135.7,567.6 L1137.4,566.5 L1139.0,565.4 L1140.7,564.3 L1142.4,563.2 L1144.0,562.1 L1145.7,561.0 L1147.4,559.9 L1149.0,558.8 L1150.7,557.7 L1152.4,556.6 L1154.1,555.5 L1155.7,554.4 L1157.4,553.3 L1159.1,552.2 L1160.7,551.1 L1162.4,550.0 L1164.1,548.9 L1165.7,547.8 L1167.4,546.7 L1169.1,545.6 L1170.8,544.5 L1172.4,543.4 L1174.1,542.3 L1175.8,541.2 L1177.4,540.1 L1179.1,539.0 L1180.8,537.9 L1182.4,536.8 L1184.1,535.7 L1185.8,534.6 L1187.4,533.5 L1189.1,532.4 L1190.8,531.3 L1192.4,530.2 L1194.1,529.1 L1195.8,527.9 L1197.4,526.8 L1199.1,525.7 L1200.8,524.6 L1202.4,523.5 L1204.1,522.4 L1205.8,521.3 L1207.4,520.2 L1209.1,519.1 L1210.8,518.0 L1212.4,516.9 L1214.1,515.8 L1215.7,514.6 L1217.4,513.5 L1219.1,512.4 L1220.7,511.3 L1222.4,510.2 L1224.1,509.1 L1225.7,508.0 L1227.4,506.9 L1229.0,505.7 L1230.7,504.6 L1232.4,503.5 L1234.0,502.4 L1235.7,501.3 L1237.3,500.2 L1239.0,499.0 L1240.7,497.9 L1242.3,496.8 L1244.0,495.7 L1245.6,494.6 L1247.3,493.4 L1248.9,492.3 L1250.6,491.2 L1252.2,490.1 L1253.9,488.9 L1255.6,487.8 L1257.2,486.7 L1258.9,485.6 L1260.5,484.4 L1262.2,483.3 L1263.8,482.2 L1265.5,481.0 L1267.1,479.9 L1268.8,478.8 L1270.4,477.7 L1272.1,476.5 L1273.7,475.4 L1275.4,474.3 L1277.0,473.1 L1278.6,472.0 L1280.3,470.8 L1281.9,469.7 L1283.6,468.6 L1285.2,467.4 L1286.9,466.3 L1288.5,465.2 L1290.2,464.0 L1291.8,462.9 L1293.4,461.7 L1295.1,460.6 L1296.7,459.4 L1298.4,458.3 L1300.0,457.2 L1301.6,456.0 L1303.3,454.9 L1304.9,453.7 L1306.6,452.6 L1308.2,451.4 L1309.8,450.3 L1311.5,449.1 L1313.1,448.0 L1314.7,446.8 L1316.4,445.7 L1318.0,444.5 L1319.6,443.3 L1321.3,442.2 L1322.9,441.0 L1324.5,439.9 L1326.2,438.7 L1327.8,437.6 L1329.4,436.4 L1331.0,435.2 L1332.7,434.1 L1334.3,432.9 L1335.9,431.7 L1337.5,430.6 L1339.2,429.4 L1340.8,428.2 L1342.4,427.1 L1344.0,425.9 L1345.7,424.7 L1347.3,423.6 L1348.9,422.4 L1350.5,421.2 L1352.2,420.1 L1353.8,418.9 L1355.4,417.7 L1357.0,416.5 L1358.6,415.4 L1360.2,414.2 L1361.9,413.0 L1363.5,411.8 L1365.1,410.7 L1366.7,409.5 L1368.3,408.3 L1369.9,407.1 L1371.6,405.9 L1373.2,404.7 L1374.8,403.6 L1376.4,402.4 L1378.0,401.2 L1379.6,400.0 L1381.2,398.8 L1382.8,397.6 L1384.4,396.4 L1386.0,395.2 L1387.6,394.0 L1389.2,392.9 L1390.9,391.7 L1392.5,390.5 L1394.1,389.3 L1395.7,388.1 L1397.3,386.9 L1398.9,385.7 L1400.5,384.5 L1402.1,383.3 L1403.7,382.1 L1405.3,380.9 L1406.9,379.7 L1408.5,378.5 L1410.1,377.3 L1411.7,376.1 L1413.2,374.9 L1414.8,373.6 L1416.4,372.4 L1418.0,371.2 L1419.6,370.0 L1421.2,368.8 L1422.8,367.6 L1424.4,366.4 L1426.0,365.2 L1427.6,364.0 L1429.2,362.7 L1430.7,361.5 L1432.3,360.3 L1433.9,359.1 L1435.5,357.9 L1437.1,356.6 L1438.7,355.4 L1440.3,354.2 L1441.8,353.0 L1443.4,351.8 L1445.0,350.5 L1446.6,349.3 L1448.2,348.1 L1449.7,346.8 L1451.3,345.6 L1452.9,344.4 L1454.5,343.2 L1456.0,341.9 L1457.6,340.7 L1459.2,339.5 L1460.8,338.2 L1462.3,337.0 L1463.9,335.7 L1465.5,334.5 L1467.1,333.3 L1468.6,332.0 L1470.2,330.8 L1471.8,329.5 L1473.3,328.3 L1474.9,327.1 L1476.5,325.8 L1478.0,324.6 L1479.6,323.3 L1481.1,322.1 L1482.7,320.8 L1484.3,319.6 L1485.8,318.3 L1487.4,317.1 L1489.0,315.8 L1490.5,314.6 L1492.1,313.3 L1493.6,312.1 L1495.2,310.8 L1496.7,309.5 L1498.3,308.3 L1499.8,307.0 L1501.4,305.8 L1502.9,304.5 L1504.5,303.2 L1506.0,302.0 L1507.6,300.7 L1509.1,299.5 L1510.7,298.2 L1512.2,296.9 L1513.8,295.7 L1515.3,294.4 L1516.9,293.1 L1518.4,291.8 L1520.0,290.6 L1521.5,289.3 L1523.1,288.0 L1524.6,286.8 L1526.2,285.5 L1527.7,284.3 L1529.3,283.0 L1530.9,281.7 L1532.4,280.4 L1533.9,279.1 L1535.4,277.8 L1536.8,276.5 L1538.3,275.1 L1539.7,273.7 L1541.1,272.3 L1542.5,270.8 L1543.8,269.4 L1545.2,267.9 L1546.6,266.4 L1547.9,265.0 L1549.2,263.5 L1550.6,262.0 L1551.9,260.4 L1553.2,258.9 L1554.5,257.4 L1555.9,255.9 L1557.2,254.4 L1558.5,252.9 L1559.8,251.4 L1561.1,249.9 L1562.4,248.4 L1563.7,246.9 L1565.0,245.3 L1566.3,243.8 L1567.6,242.2 L1568.9,240.7 L1570.1,239.1 L1571.4,237.5 L1572.6,236.0 L1573.9,234.4 L1575.2,232.9 L1576.5,231.3 L1577.8,229.8 L1579.1,228.3 L1580.4,226.9 L1581.8,225.4 L1583.2,224.0 L1584.6,222.6 L1586.0,221.2 L1587.5,219.8 L1589.0,218.4 L1590.5,217.1 L1592.0,215.7 L1593.6,214.4 L1595.1,213.2 L1596.7,212.0 L1598.3,210.9 L1600.0,209.8 L1601.7,208.8 L1603.4,207.8 L1605.1,206.9 L1606.9,206.0 L1608.8,205.2 L1610.6,204.4 L1612.5,203.6 L1614.4,202.9 L1616.3,202.2 L1616.4,202.2 L1620.5,203.5 L1622.0,208.0 L1622.3,1262.0" fill="none" stroke="#f0f" stroke-width="8.7" stroke-linejoin="round" stroke-linecap="butt"/>
<path d="M428.7,1076.9 L429.4,1075.2 L430.2,1073.5 L431.0,1072.0 L431.8,1070.4 L432.6,1069.1 L433.5,1067.1 L434.4,1065.9 L435.3,1064.5 L436.2,1062.8 L437.2,1060.9 L438.1,1059.9 L439.1,1057.5 L440.2,1055.7 L441.2,1055.2 L442.3,1052.9 L443.3,1052.3 L444.4,1049.5 L445.5,1047.8 L446.6,1045.3 L447.8,1045.2 L448.9,1042.5 L450.1,1041.4 L451.3,1039.6 L452.6,1038.4 L453.8,1035.2 L455.1,1034.9 L456.4,1035.5 L457.7,1031.6 L459.0,1030.0 L460.3,1029.5 L461.6,1027.4 L462.9,1027.1 L464.2,1026.8 L465.6,1023.7 L466.9,1019.3 L468.3,1020.5 L469.6,1019.7 L471.0,1018.9 L472.4,1016.9 L473.8,1015.4 L475.3,1012.4 L476.7,1011.2 L478.2,1010.9 L479.7,1010.5 L481.1,1009.4 L482.6,1007.5 L484.1,1007.5 L485.6,1005.4 L487.2,1003.9 L488.7,1001.9 L490.2,1002.2 L491.8,1000.2 L493.4,1000.2 L494.9,993.0 L496.5,982.9 L498.1,983.9 L499.7,989.4 L501.3,985.8 L502.9,990.8 L504.5,989.9 L506.1,990.2 L507.8,989.2 L509.4,987.4 L511.0,985.5 L512.7,984.3 L514.3,983.9 L515.9,984.1 L517.6,981.6 L519.2,981.4 L520.8,978.9 L522.5,977.3 L524.1,977.2 L525.8,975.9 L527.4,976.2 L529.1,973.8 L530.7,973.8 L532.3,971.3 L534.0,970.8 L535.6,968.6 L537.3,969.5 L538.9,968.2 L540.6,965.4 L542.2,964.8 L543.9,963.5 L545.5,961.6 L547.2,961.5 L548.8,959.4 L550.5,959.2 L552.1,956.9 L553.8,956.5 L555.5,956.8 L557.1,955.1 L558.8,952.6 L560.4,952.9 L562.1,952.2 L563.7,950.3 L565.4,949.4 L567.1,947.7 L568.7,947.1 L570.4,946.5 L572.0,944.9 L573.7,943.8 L575.4,941.3 L577.0,940.0 L578.7,939.9 L580.4,940.3 L582.0,937.4 L583.7,936.4 L585.4,934.9 L587.0,935.2 L588.7,934.9 L590.4,932.2 L592.1,932.5 L593.7,928.4 L595.4,925.6 L597.1,927.7 L598.7,925.8 L600.4,926.9 L602.1,923.6 L603.8,922.3 L605.4,918.4 L607.1,920.0 L608.8,919.2 L610.5,918.1 L612.1,919.6 L613.8,918.6 L615.5,916.0 L617.2,916.4 L618.9,913.5 L620.5,912.8 L622.2,911.4 L623.9,910.9 L625.6,910.3 L627.3,907.3 L628.9,906.9 L630.6,907.8 L632.3,906.3 L634.0,903.5 L635.7,896.7 L637.4,886.9 L639.0,896.4 L640.7,900.4 L642.4,897.7 L644.1,897.2 L645.8,896.6 L647.5,896.6 L649.2,894.8 L650.9,892.8 L652.5,891.1 L654.2,892.6 L655.9,891.3 L657.6,888.6 L659.3,887.2 L661.0,888.3 L662.7,885.1 L664.4,884.2 L666.1,883.4 L667.8,883.3 L669.4,881.9 L671.1,881.1 L672.8,878.7 L674.5,879.1 L676.2,878.0 L677.9,875.2 L679.6,874.2 L681.3,873.0 L683.0,872.4 L684.7,867.6 L686.4,859.5 L688.1,862.9 L689.8,859.5 L691.5,864.7 L693.2,864.5 L694.8,860.2 L696.5,864.6 L698.2,864.5 L699.9,863.1 L701.6,862.2 L703.3,861.0 L705.0,860.3 L706.7,858.2 L708.4,858.5 L710.1,856.1 L711.8,853.9 L713.5,854.2 L715.1,852.7 L716.8,851.6 L718.5,849.6 L720.2,849.1 L721.9,847.8 L723.6,848.1 L725.3,845.4 L727.0,846.4 L728.6,844.7 L730.3,842.7 L732.0,842.7 L733.7,840.1 L735.4,839.1 L737.1,839.9 L738.7,838.7 L740.4,838.1 L742.1,834.7 L743.8,835.1 L745.5,833.9 L747.1,833.1 L748.8,832.4 L750.5,830.4 L752.2,829.9 L753.8,827.9 L755.5,825.7 L757.2,819.7 L758.9,819.3 L760.5,823.3 L762.2,821.3 L763.9,822.6 L765.5,820.0 L767.2,818.9 L768.8,813.6 L770.5,808.6 L772.2,814.0 L773.8,814.0 L775.5,812.3 L777.1,811.8 L778.8,810.1 L780.5,809.0 L782.1,806.0 L783.8,800.5 L785.4,806.0 L787.1,805.8 L788.7,803.5 L790.3,803.2 L792.0,802.9 L793.6,802.2 L795.3,800.7 L796.9,799.9 L798.6,798.4 L800.2,796.9 L801.8,796.7 L803.5,793.3 L805.1,793.3 L806.7,791.7 L808.4,790.4 L810.0,790.6 L811.6,789.6 L813.3,788.2 L814.9,784.7 L816.5,786.0 L818.1,784.0 L819.8,781.6 L821.4,781.2 L823.0,781.6 L824.6,778.0 L826.3,778.2 L827.9,777.7 L829.5,776.0 L831.1,774.1 L832.7,774.5 L834.4,771.6 L836.0,770.6 L837.6,770.4 L839.2,768.1 L840.8,766.9 L842.4,767.2 L844.1,764.7 L845.7,763.9 L847.3,761.6 L848.9,762.3 L850.5,760.4 L852.1,758.6 L853.7,759.1 L855.3,757.1 L857.0,755.0 L858.6,754.1 L860.2,751.6 L861.8,751.2 L863.4,751.0 L865.0,748.5 L866.6,747.4 L868.2,744.4 L869.8,742.2 L871.4,744.7 L873.0,743.2 L874.7,742.6 L876.3,741.2 L877.9,739.6 L879.5,737.6 L881.1,736.8 L882.7,737.5 L884.3,734.1 L885.9,733.6 L887.5,730.8 L889.1,725.2 L890.7,729.1 L892.3,729.1 L893.9,727.9 L895.5,727.9 L897.2,726.1 L898.8,724.7 L900.4,724.6 L902.0,721.6 L903.6,721.5 L905.2,719.9 L906.8,717.4 L908.4,716.4 L910.0,716.9 L911.6,713.1 L913.2,708.6 L914.9,712.5 L916.5,710.7 L918.1,710.8 L919.7,706.1 L921.3,698.3 L922.9,704.5 L924.5,706.9 L926.1,704.2 L927.7,702.5 L929.4,703.4 L931.0,700.4 L932.6,700.4 L934.2,698.7 L935.8,697.4 L937.4,693.6 L939.1,693.1 L940.7,694.4 L942.3,692.3 L943.9,687.0 L945.5,688.2 L947.2,689.2 L948.8,686.8 L950.4,685.7 L952.0,685.0 L953.7,683.6 L955.3,684.3 L956.9,681.2 L958.5,681.2 L960.2,680.4 L961.8,678.5 L963.4,676.5 L965.1,676.5 L966.7,676.4 L968.3,674.7 L969.9,673.5 L971.6,671.2 L973.2,669.3 L974.9,669.3 L976.5,668.2 L978.1,664.8 L979.8,666.5 L981.4,666.1 L983.0,663.3 L984.7,662.9 L986.3,661.6 L988.0,661.5 L989.6,659.2 L991.2,657.7 L992.9,651.6 L994.5,648.3 L996.2,652.4 L997.8,653.5 L999.4,652.0 L1001.1,650.2 L1002.7,650.1 L1004.4,648.7 L1006.0,647.8 L1007.7,645.8 L1009.3,644.4 L1011.0,644.9 L1012.6,642.6 L1014.3,641.7 L1015.9,641.4 L1017.6,639.0 L1019.2,637.0 L1020.9,635.0 L1022.5,635.6 L1024.2,634.1 L1025.8,633.8 L1027.5,632.7 L1029.1,632.3 L1030.8,630.1 L1032.5,628.7 L1034.1,628.0 L1035.8,625.3 L1037.4,625.2 L1039.1,625.9 L1040.7,625.3 L1042.4,623.6 L1044.1,621.4 L1045.7,620.8 L1047.4,619.5 L1049.0,618.2 L1050.7,617.4 L1052.3,615.1 L1054.0,614.4 L1055.7,607.4 L1057.3,600.5 L1059.0,608.1 L1060.7,610.1 L1062.3,608.4 L1064.0,609.0 L1065.6,607.9 L1067.3,607.7 L1069.0,606.4 L1070.6,602.8 L1072.3,603.1 L1074.0,603.0 L1075.6,601.9 L1077.3,599.6 L1079.0,598.2 L1080.6,596.5 L1082.3,596.2 L1084.0,595.7 L1085.6,593.6 L1087.3,593.9 L1089.0,592.4 L1090.6,591.9 L1092.3,586.8 L1094.0,583.2 L1095.6,585.3 L1097.3,584.9 L1099.0,583.8 L1100.6,583.6 L1102.3,580.0 L1104.0,582.2 L1105.6,580.5 L1107.3,579.2 L1109.0,579.6 L1110.6,578.5 L1112.3,575.8 L1114.0,576.6 L1115.6,574.4 L1117.3,574.4 L1119.0,570.8 L1120.7,570.1 L1122.3,569.5 L1124.0,565.3 L1125.7,566.4 L1127.3,567.7 L1129.0,566.2 L1130.7,564.0 L1132.3,562.7 L1134.0,562.6 L1135.7,562.1 L1137.4,560.0 L1139.0,558.2 L1140.7,554.2 L1142.4,549.7 L1144.0,554.2 L1145.7,553.8 L1147.4,553.5 L1149.0,551.6 L1150.7,552.1 L1152.4,549.6 L1154.1,548.2 L1155.7,546.8 L1157.4,547.4 L1159.1,544.5 L1160.7,544.4 L1162.4,544.1 L1164.1,543.7 L1165.7,540.8 L1167.4,538.9 L1169.1,538.9 L1170.8,538.5 L1172.4,537.4 L1174.1,535.8 L1175.8,533.3 L1177.4,532.7 L1179.1,530.4 L1180.8,530.8 L1182.4,531.0 L1184.1,529.7 L1185.8,527.2 L1187.4,522.2 L1189.1,518.1 L1190.8,522.8 L1192.4,522.5 L1194.1,521.9 L1195.8,521.5 L1197.4,519.0 L1199.1,518.1 L1200.8,518.2 L1202.4,517.3 L1204.1,513.8 L1205.8,512.3 L1207.4,510.9 L1209.1,511.1 L1210.8,512.8 L1212.4,510.0 L1214.1,508.4 L1215.7,508.7 L1217.4,508.0 L1219.1,504.8 L1220.7,504.0 L1222.4,504.1 L1224.1,501.4 L1225.7,500.2 L1227.4,500.3 L1229.0,496.9 L1230.7,492.6 L1232.4,493.4 L1234.0,493.1 L1235.7,489.6 L1237.3,490.8 L1239.0,486.0 L1240.7,488.6 L1242.3,489.1 L1244.0,488.3 L1245.6,486.9 L1247.3,487.0 L1248.9,483.7 L1250.6,478.6 L1252.2,481.8 L1253.9,483.7 L1255.6,481.9 L1257.2,479.9 L1258.9,480.2 L1260.5,479.1 L1262.2,477.1 L1263.8,476.7 L1265.5,474.7 L1267.1,472.9 L1268.8,472.3 L1270.4,472.4 L1272.1,468.7 L1273.7,469.5 L1275.4,469.1 L1277.0,466.7 L1278.6,464.4 L1280.3,463.0 L1281.9,464.2 L1283.6,463.2 L1285.2,459.9 L1286.9,458.7 L1288.5,457.4 L1290.2,454.1 L1291.8,449.7 L1293.4,452.8 L1295.1,455.3 L1296.7,453.7 L1298.4,453.0 L1300.0,451.9 L1301.6,448.1 L1303.3,446.8 L1304.9,446.9 L1306.6,446.9 L1308.2,445.8 L1309.8,442.5 L1311.5,441.3 L1313.1,441.1 L1314.7,439.6 L1316.4,438.7 L1318.0,437.3 L1319.6,435.4 L1321.3,435.7 L1322.9,435.6 L1324.5,434.4 L1326.2,431.6 L1327.8,432.1 L1329.4,430.8 L1331.0,427.5 L1332.7,426.2 L1334.3,427.3 L1335.9,425.9 L1337.5,422.5 L1339.2,421.4 L1340.8,421.2 L1342.4,420.5 L1344.0,418.4 L1345.7,418.1 L1347.3,415.6 L1348.9,415.0 L1350.5,414.2 L1352.2,414.5 L1353.8,411.6 L1355.4,412.1 L1357.0,410.9 L1358.6,407.7 L1360.2,407.3 L1361.9,405.8 L1363.5,403.9 L1365.1,402.8 L1366.7,401.5 L1368.3,402.8 L1369.9,401.7 L1371.6,398.5 L1373.2,392.5 L1374.8,395.7 L1376.4,396.0 L1378.0,394.2 L1379.6,394.4 L1381.2,392.4 L1382.8,391.5 L1384.4,389.2 L1386.0,389.5 L1387.6,386.0 L1389.2,387.4 L1390.9,386.1 L1392.5,381.5 L1394.1,374.1 L1395.7,377.9 L1397.3,374.3 L1398.9,377.1 L1400.5,378.1 L1402.1,377.1 L1403.7,372.8 L1405.3,371.2 L1406.9,371.7 L1408.5,368.5 L1410.1,370.1 L1411.7,370.5 L1413.2,369.3 L1414.8,366.9 L1416.4,364.4 L1418.0,363.9 L1419.6,364.2 L1421.2,362.4 L1422.8,360.3 L1424.4,358.8 L1426.0,354.8 L1427.6,357.3 L1429.2,356.0 L1430.7,354.6 L1432.3,352.5 L1433.9,353.6 L1435.5,352.1 L1437.1,350.2 L1438.7,348.2 L1440.3,347.8 L1441.8,344.8 L1443.4,345.4 L1445.0,342.6 L1446.6,340.2 L1448.2,339.8 L1449.7,340.5 L1451.3,337.8 L1452.9,338.9 L1454.5,337.4 L1456.0,336.0 L1457.6,335.2 L1459.2,332.2 L1460.8,332.7 L1462.3,326.6 L1463.9,319.5 L1465.5,324.9 L1467.1,327.5 L1468.6,325.1 L1470.2,323.4 L1471.8,324.0 L1473.3,321.6 L1474.9,320.6 L1476.5,320.2 L1478.0,317.5 L1479.6,317.6 L1481.1,314.7 L1482.7,314.0 L1484.3,311.7 L1485.8,311.5 L1487.4,309.2 L1489.0,309.3 L1490.5,307.8 L1492.1,306.1 L1493.6,302.8 L1495.2,300.4 L1496.7,302.9 L1498.3,300.8 L1499.8,299.4 L1501.4,297.8 L1502.9,297.3 L1504.5,295.1 L1506.0,295.1 L1507.6,294.0 L1509.1,292.8 L1510.7,291.7 L1512.2,290.5 L1513.8,288.3 L1515.3,286.5 L1516.9,286.1 L1518.4,284.3 L1520.0,281.5 L1521.5,277.7 L1523.1,279.8 L1524.6,280.9 L1526.2,277.6 L1527.7,278.3 L1529.3,276.7 L1530.9,274.7 L1532.4,272.9 L1533.9,270.9 L1535.4,271.6 L1536.8,268.3 L1538.3,262.7 L1539.7,264.8 L1541.1,264.1 L1542.5,264.1 L1543.8,260.9 L1545.2,261.4 L1546.6,259.7 L1547.9,258.0 L1549.2,256.8 L1550.6,255.4 L1551.9,252.1 L1553.2,249.7 L1554.5,249.7 L1555.9,249.0 L1557.2,247.0 L1558.5,241.6 L1559.8,233.8 L1561.1,239.4 L1562.4,240.1 L1563.7,237.5 L1565.0,237.5 L1566.3,234.4 L1567.6,234.1 L1568.9,231.8 L1570.1,231.2 L1571.4,228.4 L1572.6,228.2 L1573.9,225.3 L1575.2,225.5 L1576.5,222.6 L1577.8,221.8 L1579.1,221.3 L1580.4,218.5 L1581.8,218.9 L1583.2,216.0 L1584.6,214.5 L1586.0,213.8 L1587.5,212.4 L1589.0,210.5 L1590.5,209.7 L1592.0,209.9 L1593.6,208.7 L1595.1,205.1 L1596.7,205.3 L1598.3,203.9 L1600.0,203.8 L1601.7,202.9 L1603.4,201.1 L1605.1,201.3 L1606.9,201.0 L1608.8,199.6 L1610.6,199.4 L1612.5,195.4 L1614.4,193.9 L1616.3,195.4 L1616.3,207.1 L1614.4,207.7 L1612.5,208.6 L1610.6,209.7 L1608.8,210.2 L1606.9,211.4 L1605.1,212.2 L1603.4,215.7 L1601.7,222.7 L1600.0,219.9 L1598.3,216.6 L1596.7,218.2 L1595.1,219.3 L1593.6,222.4 L1592.0,221.7 L1590.5,222.9 L1589.0,226.7 L1587.5,227.9 L1586.0,228.7 L1584.6,231.1 L1583.2,231.3 L1581.8,232.8 L1580.4,234.5 L1579.1,235.6 L1577.8,237.2 L1576.5,240.3 L1575.2,242.0 L1573.9,243.2 L1572.6,243.8 L1571.4,246.6 L1570.1,247.8 L1568.9,248.1 L1567.6,251.6 L1566.3,253.1 L1565.0,253.6 L1563.7,256.0 L1562.4,258.5 L1561.1,263.3 L1559.8,262.7 L1558.5,260.9 L1557.2,263.3 L1555.9,264.7 L1554.5,265.8 L1553.2,267.1 L1551.9,268.8 L1550.6,270.4 L1549.2,270.1 L1547.9,274.0 L1546.6,274.9 L1545.2,275.7 L1543.8,276.2 L1542.5,278.1 L1541.1,279.6 L1539.7,283.1 L1538.3,288.2 L1536.8,286.9 L1535.4,285.9 L1533.9,285.1 L1532.4,288.8 L1530.9,288.3 L1529.3,290.8 L1527.7,290.8 L1526.2,295.3 L1524.6,303.5 L1523.1,307.5 L1521.5,302.4 L1520.0,302.1 L1518.4,299.7 L1516.9,298.8 L1515.3,300.0 L1513.8,302.4 L1512.2,304.6 L1510.7,307.5 L1509.1,319.9 L1507.6,314.6 L1506.0,309.4 L1504.5,309.0 L1502.9,312.2 L1501.4,311.4 L1499.8,315.1 L1498.3,314.8 L1496.7,315.7 L1495.2,318.6 L1493.6,319.2 L1492.1,322.4 L1490.5,327.2 L1489.0,324.8 L1487.4,322.8 L1485.8,324.5 L1484.3,325.7 L1482.7,326.8 L1481.1,328.9 L1479.6,330.0 L1478.0,332.6 L1476.5,333.4 L1474.9,333.0 L1473.3,334.6 L1471.8,337.4 L1470.2,337.9 L1468.6,340.9 L1467.1,341.3 L1465.5,342.9 L1463.9,342.1 L1462.3,345.0 L1460.8,344.7 L1459.2,345.8 L1457.6,347.3 L1456.0,349.1 L1454.5,354.5 L1452.9,353.8 L1451.3,353.1 L1449.7,353.6 L1448.2,354.4 L1446.6,358.6 L1445.0,360.1 L1443.4,362.7 L1441.8,361.6 L1440.3,360.2 L1438.7,361.9 L1437.1,364.3 L1435.5,365.1 L1433.9,366.5 L1432.3,365.9 L1430.7,367.8 L1429.2,369.3 L1427.6,371.9 L1426.0,373.1 L1424.4,372.0 L1422.8,375.6 L1421.2,375.1 L1419.6,378.9 L1418.0,386.8 L1416.4,383.8 L1414.8,381.5 L1413.2,382.2 L1411.7,382.4 L1410.1,384.5 L1408.5,385.2 L1406.9,385.6 L1405.3,388.0 L1403.7,388.5 L1402.1,391.8 L1400.5,392.1 L1398.9,391.2 L1397.3,393.4 L1395.7,395.6 L1394.1,395.8 L1392.5,398.2 L1390.9,408.4 L1389.2,404.6 L1387.6,401.9 L1386.0,401.8 L1384.4,402.2 L1382.8,404.3 L1381.2,406.0 L1379.6,407.3 L1378.0,408.2 L1376.4,410.2 L1374.8,408.9 L1373.2,412.1 L1371.6,412.1 L1369.9,413.2 L1368.3,415.3 L1366.7,415.5 L1365.1,418.7 L1363.5,418.8 L1361.9,424.5 L1360.2,421.7 L1358.6,421.6 L1357.0,421.9 L1355.4,425.2 L1353.8,425.2 L1352.2,428.0 L1350.5,428.2 L1348.9,429.2 L1347.3,433.3 L1345.7,431.2 L1344.0,432.8 L1342.4,434.7 L1340.8,433.7 L1339.2,436.4 L1337.5,436.7 L1335.9,438.5 L1334.3,440.6 L1332.7,440.6 L1331.0,442.3 L1329.4,444.0 L1327.8,443.8 L1326.2,445.5 L1324.5,445.1 L1322.9,447.8 L1321.3,452.5 L1319.6,452.6 L1318.0,450.5 L1316.4,452.0 L1314.7,452.5 L1313.1,455.4 L1311.5,456.5 L1309.8,462.6 L1308.2,460.7 L1306.6,464.6 L1304.9,463.3 L1303.3,462.7 L1301.6,462.4 L1300.0,462.6 L1298.4,463.8 L1296.7,464.8 L1295.1,468.1 L1293.4,469.7 L1291.8,468.5 L1290.2,469.9 L1288.5,471.5 L1286.9,471.5 L1285.2,473.9 L1283.6,475.5 L1281.9,475.2 L1280.3,478.7 L1278.6,478.7 L1277.0,478.4 L1275.4,480.1 L1273.7,481.1 L1272.1,483.6 L1270.4,485.2 L1268.8,486.2 L1267.1,485.3 L1265.5,487.9 L1263.8,488.4 L1262.2,490.0 L1260.5,490.4 L1258.9,495.3 L1257.2,503.1 L1255.6,499.6 L1253.9,494.7 L1252.2,496.9 L1250.6,496.4 L1248.9,499.3 L1247.3,501.1 L1245.6,500.0 L1244.0,502.4 L1242.3,502.1 L1240.7,505.4 L1239.0,513.1 L1237.3,509.8 L1235.7,508.8 L1234.0,508.5 L1232.4,510.2 L1230.7,512.0 L1229.0,511.5 L1227.4,512.2 L1225.7,515.4 L1224.1,516.3 L1222.4,516.1 L1220.7,517.5 L1219.1,520.1 L1217.4,518.7 L1215.7,520.5 L1214.1,524.1 L1212.4,524.7 L1210.8,525.0 L1209.1,525.3 L1207.4,527.5 L1205.8,528.0 L1204.1,530.3 L1202.4,530.8 L1200.8,530.1 L1199.1,532.4 L1197.4,532.6 L1195.8,536.3 L1194.1,536.3 L1192.4,536.9 L1190.8,539.1 L1189.1,540.1 L1187.4,540.0 L1185.8,541.0 L1184.1,542.4 L1182.4,544.7 L1180.8,544.2 L1179.1,544.2 L1177.4,547.2 L1175.8,548.0 L1174.1,548.0 L1172.4,550.7 L1170.8,551.9 L1169.1,551.2 L1167.4,552.9 L1165.7,554.9 L1164.1,556.7 L1162.4,557.4 L1160.7,558.1 L1159.1,557.6 L1157.4,558.9 L1155.7,559.6 L1154.1,562.5 L1152.4,564.1 L1150.7,565.4 L1149.0,564.2 L1147.4,567.4 L1145.7,567.9 L1144.0,570.1 L1142.4,571.1 L1140.7,571.2 L1139.0,571.3 L1137.4,571.7 L1135.7,574.7 L1134.0,574.3 L1132.3,577.3 L1130.7,576.2 L1129.0,578.9 L1127.3,584.7 L1125.7,582.8 L1124.0,581.6 L1122.3,582.6 L1120.7,583.2 L1119.0,586.0 L1117.3,586.6 L1115.6,587.6 L1114.0,589.1 L1112.3,589.9 L1110.6,591.2 L1109.0,592.6 L1107.3,593.9 L1105.6,592.9 L1104.0,595.7 L1102.3,595.6 L1100.6,596.8 L1099.0,599.4 L1097.3,599.3 L1095.6,600.9 L1094.0,603.0 L1092.3,605.1 L1090.6,613.1 L1089.0,609.7 L1087.3,607.0 L1085.6,608.4 L1084.0,609.3 L1082.3,610.1 L1080.6,609.5 L1079.0,612.3 L1077.3,612.7 L1075.6,613.2 L1074.0,613.9 L1072.3,614.9 L1070.6,616.6 L1069.0,618.4 L1067.3,618.7 L1065.6,620.6 L1064.0,623.0 L1062.3,621.6 L1060.7,625.1 L1059.0,626.2 L1057.3,624.7 L1055.7,628.5 L1054.0,627.2 L1052.3,628.5 L1050.7,631.8 L1049.0,632.7 L1047.4,633.3 L1045.7,633.5 L1044.1,636.2 L1042.4,638.0 L1040.7,641.2 L1039.1,638.8 L1037.4,638.3 L1035.8,640.4 L1034.1,641.9 L1032.5,642.8 L1030.8,644.2 L1029.1,645.6 L1027.5,646.3 L1025.8,648.7 L1024.2,647.3 L1022.5,650.8 L1020.9,651.5 L1019.2,653.4 L1017.6,653.2 L1015.9,654.7 L1014.3,655.7 L1012.6,656.9 L1011.0,661.8 L1009.3,661.2 L1007.7,659.2 L1006.0,661.4 L1004.4,660.9 L1002.7,663.6 L1001.1,667.0 L999.4,677.3 L997.8,672.2 L996.2,671.5 L994.5,670.4 L992.9,671.2 L991.2,669.9 L989.6,672.3 L988.0,673.4 L986.3,674.2 L984.7,676.3 L983.0,677.8 L981.4,678.3 L979.8,680.3 L978.1,679.0 L976.5,680.9 L974.9,681.5 L973.2,682.5 L971.6,684.0 L969.9,687.8 L968.3,689.5 L966.7,689.5 L965.1,688.8 L963.4,690.4 L961.8,691.4 L960.2,694.2 L958.5,693.5 L956.9,696.0 L955.3,696.4 L953.7,696.5 L952.0,700.2 L950.4,700.4 L948.8,700.9 L947.2,703.4 L945.5,704.1 L943.9,708.7 L942.3,716.4 L940.7,711.0 L939.1,707.3 L937.4,711.3 L935.8,715.1 L934.2,713.0 L932.6,714.4 L931.0,713.7 L929.4,715.2 L927.7,715.7 L926.1,718.8 L924.5,719.7 L922.9,722.5 L921.3,725.7 L919.7,725.0 L918.1,723.3 L916.5,725.7 L914.9,725.4 L913.2,727.1 L911.6,731.0 L910.0,733.8 L908.4,735.0 L906.8,734.2 L905.2,735.4 L903.6,733.3 L902.0,736.6 L900.4,735.5 L898.8,739.3 L897.2,738.9 L895.5,740.4 L893.9,742.5 L892.3,741.4 L890.7,743.3 L889.1,746.3 L887.5,745.6 L885.9,748.9 L884.3,748.3 L882.7,750.9 L881.1,751.7 L879.5,753.1 L877.9,753.0 L876.3,755.7 L874.7,755.2 L873.0,758.1 L871.4,757.8 L869.8,759.1 L868.2,760.2 L866.6,763.0 L865.0,763.6 L863.4,765.0 L861.8,766.1 L860.2,767.2 L858.6,767.6 L857.0,770.3 L855.3,771.8 L853.7,771.3 L852.1,772.9 L850.5,773.9 L848.9,774.6 L847.3,776.5 L845.7,777.5 L844.1,777.0 L842.4,780.1 L840.8,779.8 L839.2,783.0 L837.6,784.4 L836.0,783.2 L834.4,784.6 L832.7,787.2 L831.1,786.9 L829.5,789.6 L827.9,790.2 L826.3,790.1 L824.6,792.6 L823.0,792.9 L821.4,795.8 L819.8,796.3 L818.1,797.4 L816.5,799.3 L814.9,800.8 L813.3,805.5 L811.6,804.1 L810.0,804.2 L808.4,804.0 L806.7,807.6 L805.1,811.2 L803.5,809.4 L801.8,808.9 L800.2,808.6 L798.6,810.5 L796.9,813.0 L795.3,814.5 L793.6,813.9 L792.0,816.1 L790.3,818.4 L788.7,819.6 L787.1,824.3 L785.4,823.7 L783.8,822.1 L782.1,823.0 L780.5,822.9 L778.8,824.0 L777.1,824.3 L775.5,825.5 L773.8,829.1 L772.2,828.8 L770.5,830.5 L768.8,830.1 L767.2,833.1 L765.5,832.7 L763.9,834.5 L762.2,835.1 L760.5,835.6 L758.9,838.5 L757.2,839.0 L755.5,840.1 L753.8,842.3 L752.2,841.9 L750.5,842.0 L748.8,843.5 L747.1,845.6 L745.5,846.0 L743.8,846.7 L742.1,850.1 L740.4,850.7 L738.7,849.6 L737.1,850.6 L735.4,852.3 L733.7,853.7 L732.0,855.6 L730.3,856.2 L728.6,858.4 L727.0,863.4 L725.3,860.9 L723.6,861.6 L721.9,862.0 L720.2,863.5 L718.5,863.9 L716.8,864.7 L715.1,869.7 L713.5,868.0 L711.8,869.0 L710.1,874.9 L708.4,874.2 L706.7,873.2 L705.0,876.6 L703.3,876.2 L701.6,873.2 L699.9,874.2 L698.2,875.9 L696.5,878.7 L694.8,879.3 L693.2,879.9 L691.5,881.3 L689.8,889.8 L688.1,886.0 L686.4,882.7 L684.7,886.4 L683.0,884.8 L681.3,887.7 L679.6,888.8 L677.9,891.1 L676.2,896.5 L674.5,895.3 L672.8,894.4 L671.1,894.9 L669.4,898.4 L667.8,898.0 L666.1,895.9 L664.4,897.3 L662.7,900.1 L661.0,899.6 L659.3,904.3 L657.6,904.5 L655.9,904.4 L654.2,903.1 L652.5,910.2 L650.9,921.4 L649.2,914.2 L647.5,909.8 L645.8,910.9 L644.1,909.7 L642.4,912.5 L640.7,911.5 L639.0,912.9 L637.4,916.0 L635.7,917.6 L634.0,919.1 L632.3,917.0 L630.6,919.6 L628.9,919.7 L627.3,921.4 L625.6,924.0 L623.9,924.1 L622.2,925.3 L620.5,924.6 L618.9,927.4 L617.2,927.1 L615.5,930.9 L613.8,938.9 L612.1,935.3 L610.5,931.3 L608.8,932.1 L607.1,935.3 L605.4,934.9 L603.8,937.4 L602.1,939.2 L600.4,940.8 L598.7,941.0 L597.1,940.9 L595.4,943.1 L593.7,942.5 L592.1,943.7 L590.4,945.8 L588.7,946.4 L587.0,947.1 L585.4,947.8 L583.7,950.3 L582.0,950.5 L580.4,952.2 L578.7,952.8 L577.0,954.2 L575.4,956.7 L573.7,957.2 L572.0,959.1 L570.4,960.5 L568.7,964.7 L567.1,962.4 L565.4,963.1 L563.7,962.1 L562.1,963.1 L560.4,965.0 L558.8,966.4 L557.1,967.8 L555.5,969.1 L553.8,968.9 L552.1,971.6 L550.5,974.1 L548.8,977.3 L547.2,976.8 L545.5,975.8 L543.9,975.5 L542.2,978.0 L540.6,978.7 L538.9,981.1 L537.3,980.0 L535.6,981.5 L534.0,984.4 L532.3,985.3 L530.7,985.6 L529.1,986.4 L527.4,987.7 L525.8,989.5 L524.1,990.0 L522.5,991.1 L520.8,991.6 L519.2,994.7 L517.6,1000.6 L515.9,999.8 L514.3,997.0 L512.7,997.2 L511.0,1000.0 L509.4,999.9 L507.8,1001.3 L506.1,1001.9 L504.5,1003.8 L502.9,1004.8 L501.3,1006.2 L499.7,1008.9 L498.1,1009.7 L496.5,1010.0 L494.9,1011.4 L493.4,1012.4 L491.8,1014.1 L490.2,1016.2 L488.7,1016.2 L487.2,1018.5 L485.6,1020.9 L484.1,1019.6 L482.6,1023.0 L481.1,1024.9 L479.7,1025.9 L478.2,1027.8 L476.7,1027.8 L475.3,1029.0 L473.8,1032.0 L472.4,1032.0 L471.0,1034.1 L469.6,1035.6 L468.3,1037.0 L466.9,1037.8 L465.6,1040.9 L464.2,1041.1 L462.9,1044.3 L461.6,1045.7 L460.3,1047.0 L459.0,1048.6 L457.7,1058.1 L456.4,1054.6 L455.1,1056.4 L453.8,1058.1 L452.6,1056.6 L451.3,1056.8 L450.1,1059.8 L448.9,1059.8 L447.8,1062.7 L446.6,1063.6 L445.5,1065.3 L444.4,1068.2 L443.3,1069.9 L442.3,1071.2 L441.2,1072.5 L440.2,1074.9 L439.1,1075.9 L438.1,1078.0 L437.2,1080.6 L436.2,1082.4 L435.3,1084.1 L434.4,1086.2 L433.5,1088.2 L432.6,1090.3 L431.8,1092.4 L431.0,1094.3 L430.2,1096.4 L429.4,1098.5 L428.7,1100.4 Z" fill="#f0f" stroke="none"/>
<path d="M1618.0,1255.0 L1618.0,1272.8 L1625.5,1272.8 L1627.3,1274.2 L1629.0,1273.2 L1634.2,1278.6 L1634.6,1272.4 L1636.8,1272.0 L1639.7,1267.7 L1633.5,1261.8 L1631.3,1262.2 L1628.0,1257.5 L1626.6,1262.2 L1626.6,1255.0 Z" fill="#f0f"/>
</g>
<g id="labelsA">
<text transform="translate(244.50 1265.80) scale(0.956 1)" font-size="65.52" text-anchor="end" fill="#000">0</text>
<text transform="translate(244.50 1085.45) scale(0.956 1)" font-size="65.52" text-anchor="end" fill="#000">5</text>
<text transform="translate(244.50 905.10) scale(0.956 1)" font-size="65.52" text-anchor="end" fill="#000">10</text>
<text transform="translate(244.50 724.75) scale(0.956 1)" font-size="65.52" text-anchor="end" fill="#000">15</text>
<text transform="translate(244.50 544.40) scale(0.956 1)" font-size="65.52" text-anchor="end" fill="#000">20</text>
<text transform="translate(244.50 364.05) scale(0.956 1)" font-size="65.52" text-anchor="end" fill="#000">25</text>
<text transform="translate(244.50 183.70) scale(0.956 1)" font-size="65.52" text-anchor="end" fill="#000">30</text>
<text transform="translate(382.10 1338.30) scale(0.956 1)" font-size="65.52" text-anchor="middle" fill="#000">0</text>
<text transform="translate(580.35 1338.30) scale(0.956 1)" font-size="65.52" text-anchor="middle" fill="#000">100</text>
<text transform="translate(778.60 1338.30) scale(0.956 1)" font-size="65.52" text-anchor="middle" fill="#000">200</text>
<text transform="translate(976.85 1338.30) scale(0.956 1)" font-size="65.52" text-anchor="middle" fill="#000">300</text>
<text transform="translate(1175.10 1338.30) scale(0.956 1)" font-size="65.52" text-anchor="middle" fill="#000">400</text>
<text transform="translate(1373.35 1338.30) scale(0.956 1)" font-size="65.52" text-anchor="middle" fill="#000">500</text>
<text transform="translate(1571.60 1338.30) scale(0.956 1)" font-size="65.52" text-anchor="middle" fill="#000">600</text>
<text transform="translate(1769.85 1338.30) scale(0.956 1)" font-size="65.52" text-anchor="middle" fill="#000">700</text>
<text transform="translate(1075.50 1449.30) scale(0.956 1)" font-size="65.52" text-anchor="middle" fill="#000">Strain( % )</text>
<text transform="translate(123.80 705.50) rotate(-90) scale(0.956 1)" font-size="65.52" text-anchor="middle" fill="#000">Stress( MPa )</text>
<text transform="translate(1770.00 178.80) scale(0.956 1)" font-size="71.76" text-anchor="middle" fill="#000">(a)</text>
</g>
<g id="legendA">
<line x1="385.30" y1="189.10" x2="534.50" y2="189.10" stroke="#000" stroke-width="9.3" stroke-linecap="butt"/>
<text transform="translate(553.30 210.00) scale(0.953 1)" font-size="65.52" text-anchor="start" fill="#000">0%CPSFTPU</text>
<text transform="translate(934.20 231.70) scale(1.06 1)" font-size="39.2" fill="#000" clip-path="url(#c1)">1</text>
<line x1="385.30" y1="266.80" x2="534.50" y2="266.80" stroke="#f00" stroke-width="9.3" stroke-linecap="butt"/>
<text transform="translate(549.30 294.90) scale(0.953 1)" font-size="65.52" text-anchor="start" fill="#000">3%CPSFTPU</text>
<text transform="translate(930.30 316.00) scale(1.06 1)" font-size="39.2" fill="#000" clip-path="url(#c1)">1</text>
<line x1="385.30" y1="344.50" x2="534.50" y2="344.50" stroke="#00f" stroke-width="9.3" stroke-linecap="butt"/>
<text transform="translate(549.30 371.90) scale(0.953 1)" font-size="65.52" text-anchor="start" fill="#000">6%CPSFTPU</text>
<text transform="translate(930.30 393.30) scale(1.06 1)" font-size="39.2" fill="#000" clip-path="url(#c1)">1</text>
<line x1="385.30" y1="422.20" x2="534.50" y2="422.20" stroke="#f0f" stroke-width="9.3" stroke-linecap="butt"/>
<text transform="translate(548.10 456.50) scale(0.953 1)" font-size="65.52" text-anchor="start" fill="#000">9%CPSFTPU</text>
<text transform="translate(928.40 477.30) scale(1.06 1)" font-size="39.2" fill="#000" clip-path="url(#c1)">1</text>
</g>
<g id="bars">
<rect x="277.8" y="1794.7" width="81.9" height="732.9" fill="#000" stroke="#000" stroke-width="2"/>
<rect x="360.7" y="2325.6" width="79.0" height="202.0" fill="#f00" stroke="#000" stroke-width="2"/>
<rect x="440.7" y="1859.2" width="80.7" height="668.4" fill="#00f" stroke="#000" stroke-width="2"/>
<rect x="600.0" y="1978.0" width="81.9" height="549.6" fill="#000" stroke="#000" stroke-width="2"/>
<rect x="682.9" y="2004.1" width="78.6" height="523.5" fill="#f00" stroke="#000" stroke-width="2"/>
<rect x="762.5" y="1888.0" width="81.1" height="639.6" fill="#00f" stroke="#000" stroke-width="2"/>
<rect x="922.2" y="1645.9" width="81.9" height="881.7" fill="#000" stroke="#000" stroke-width="2"/>
<rect x="1005.1" y="1756.3" width="79.0" height="771.3" fill="#f00" stroke="#000" stroke-width="2"/>
<rect x="1085.1" y="1705.9" width="80.7" height="821.7" fill="#00f" stroke="#000" stroke-width="2"/>
<rect x="1244.4" y="1700.3" width="81.9" height="827.3" fill="#000" stroke="#000" stroke-width="2"/>
<rect x="1327.3" y="1739.1" width="81.0" height="788.5" fill="#f00" stroke="#000" stroke-width="2"/>
<rect x="1409.3" y="1979.2" width="79.1" height="548.4" fill="#00f" stroke="#000" stroke-width="2"/>
<line x1="318.00" y1="1778.50" x2="318.00" y2="1808.90" stroke="#000" stroke-width="2.2" stroke-linecap="butt"/>
<line x1="307.60" y1="1778.50" x2="328.40" y2="1778.50" stroke="#000" stroke-width="2.2" stroke-linecap="butt"/>
<line x1="307.60" y1="1808.90" x2="328.40" y2="1808.90" stroke="#000" stroke-width="2.2" stroke-linecap="butt"/>
<line x1="400.50" y1="2265.70" x2="400.50" y2="2383.80" stroke="#000" stroke-width="2.2" stroke-linecap="butt"/>
<line x1="390.10" y1="2265.70" x2="410.90" y2="2265.70" stroke="#000" stroke-width="2.2" stroke-linecap="butt"/>
<line x1="390.10" y1="2383.80" x2="410.90" y2="2383.80" stroke="#000" stroke-width="2.2" stroke-linecap="butt"/>
<line x1="480.10" y1="1712.10" x2="480.10" y2="2005.50" stroke="#000" stroke-width="2.2" stroke-linecap="butt"/>
<line x1="469.70" y1="1712.10" x2="490.50" y2="1712.10" stroke="#000" stroke-width="2.2" stroke-linecap="butt"/>
<line x1="469.70" y1="2005.50" x2="490.50" y2="2005.50" stroke="#000" stroke-width="2.2" stroke-linecap="butt"/>
<line x1="640.20" y1="1963.40" x2="640.20" y2="1990.60" stroke="#000" stroke-width="2.2" stroke-linecap="butt"/>
<line x1="629.80" y1="1963.40" x2="650.60" y2="1963.40" stroke="#000" stroke-width="2.2" stroke-linecap="butt"/>
<line x1="629.80" y1="1990.60" x2="650.60" y2="1990.60" stroke="#000" stroke-width="2.2" stroke-linecap="butt"/>
<line x1="722.30" y1="1935.00" x2="722.30" y2="2072.30" stroke="#000" stroke-width="2.2" stroke-linecap="butt"/>
<line x1="711.90" y1="1935.00" x2="732.70" y2="1935.00" stroke="#000" stroke-width="2.2" stroke-linecap="butt"/>
<line x1="711.90" y1="2072.30" x2="732.70" y2="2072.30" stroke="#000" stroke-width="2.2" stroke-linecap="butt"/>
<line x1="802.30" y1="1798.90" x2="802.30" y2="1975.90" stroke="#000" stroke-width="2.2" stroke-linecap="butt"/>
<line x1="791.90" y1="1798.90" x2="812.70" y2="1798.90" stroke="#000" stroke-width="2.2" stroke-linecap="butt"/>
<line x1="791.90" y1="1975.90" x2="812.70" y2="1975.90" stroke="#000" stroke-width="2.2" stroke-linecap="butt"/>
<line x1="962.40" y1="1634.80" x2="962.40" y2="1655.00" stroke="#000" stroke-width="2.2" stroke-linecap="butt"/>
<line x1="952.00" y1="1634.80" x2="972.80" y2="1634.80" stroke="#000" stroke-width="2.2" stroke-linecap="butt"/>
<line x1="952.00" y1="1655.00" x2="972.80" y2="1655.00" stroke="#000" stroke-width="2.2" stroke-linecap="butt"/>
<line x1="1044.90" y1="1718.50" x2="1044.90" y2="1792.90" stroke="#000" stroke-width="2.2" stroke-linecap="butt"/>
<line x1="1034.50" y1="1718.50" x2="1055.30" y2="1718.50" stroke="#000" stroke-width="2.2" stroke-linecap="butt"/>
<line x1="1034.50" y1="1792.90" x2="1055.30" y2="1792.90" stroke="#000" stroke-width="2.2" stroke-linecap="butt"/>
<line x1="1124.90" y1="1613.20" x2="1124.90" y2="1797.70" stroke="#000" stroke-width="2.2" stroke-linecap="butt"/>
<line x1="1114.50" y1="1613.20" x2="1135.30" y2="1613.20" stroke="#000" stroke-width="2.2" stroke-linecap="butt"/>
<line x1="1114.50" y1="1797.70" x2="1135.30" y2="1797.70" stroke="#000" stroke-width="2.2" stroke-linecap="butt"/>
<line x1="1285.00" y1="1683.70" x2="1285.00" y2="1714.90" stroke="#000" stroke-width="2.2" stroke-linecap="butt"/>
<line x1="1274.60" y1="1683.70" x2="1295.40" y2="1683.70" stroke="#000" stroke-width="2.2" stroke-linecap="butt"/>
<line x1="1274.60" y1="1714.90" x2="1295.40" y2="1714.90" stroke="#000" stroke-width="2.2" stroke-linecap="butt"/>
<line x1="1367.10" y1="1662.90" x2="1367.10" y2="1813.80" stroke="#000" stroke-width="2.2" stroke-linecap="butt"/>
<line x1="1356.70" y1="1662.90" x2="1377.50" y2="1662.90" stroke="#000" stroke-width="2.2" stroke-linecap="butt"/>
<line x1="1356.70" y1="1813.80" x2="1377.50" y2="1813.80" stroke="#000" stroke-width="2.2" stroke-linecap="butt"/>
<line x1="1447.10" y1="1902.20" x2="1447.10" y2="2054.30" stroke="#000" stroke-width="2.2" stroke-linecap="butt"/>
<line x1="1436.70" y1="1902.20" x2="1457.50" y2="1902.20" stroke="#000" stroke-width="2.2" stroke-linecap="butt"/>
<line x1="1436.70" y1="2054.30" x2="1457.50" y2="2054.30" stroke="#000" stroke-width="2.2" stroke-linecap="butt"/>
</g>
<g id="axesB">
<line x1="238.50" y1="1573.90" x2="238.50" y2="2539.10" stroke="#000" stroke-width="3.8" stroke-linecap="butt"/>
<line x1="217.50" y1="2527.60" x2="1526.30" y2="2527.60" stroke="#000" stroke-width="3.8" stroke-linecap="butt"/>
<line x1="236.60" y1="1575.80" x2="1526.30" y2="1575.80" stroke="#000" stroke-width="3.8" stroke-linecap="butt"/>
<line x1="217.50" y1="2394.23" x2="238.50" y2="2394.23" stroke="#000" stroke-width="3.8" stroke-linecap="butt"/>
<line x1="217.50" y1="2261.06" x2="238.50" y2="2261.06" stroke="#000" stroke-width="3.8" stroke-linecap="butt"/>
<line x1="217.50" y1="2127.89" x2="238.50" y2="2127.89" stroke="#000" stroke-width="3.8" stroke-linecap="butt"/>
<line x1="217.50" y1="1994.72" x2="238.50" y2="1994.72" stroke="#000" stroke-width="3.8" stroke-linecap="butt"/>
<line x1="217.50" y1="1861.55" x2="238.50" y2="1861.55" stroke="#000" stroke-width="3.8" stroke-linecap="butt"/>
<line x1="217.50" y1="1728.38" x2="238.50" y2="1728.38" stroke="#000" stroke-width="3.8" stroke-linecap="butt"/>
<line x1="217.50" y1="1595.21" x2="238.50" y2="1595.21" stroke="#000" stroke-width="3.8" stroke-linecap="butt"/>
<line x1="227.00" y1="2460.82" x2="238.50" y2="2460.82" stroke="#000" stroke-width="3.8" stroke-linecap="butt"/>
<line x1="227.00" y1="2327.64" x2="238.50" y2="2327.64" stroke="#000" stroke-width="3.8" stroke-linecap="butt"/>
<line x1="227.00" y1="2194.47" x2="238.50" y2="2194.47" stroke="#000" stroke-width="3.8" stroke-linecap="butt"/>
<line x1="227.00" y1="2061.31" x2="238.50" y2="2061.31" stroke="#000" stroke-width="3.8" stroke-linecap="butt"/>
<line x1="227.00" y1="1928.13" x2="238.50" y2="1928.13" stroke="#000" stroke-width="3.8" stroke-linecap="butt"/>
<line x1="227.00" y1="1794.97" x2="238.50" y2="1794.97" stroke="#000" stroke-width="3.8" stroke-linecap="butt"/>
<line x1="227.00" y1="1661.80" x2="238.50" y2="1661.80" stroke="#000" stroke-width="3.8" stroke-linecap="butt"/>
<line x1="400.20" y1="2527.60" x2="400.20" y2="2548.60" stroke="#000" stroke-width="3.8" stroke-linecap="butt"/>
<line x1="722.30" y1="2527.60" x2="722.30" y2="2548.60" stroke="#000" stroke-width="3.8" stroke-linecap="butt"/>
<line x1="1044.80" y1="2527.60" x2="1044.80" y2="2548.60" stroke="#000" stroke-width="3.8" stroke-linecap="butt"/>
<line x1="1367.00" y1="2527.60" x2="1367.00" y2="2548.60" stroke="#000" stroke-width="3.8" stroke-linecap="butt"/>
<line x1="561.30" y1="2527.60" x2="561.30" y2="2539.40" stroke="#000" stroke-width="3.8" stroke-linecap="butt"/>
<line x1="883.50" y1="2527.60" x2="883.50" y2="2539.40" stroke="#000" stroke-width="3.8" stroke-linecap="butt"/>
<line x1="1205.80" y1="2527.60" x2="1205.80" y2="2539.40" stroke="#000" stroke-width="3.8" stroke-linecap="butt"/>
<line x1="1528.20" y1="2527.60" x2="1528.20" y2="2539.40" stroke="#000" stroke-width="3.8" stroke-linecap="butt"/>
<line x1="1528.20" y1="1574.10" x2="1528.20" y2="2529.20" stroke="#f00" stroke-width="3.8" stroke-linecap="butt"/>
<line x1="1528.20" y1="2527.30" x2="1549.20" y2="2527.30" stroke="#f00" stroke-width="3.8" stroke-linecap="butt"/>
<line x1="1528.20" y1="2391.40" x2="1549.20" y2="2391.40" stroke="#f00" stroke-width="3.8" stroke-linecap="butt"/>
<line x1="1528.20" y1="2255.50" x2="1549.20" y2="2255.50" stroke="#f00" stroke-width="3.8" stroke-linecap="butt"/>
<line x1="1528.20" y1="2119.60" x2="1549.20" y2="2119.60" stroke="#f00" stroke-width="3.8" stroke-linecap="butt"/>
<line x1="1528.20" y1="1983.70" x2="1549.20" y2="1983.70" stroke="#f00" stroke-width="3.8" stroke-linecap="butt"/>
<line x1="1528.20" y1="1847.80" x2="1549.20" y2="1847.80" stroke="#f00" stroke-width="3.8" stroke-linecap="butt"/>
<line x1="1528.20" y1="1711.90" x2="1549.20" y2="1711.90" stroke="#f00" stroke-width="3.8" stroke-linecap="butt"/>
<line x1="1528.20" y1="1576.00" x2="1549.20" y2="1576.00" stroke="#f00" stroke-width="3.8" stroke-linecap="butt"/>
<line x1="1528.20" y1="2459.35" x2="1540.20" y2="2459.35" stroke="#f00" stroke-width="3.8" stroke-linecap="butt"/>
<line x1="1528.20" y1="2323.45" x2="1540.20" y2="2323.45" stroke="#f00" stroke-width="3.8" stroke-linecap="butt"/>
<line x1="1528.20" y1="2187.55" x2="1540.20" y2="2187.55" stroke="#f00" stroke-width="3.8" stroke-linecap="butt"/>
<line x1="1528.20" y1="2051.65" x2="1540.20" y2="2051.65" stroke="#f00" stroke-width="3.8" stroke-linecap="butt"/>
<line x1="1528.20" y1="1915.75" x2="1540.20" y2="1915.75" stroke="#f00" stroke-width="3.8" stroke-linecap="butt"/>
<line x1="1528.20" y1="1779.85" x2="1540.20" y2="1779.85" stroke="#f00" stroke-width="3.8" stroke-linecap="butt"/>
<line x1="1528.20" y1="1643.95" x2="1540.20" y2="1643.95" stroke="#f00" stroke-width="3.8" stroke-linecap="butt"/>
<line x1="1750.10" y1="1571.75" x2="1750.10" y2="2527.90" stroke="#00f" stroke-width="3.8" stroke-linecap="butt"/>
<line x1="1750.10" y1="2526.00" x2="1770.90" y2="2526.00" stroke="#00f" stroke-width="3.8" stroke-linecap="butt"/>
<line x1="1750.10" y1="2389.95" x2="1770.90" y2="2389.95" stroke="#00f" stroke-width="3.8" stroke-linecap="butt"/>
<line x1="1750.10" y1="2253.90" x2="1770.90" y2="2253.90" stroke="#00f" stroke-width="3.8" stroke-linecap="butt"/>
<line x1="1750.10" y1="2117.85" x2="1770.90" y2="2117.85" stroke="#00f" stroke-width="3.8" stroke-linecap="butt"/>
<line x1="1750.10" y1="1981.80" x2="1770.90" y2="1981.80" stroke="#00f" stroke-width="3.8" stroke-linecap="butt"/>
<line x1="1750.10" y1="1845.75" x2="1770.90" y2="1845.75" stroke="#00f" stroke-width="3.8" stroke-linecap="butt"/>
<line x1="1750.10" y1="1709.70" x2="1770.90" y2="1709.70" stroke="#00f" stroke-width="3.8" stroke-linecap="butt"/>
<line x1="1750.10" y1="1573.65" x2="1770.90" y2="1573.65" stroke="#00f" stroke-width="3.8" stroke-linecap="butt"/>
<line x1="1750.10" y1="2457.97" x2="1761.60" y2="2457.97" stroke="#00f" stroke-width="3.8" stroke-linecap="butt"/>
<line x1="1750.10" y1="2321.93" x2="1761.60" y2="2321.93" stroke="#00f" stroke-width="3.8" stroke-linecap="butt"/>
<line x1="1750.10" y1="2185.88" x2="1761.60" y2="2185.88" stroke="#00f" stroke-width="3.8" stroke-linecap="butt"/>
<line x1="1750.10" y1="2049.82" x2="1761.60" y2="2049.82" stroke="#00f" stroke-width="3.8" stroke-linecap="butt"/>
<line x1="1750.10" y1="1913.78" x2="1761.60" y2="1913.78" stroke="#00f" stroke-width="3.8" stroke-linecap="butt"/>
<line x1="1750.10" y1="1777.72" x2="1761.60" y2="1777.72" stroke="#00f" stroke-width="3.8" stroke-linecap="butt"/>
<line x1="1750.10" y1="1641.67" x2="1761.60" y2="1641.67" stroke="#00f" stroke-width="3.8" stroke-linecap="butt"/>
</g>
<g id="labelsB">
<text transform="translate(205.50 2541.80) scale(0.956 1)" font-size="52.52" text-anchor="end" fill="#000">0</text>
<text transform="translate(205.50 2408.63) scale(0.956 1)" font-size="52.52" text-anchor="end" fill="#000">100</text>
<text transform="translate(205.50 2275.46) scale(0.956 1)" font-size="52.52" text-anchor="end" fill="#000">200</text>
<text transform="translate(205.50 2142.29) scale(0.956 1)" font-size="52.52" text-anchor="end" fill="#000">300</text>
<text transform="translate(205.50 2009.12) scale(0.956 1)" font-size="52.52" text-anchor="end" fill="#000">400</text>
<text transform="translate(205.50 1875.95) scale(0.956 1)" font-size="52.52" text-anchor="end" fill="#000">500</text>
<text transform="translate(205.50 1742.78) scale(0.956 1)" font-size="52.52" text-anchor="end" fill="#000">600</text>
<text transform="translate(205.50 1609.61) scale(0.956 1)" font-size="52.52" text-anchor="end" fill="#000">700</text>
<text transform="translate(1561.50 2541.30) scale(0.956 1)" font-size="52.52" text-anchor="start" fill="#f00">0</text>
<text transform="translate(1782.50 2539.40) scale(0.956 1)" font-size="52.52" text-anchor="start" fill="#00f">0</text>
<text transform="translate(1561.50 2405.40) scale(0.956 1)" font-size="52.52" text-anchor="start" fill="#f00">5</text>
<text transform="translate(1782.50 2403.35) scale(0.956 1)" font-size="52.52" text-anchor="start" fill="#00f">5</text>
<text transform="translate(1561.50 2269.50) scale(0.956 1)" font-size="52.52" text-anchor="start" fill="#f00">10</text>
<text transform="translate(1782.50 2267.30) scale(0.956 1)" font-size="52.52" text-anchor="start" fill="#00f">10</text>
<text transform="translate(1561.50 2133.60) scale(0.956 1)" font-size="52.52" text-anchor="start" fill="#f00">15</text>
<text transform="translate(1782.50 2131.25) scale(0.956 1)" font-size="52.52" text-anchor="start" fill="#00f">15</text>
<text transform="translate(1561.50 1997.70) scale(0.956 1)" font-size="52.52" text-anchor="start" fill="#f00">20</text>
<text transform="translate(1782.50 1995.20) scale(0.956 1)" font-size="52.52" text-anchor="start" fill="#00f">20</text>
<text transform="translate(1561.50 1861.80) scale(0.956 1)" font-size="52.52" text-anchor="start" fill="#f00">25</text>
<text transform="translate(1782.50 1859.15) scale(0.956 1)" font-size="52.52" text-anchor="start" fill="#00f">25</text>
<text transform="translate(1561.50 1725.90) scale(0.956 1)" font-size="52.52" text-anchor="start" fill="#f00">30</text>
<text transform="translate(1782.50 1723.10) scale(0.956 1)" font-size="52.52" text-anchor="start" fill="#00f">30</text>
<text transform="translate(1561.50 1590.00) scale(0.956 1)" font-size="52.52" text-anchor="start" fill="#f00">35</text>
<text transform="translate(1782.50 1587.05) scale(0.956 1)" font-size="52.52" text-anchor="start" fill="#00f">35</text>
<text transform="translate(83.00 2088.30) rotate(-90) scale(0.956 1)" font-size="58.55" text-anchor="middle" fill="#000">Breaking strain( % )</text>
<text transform="translate(1681.80 2042.00) rotate(-90) scale(0.956 1)" font-size="58.97" text-anchor="middle" fill="#f00">Tensile stress( MPa )</text>
<text transform="translate(1912.30 2055.00) rotate(-90) scale(0.956 1)" font-size="58.86" text-anchor="middle" fill="#00f">Young,s modulus( MPa )</text>
<text transform="translate(1472.40 1649.10) scale(0.956 1)" font-size="58.24" text-anchor="middle" fill="#000">(b)</text>
<text transform="translate(388.50 2602.80) scale(0.956 1)" font-size="47.32" text-anchor="middle" fill="#000">0%CPSF</text>
<text transform="translate(346.80 2666.80) scale(0.956 1)" font-size="47.32" text-anchor="start" fill="#000">TPU</text>
<text transform="translate(437.42 2682.80) scale(1.085 1)" font-size="27.8" fill="#000" clip-path="url(#c2)">1</text>
<text transform="translate(737.20 2597.60) scale(0.956 1)" font-size="47.32" text-anchor="middle" fill="#000">3%CPSF</text>
<text transform="translate(695.00 2662.80) scale(0.956 1)" font-size="47.32" text-anchor="start" fill="#000">TPU</text>
<text transform="translate(786.82 2678.90) scale(1.085 1)" font-size="27.8" fill="#000" clip-path="url(#c2)">1</text>
<text transform="translate(1053.50 2604.90) scale(0.956 1)" font-size="47.32" text-anchor="middle" fill="#000">6%CPSF</text>
<text transform="translate(1012.00 2669.80) scale(0.956 1)" font-size="47.32" text-anchor="start" fill="#000">TPU</text>
<text transform="translate(1103.82 2685.50) scale(1.085 1)" font-size="27.8" fill="#000" clip-path="url(#c2)">1</text>
<text transform="translate(1369.50 2609.10) scale(0.956 1)" font-size="47.32" text-anchor="middle" fill="#000">9%CPFS</text>
<text transform="translate(1328.20 2674.00) scale(0.956 1)" font-size="47.32" text-anchor="start" fill="#000">TPU</text>
<text transform="translate(1419.72 2689.80) scale(1.085 1)" font-size="27.8" fill="#000" clip-path="url(#c2)">1</text>
</g>
</svg>
</body></html>
